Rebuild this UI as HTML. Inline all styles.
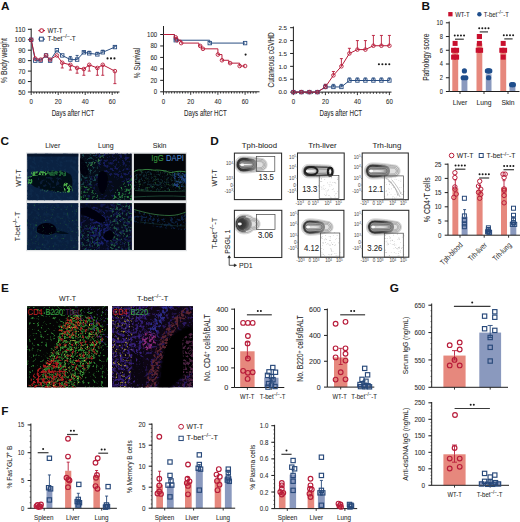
<!DOCTYPE html>
<html><head><meta charset="utf-8"><style>
html,body{margin:0;padding:0;background:#fff;width:520px;height:522px;overflow:hidden}
svg{display:block}
text{font-family:"Liberation Sans",sans-serif}
</style></head><body>
<svg width="520" height="522" viewBox="0 0 520 522" font-family="Liberation Sans, sans-serif">
<defs><filter id="nz1" x="0" y="0" width="100%" height="100%" color-interpolation-filters="sRGB"><feTurbulence type="fractalNoise" baseFrequency="0.3" numOctaves="2" seed="3" result="t"/><feColorMatrix in="t" type="matrix" values="0 0 0 0 0 0 0 0 0 0 0 0 0 0 0 6.25 0 0 0 -3.125" result="a"/><feComposite in="SourceGraphic" in2="a" operator="in"/></filter><filter id="nz2" x="0" y="0" width="100%" height="100%" color-interpolation-filters="sRGB"><feTurbulence type="fractalNoise" baseFrequency="0.4" numOctaves="2" seed="17" result="t"/><feColorMatrix in="t" type="matrix" values="0 0 0 0 0 0 0 0 0 0 0 0 0 0 0 6.25 0 0 0 -2.375" result="a"/><feComposite in="SourceGraphic" in2="a" operator="in"/></filter><filter id="nz3" x="0" y="0" width="100%" height="100%" color-interpolation-filters="sRGB"><feTurbulence type="fractalNoise" baseFrequency="0.45" numOctaves="2" seed="5" result="t"/><feColorMatrix in="t" type="matrix" values="0 0 0 0 0 0 0 0 0 0 0 0 0 0 0 6.25 0 0 0 -2.5" result="a"/><feComposite in="SourceGraphic" in2="a" operator="in"/></filter><filter id="nz4" x="0" y="0" width="100%" height="100%" color-interpolation-filters="sRGB"><feTurbulence type="fractalNoise" baseFrequency="0.45" numOctaves="2" seed="8" result="t"/><feColorMatrix in="t" type="matrix" values="0 0 0 0 0 0 0 0 0 0 0 0 0 0 0 6.25 0 0 0 -2.625" result="a"/><feComposite in="SourceGraphic" in2="a" operator="in"/></filter><filter id="nz5" x="0" y="0" width="100%" height="100%" color-interpolation-filters="sRGB"><feTurbulence type="fractalNoise" baseFrequency="0.413" numOctaves="2" seed="7" result="t"/><feColorMatrix in="t" type="matrix" values="0 0 0 0 0 0 0 0 0 0 0 0 0 0 0 6.25 0 0 0 -2.5" result="a"/><feComposite in="SourceGraphic" in2="a" operator="in"/></filter><filter id="nz6" x="0" y="0" width="100%" height="100%" color-interpolation-filters="sRGB"><feTurbulence type="fractalNoise" baseFrequency="0.45" numOctaves="2" seed="9" result="t"/><feColorMatrix in="t" type="matrix" values="0 0 0 0 0 0 0 0 0 0 0 0 0 0 0 6.25 0 0 0 -3.125" result="a"/><feComposite in="SourceGraphic" in2="a" operator="in"/></filter><filter id="nz7" x="0" y="0" width="100%" height="100%" color-interpolation-filters="sRGB"><feTurbulence type="fractalNoise" baseFrequency="0.3" numOctaves="2" seed="10" result="t"/><feColorMatrix in="t" type="matrix" values="0 0 0 0 0 0 0 0 0 0 0 0 0 0 0 6.25 0 0 0 -3.125" result="a"/><feComposite in="SourceGraphic" in2="a" operator="in"/></filter><filter id="nz8" x="0" y="0" width="100%" height="100%" color-interpolation-filters="sRGB"><feTurbulence type="fractalNoise" baseFrequency="0.375" numOctaves="2" seed="11" result="t"/><feColorMatrix in="t" type="matrix" values="0 0 0 0 0 0 0 0 0 0 0 0 0 0 0 6.25 0 0 0 -3.125" result="a"/><feComposite in="SourceGraphic" in2="a" operator="in"/></filter><filter id="nz9" x="0" y="0" width="100%" height="100%" color-interpolation-filters="sRGB"><feTurbulence type="fractalNoise" baseFrequency="0.375" numOctaves="2" seed="12" result="t"/><feColorMatrix in="t" type="matrix" values="0 0 0 0 0 0 0 0 0 0 0 0 0 0 0 6.25 0 0 0 -3.438" result="a"/><feComposite in="SourceGraphic" in2="a" operator="in"/></filter><filter id="nz10" x="0" y="0" width="100%" height="100%" color-interpolation-filters="sRGB"><feTurbulence type="fractalNoise" baseFrequency="0.413" numOctaves="2" seed="13" result="t"/><feColorMatrix in="t" type="matrix" values="0 0 0 0 0 0 0 0 0 0 0 0 0 0 0 6.25 0 0 0 -3.375" result="a"/><feComposite in="SourceGraphic" in2="a" operator="in"/></filter><filter id="nz11" x="0" y="0" width="100%" height="100%" color-interpolation-filters="sRGB"><feTurbulence type="fractalNoise" baseFrequency="0.413" numOctaves="2" seed="14" result="t"/><feColorMatrix in="t" type="matrix" values="0 0 0 0 0 0 0 0 0 0 0 0 0 0 0 6.25 0 0 0 -3.25" result="a"/><feComposite in="SourceGraphic" in2="a" operator="in"/></filter><filter id="nz12" x="0" y="0" width="100%" height="100%" color-interpolation-filters="sRGB"><feTurbulence type="fractalNoise" baseFrequency="0.413" numOctaves="2" seed="15" result="t"/><feColorMatrix in="t" type="matrix" values="0 0 0 0 0 0 0 0 0 0 0 0 0 0 0 6.25 0 0 0 -3.125" result="a"/><feComposite in="SourceGraphic" in2="a" operator="in"/></filter><filter id="nz13" x="0" y="0" width="100%" height="100%" color-interpolation-filters="sRGB"><feTurbulence type="fractalNoise" baseFrequency="0.45" numOctaves="2" seed="16" result="t"/><feColorMatrix in="t" type="matrix" values="0 0 0 0 0 0 0 0 0 0 0 0 0 0 0 6.25 0 0 0 -3.25" result="a"/><feComposite in="SourceGraphic" in2="a" operator="in"/></filter><filter id="nz14" x="0" y="0" width="100%" height="100%" color-interpolation-filters="sRGB"><feTurbulence type="fractalNoise" baseFrequency="0.413" numOctaves="2" seed="21" result="t"/><feColorMatrix in="t" type="matrix" values="0 0 0 0 0 0 0 0 0 0 0 0 0 0 0 6.25 0 0 0 -3.125" result="a"/><feComposite in="SourceGraphic" in2="a" operator="in"/></filter><filter id="nz15" x="0" y="0" width="100%" height="100%" color-interpolation-filters="sRGB"><feTurbulence type="fractalNoise" baseFrequency="0.375" numOctaves="2" seed="22" result="t"/><feColorMatrix in="t" type="matrix" values="0 0 0 0 0 0 0 0 0 0 0 0 0 0 0 6.25 0 0 0 -3.875" result="a"/><feComposite in="SourceGraphic" in2="a" operator="in"/></filter><filter id="nz16" x="0" y="0" width="100%" height="100%" color-interpolation-filters="sRGB"><feTurbulence type="fractalNoise" baseFrequency="0.375" numOctaves="2" seed="23" result="t"/><feColorMatrix in="t" type="matrix" values="0 0 0 0 0 0 0 0 0 0 0 0 0 0 0 6.25 0 0 0 -2.812" result="a"/><feComposite in="SourceGraphic" in2="a" operator="in"/></filter><filter id="nz17" x="0" y="0" width="100%" height="100%" color-interpolation-filters="sRGB"><feTurbulence type="fractalNoise" baseFrequency="0.3" numOctaves="2" seed="31" result="t"/><feColorMatrix in="t" type="matrix" values="0 0 0 0 0 0 0 0 0 0 0 0 0 0 0 6.25 0 0 0 -3.125" result="a"/><feComposite in="SourceGraphic" in2="a" operator="in"/></filter><filter id="nz18" x="0" y="0" width="100%" height="100%" color-interpolation-filters="sRGB"><feTurbulence type="fractalNoise" baseFrequency="0.45" numOctaves="2" seed="32" result="t"/><feColorMatrix in="t" type="matrix" values="0 0 0 0 0 0 0 0 0 0 0 0 0 0 0 6.25 0 0 0 -4.125" result="a"/><feComposite in="SourceGraphic" in2="a" operator="in"/></filter><filter id="nz19" x="0" y="0" width="100%" height="100%" color-interpolation-filters="sRGB"><feTurbulence type="fractalNoise" baseFrequency="0.338" numOctaves="2" seed="41" result="t"/><feColorMatrix in="t" type="matrix" values="0 0 0 0 0 0 0 0 0 0 0 0 0 0 0 6.25 0 0 0 -3.125" result="a"/><feComposite in="SourceGraphic" in2="a" operator="in"/></filter><filter id="nz20" x="0" y="0" width="100%" height="100%" color-interpolation-filters="sRGB"><feTurbulence type="fractalNoise" baseFrequency="0.375" numOctaves="2" seed="42" result="t"/><feColorMatrix in="t" type="matrix" values="0 0 0 0 0 0 0 0 0 0 0 0 0 0 0 6.25 0 0 0 -3.0" result="a"/><feComposite in="SourceGraphic" in2="a" operator="in"/></filter><filter id="nz21" x="0" y="0" width="100%" height="100%" color-interpolation-filters="sRGB"><feTurbulence type="fractalNoise" baseFrequency="0.413" numOctaves="2" seed="43" result="t"/><feColorMatrix in="t" type="matrix" values="0 0 0 0 0 0 0 0 0 0 0 0 0 0 0 6.25 0 0 0 -3.312" result="a"/><feComposite in="SourceGraphic" in2="a" operator="in"/></filter><filter id="nz22" x="0" y="0" width="100%" height="100%" color-interpolation-filters="sRGB"><feTurbulence type="fractalNoise" baseFrequency="0.413" numOctaves="2" seed="44" result="t"/><feColorMatrix in="t" type="matrix" values="0 0 0 0 0 0 0 0 0 0 0 0 0 0 0 6.25 0 0 0 -3.438" result="a"/><feComposite in="SourceGraphic" in2="a" operator="in"/></filter><filter id="nz23" x="0" y="0" width="100%" height="100%" color-interpolation-filters="sRGB"><feTurbulence type="fractalNoise" baseFrequency="0.375" numOctaves="2" seed="51" result="t"/><feColorMatrix in="t" type="matrix" values="0 0 0 0 0 0 0 0 0 0 0 0 0 0 0 6.25 0 0 0 -3.125" result="a"/><feComposite in="SourceGraphic" in2="a" operator="in"/></filter><filter id="nz24" x="0" y="0" width="100%" height="100%" color-interpolation-filters="sRGB"><feTurbulence type="fractalNoise" baseFrequency="0.375" numOctaves="2" seed="61" result="t"/><feColorMatrix in="t" type="matrix" values="0 0 0 0 0 0 0 0 0 0 0 0 0 0 0 6.25 0 0 0 -3.75" result="a"/><feComposite in="SourceGraphic" in2="a" operator="in"/></filter><filter id="nz25" x="0" y="0" width="100%" height="100%" color-interpolation-filters="sRGB"><feTurbulence type="fractalNoise" baseFrequency="0.375" numOctaves="2" seed="62" result="t"/><feColorMatrix in="t" type="matrix" values="0 0 0 0 0 0 0 0 0 0 0 0 0 0 0 6.25 0 0 0 -3.125" result="a"/><feComposite in="SourceGraphic" in2="a" operator="in"/></filter><filter id="nz26" x="0" y="0" width="100%" height="100%" color-interpolation-filters="sRGB"><feTurbulence type="fractalNoise" baseFrequency="0.45" numOctaves="2" seed="63" result="t"/><feColorMatrix in="t" type="matrix" values="0 0 0 0 0 0 0 0 0 0 0 0 0 0 0 6.25 0 0 0 -3.75" result="a"/><feComposite in="SourceGraphic" in2="a" operator="in"/></filter><filter id="nz27" x="0" y="0" width="100%" height="100%" color-interpolation-filters="sRGB"><feTurbulence type="fractalNoise" baseFrequency="0.375" numOctaves="2" seed="64" result="t"/><feColorMatrix in="t" type="matrix" values="0 0 0 0 0 0 0 0 0 0 0 0 0 0 0 6.25 0 0 0 -3.562" result="a"/><feComposite in="SourceGraphic" in2="a" operator="in"/></filter><filter id="nz28" x="0" y="0" width="100%" height="100%" color-interpolation-filters="sRGB"><feTurbulence type="fractalNoise" baseFrequency="0.375" numOctaves="2" seed="65" result="t"/><feColorMatrix in="t" type="matrix" values="0 0 0 0 0 0 0 0 0 0 0 0 0 0 0 6.25 0 0 0 -2.937" result="a"/><feComposite in="SourceGraphic" in2="a" operator="in"/></filter><filter id="nz29" x="0" y="0" width="100%" height="100%" color-interpolation-filters="sRGB"><feTurbulence type="fractalNoise" baseFrequency="0.413" numOctaves="2" seed="66" result="t"/><feColorMatrix in="t" type="matrix" values="0 0 0 0 0 0 0 0 0 0 0 0 0 0 0 6.25 0 0 0 -3.125" result="a"/><feComposite in="SourceGraphic" in2="a" operator="in"/></filter><filter id="nz30" x="0" y="0" width="100%" height="100%" color-interpolation-filters="sRGB"><feTurbulence type="fractalNoise" baseFrequency="0.375" numOctaves="2" seed="67" result="t"/><feColorMatrix in="t" type="matrix" values="0 0 0 0 0 0 0 0 0 0 0 0 0 0 0 6.25 0 0 0 -3.75" result="a"/><feComposite in="SourceGraphic" in2="a" operator="in"/></filter><filter id="nz31" x="0" y="0" width="100%" height="100%" color-interpolation-filters="sRGB"><feTurbulence type="fractalNoise" baseFrequency="0.45" numOctaves="2" seed="68" result="t"/><feColorMatrix in="t" type="matrix" values="0 0 0 0 0 0 0 0 0 0 0 0 0 0 0 6.25 0 0 0 -4.125" result="a"/><feComposite in="SourceGraphic" in2="a" operator="in"/></filter><filter id="nz32" x="0" y="0" width="100%" height="100%" color-interpolation-filters="sRGB"><feTurbulence type="fractalNoise" baseFrequency="0.338" numOctaves="2" seed="71" result="t"/><feColorMatrix in="t" type="matrix" values="0 0 0 0 0 0 0 0 0 0 0 0 0 0 0 6.25 0 0 0 -3.25" result="a"/><feComposite in="SourceGraphic" in2="a" operator="in"/></filter><filter id="nz33" x="0" y="0" width="100%" height="100%" color-interpolation-filters="sRGB"><feTurbulence type="fractalNoise" baseFrequency="0.375" numOctaves="2" seed="72" result="t"/><feColorMatrix in="t" type="matrix" values="0 0 0 0 0 0 0 0 0 0 0 0 0 0 0 6.25 0 0 0 -3.125" result="a"/><feComposite in="SourceGraphic" in2="a" operator="in"/></filter><filter id="nz34" x="0" y="0" width="100%" height="100%" color-interpolation-filters="sRGB"><feTurbulence type="fractalNoise" baseFrequency="0.45" numOctaves="2" seed="73" result="t"/><feColorMatrix in="t" type="matrix" values="0 0 0 0 0 0 0 0 0 0 0 0 0 0 0 6.25 0 0 0 -3.875" result="a"/><feComposite in="SourceGraphic" in2="a" operator="in"/></filter><filter id="nz35" x="0" y="0" width="100%" height="100%" color-interpolation-filters="sRGB"><feTurbulence type="fractalNoise" baseFrequency="0.375" numOctaves="2" seed="74" result="t"/><feColorMatrix in="t" type="matrix" values="0 0 0 0 0 0 0 0 0 0 0 0 0 0 0 6.25 0 0 0 -2.75" result="a"/><feComposite in="SourceGraphic" in2="a" operator="in"/></filter><filter id="nz36" x="0" y="0" width="100%" height="100%" color-interpolation-filters="sRGB"><feTurbulence type="fractalNoise" baseFrequency="0.375" numOctaves="2" seed="75" result="t"/><feColorMatrix in="t" type="matrix" values="0 0 0 0 0 0 0 0 0 0 0 0 0 0 0 6.25 0 0 0 -2.875" result="a"/><feComposite in="SourceGraphic" in2="a" operator="in"/></filter><filter id="nz37" x="0" y="0" width="100%" height="100%" color-interpolation-filters="sRGB"><feTurbulence type="fractalNoise" baseFrequency="0.375" numOctaves="2" seed="76" result="t"/><feColorMatrix in="t" type="matrix" values="0 0 0 0 0 0 0 0 0 0 0 0 0 0 0 6.25 0 0 0 -2.812" result="a"/><feComposite in="SourceGraphic" in2="a" operator="in"/></filter><filter id="nz38" x="0" y="0" width="100%" height="100%" color-interpolation-filters="sRGB"><feTurbulence type="fractalNoise" baseFrequency="0.375" numOctaves="2" seed="77" result="t"/><feColorMatrix in="t" type="matrix" values="0 0 0 0 0 0 0 0 0 0 0 0 0 0 0 6.25 0 0 0 -2.812" result="a"/><feComposite in="SourceGraphic" in2="a" operator="in"/></filter><filter id="nz39" x="0" y="0" width="100%" height="100%" color-interpolation-filters="sRGB"><feTurbulence type="fractalNoise" baseFrequency="0.375" numOctaves="2" seed="78" result="t"/><feColorMatrix in="t" type="matrix" values="0 0 0 0 0 0 0 0 0 0 0 0 0 0 0 6.25 0 0 0 -1.875" result="a"/><feComposite in="SourceGraphic" in2="a" operator="in"/></filter><filter id="b05" x="-20%" y="-20%" width="140%" height="140%"><feGaussianBlur stdDeviation="0.5"/></filter><filter id="b1" x="-20%" y="-20%" width="140%" height="140%"><feGaussianBlur stdDeviation="1"/></filter><filter id="b2" x="-30%" y="-30%" width="160%" height="160%"><feGaussianBlur stdDeviation="2"/></filter></defs>
<rect width="520" height="522" fill="#fff"/>
<text x="0.9" y="9.7" font-size="11.8" font-weight="bold" fill="#111">A</text>
<text x="421.5" y="9.7" font-size="11.8" font-weight="bold" fill="#111">B</text>
<text x="0.5" y="144.6" font-size="11.8" font-weight="bold" fill="#111">C</text>
<text x="210.3" y="144.6" font-size="11.8" font-weight="bold" fill="#111">D</text>
<text x="1.0" y="292.0" font-size="11.8" font-weight="bold" fill="#111">E</text>
<text x="389.8" y="291.8" font-size="11.8" font-weight="bold" fill="#111">G</text>
<text x="1.2" y="414.9" font-size="11.8" font-weight="bold" fill="#111">F</text>
<line x1="31.20" y1="28.50" x2="31.20" y2="92.00" stroke="#1e1e1e" stroke-width="1.0"/>
<line x1="27.90" y1="92.00" x2="31.20" y2="92.00" stroke="#1e1e1e" stroke-width="1.0"/>
<g transform="translate(25.40 94.51) scale(0.93 1)"><text x="0" y="0" font-size="7.0" text-anchor="end" fill="#2a2a2a" font-weight="normal" stroke="#2a2a2a" stroke-width="0.07">50</text></g>
<line x1="27.90" y1="81.55" x2="31.20" y2="81.55" stroke="#1e1e1e" stroke-width="1.0"/>
<g transform="translate(25.40 84.06) scale(0.93 1)"><text x="0" y="0" font-size="7.0" text-anchor="end" fill="#2a2a2a" font-weight="normal" stroke="#2a2a2a" stroke-width="0.07">60</text></g>
<line x1="27.90" y1="71.10" x2="31.20" y2="71.10" stroke="#1e1e1e" stroke-width="1.0"/>
<g transform="translate(25.40 73.61) scale(0.93 1)"><text x="0" y="0" font-size="7.0" text-anchor="end" fill="#2a2a2a" font-weight="normal" stroke="#2a2a2a" stroke-width="0.07">70</text></g>
<line x1="27.90" y1="60.65" x2="31.20" y2="60.65" stroke="#1e1e1e" stroke-width="1.0"/>
<g transform="translate(25.40 63.16) scale(0.93 1)"><text x="0" y="0" font-size="7.0" text-anchor="end" fill="#2a2a2a" font-weight="normal" stroke="#2a2a2a" stroke-width="0.07">80</text></g>
<line x1="27.90" y1="50.20" x2="31.20" y2="50.20" stroke="#1e1e1e" stroke-width="1.0"/>
<g transform="translate(25.40 52.71) scale(0.93 1)"><text x="0" y="0" font-size="7.0" text-anchor="end" fill="#2a2a2a" font-weight="normal" stroke="#2a2a2a" stroke-width="0.07">90</text></g>
<line x1="27.90" y1="39.75" x2="31.20" y2="39.75" stroke="#1e1e1e" stroke-width="1.0"/>
<g transform="translate(25.40 42.26) scale(0.93 1)"><text x="0" y="0" font-size="7.0" text-anchor="end" fill="#2a2a2a" font-weight="normal" stroke="#2a2a2a" stroke-width="0.07">100</text></g>
<line x1="27.90" y1="29.30" x2="31.20" y2="29.30" stroke="#1e1e1e" stroke-width="1.0"/>
<g transform="translate(25.40 31.81) scale(0.93 1)"><text x="0" y="0" font-size="7.0" text-anchor="end" fill="#2a2a2a" font-weight="normal" stroke="#2a2a2a" stroke-width="0.07">110</text></g>
<line x1="31.20" y1="92.00" x2="119.50" y2="92.00" stroke="#1e1e1e" stroke-width="1.0"/>
<line x1="31.20" y1="92.00" x2="31.20" y2="95.00" stroke="#1e1e1e" stroke-width="0.9"/>
<line x1="33.90" y1="92.00" x2="33.90" y2="93.70" stroke="#1e1e1e" stroke-width="0.9"/>
<line x1="36.60" y1="92.00" x2="36.60" y2="93.70" stroke="#1e1e1e" stroke-width="0.9"/>
<line x1="39.30" y1="92.00" x2="39.30" y2="93.70" stroke="#1e1e1e" stroke-width="0.9"/>
<line x1="42.00" y1="92.00" x2="42.00" y2="93.70" stroke="#1e1e1e" stroke-width="0.9"/>
<line x1="44.70" y1="92.00" x2="44.70" y2="93.70" stroke="#1e1e1e" stroke-width="0.9"/>
<line x1="47.40" y1="92.00" x2="47.40" y2="93.70" stroke="#1e1e1e" stroke-width="0.9"/>
<line x1="50.10" y1="92.00" x2="50.10" y2="93.70" stroke="#1e1e1e" stroke-width="0.9"/>
<line x1="52.80" y1="92.00" x2="52.80" y2="93.70" stroke="#1e1e1e" stroke-width="0.9"/>
<line x1="55.50" y1="92.00" x2="55.50" y2="93.70" stroke="#1e1e1e" stroke-width="0.9"/>
<line x1="58.20" y1="92.00" x2="58.20" y2="95.00" stroke="#1e1e1e" stroke-width="0.9"/>
<line x1="60.90" y1="92.00" x2="60.90" y2="93.70" stroke="#1e1e1e" stroke-width="0.9"/>
<line x1="63.60" y1="92.00" x2="63.60" y2="93.70" stroke="#1e1e1e" stroke-width="0.9"/>
<line x1="66.30" y1="92.00" x2="66.30" y2="93.70" stroke="#1e1e1e" stroke-width="0.9"/>
<line x1="69.00" y1="92.00" x2="69.00" y2="93.70" stroke="#1e1e1e" stroke-width="0.9"/>
<line x1="71.70" y1="92.00" x2="71.70" y2="93.70" stroke="#1e1e1e" stroke-width="0.9"/>
<line x1="74.40" y1="92.00" x2="74.40" y2="93.70" stroke="#1e1e1e" stroke-width="0.9"/>
<line x1="77.10" y1="92.00" x2="77.10" y2="93.70" stroke="#1e1e1e" stroke-width="0.9"/>
<line x1="79.80" y1="92.00" x2="79.80" y2="93.70" stroke="#1e1e1e" stroke-width="0.9"/>
<line x1="82.50" y1="92.00" x2="82.50" y2="93.70" stroke="#1e1e1e" stroke-width="0.9"/>
<line x1="85.20" y1="92.00" x2="85.20" y2="95.00" stroke="#1e1e1e" stroke-width="0.9"/>
<line x1="87.90" y1="92.00" x2="87.90" y2="93.70" stroke="#1e1e1e" stroke-width="0.9"/>
<line x1="90.60" y1="92.00" x2="90.60" y2="93.70" stroke="#1e1e1e" stroke-width="0.9"/>
<line x1="93.30" y1="92.00" x2="93.30" y2="93.70" stroke="#1e1e1e" stroke-width="0.9"/>
<line x1="96.00" y1="92.00" x2="96.00" y2="93.70" stroke="#1e1e1e" stroke-width="0.9"/>
<line x1="98.70" y1="92.00" x2="98.70" y2="93.70" stroke="#1e1e1e" stroke-width="0.9"/>
<line x1="101.40" y1="92.00" x2="101.40" y2="93.70" stroke="#1e1e1e" stroke-width="0.9"/>
<line x1="104.10" y1="92.00" x2="104.10" y2="93.70" stroke="#1e1e1e" stroke-width="0.9"/>
<line x1="106.80" y1="92.00" x2="106.80" y2="93.70" stroke="#1e1e1e" stroke-width="0.9"/>
<line x1="109.50" y1="92.00" x2="109.50" y2="93.70" stroke="#1e1e1e" stroke-width="0.9"/>
<line x1="112.20" y1="92.00" x2="112.20" y2="95.00" stroke="#1e1e1e" stroke-width="0.9"/>
<line x1="114.90" y1="92.00" x2="114.90" y2="93.70" stroke="#1e1e1e" stroke-width="0.9"/>
<line x1="117.60" y1="92.00" x2="117.60" y2="93.70" stroke="#1e1e1e" stroke-width="0.9"/>
<g transform="translate(31.20 103.90) scale(0.95 1)"><text x="0" y="0" font-size="6.4" text-anchor="middle" fill="#2a2a2a" font-weight="normal" stroke="#2a2a2a" stroke-width="0.07">0</text></g>
<g transform="translate(58.20 103.90) scale(0.95 1)"><text x="0" y="0" font-size="6.4" text-anchor="middle" fill="#2a2a2a" font-weight="normal" stroke="#2a2a2a" stroke-width="0.07">20</text></g>
<g transform="translate(85.20 103.90) scale(0.95 1)"><text x="0" y="0" font-size="6.4" text-anchor="middle" fill="#2a2a2a" font-weight="normal" stroke="#2a2a2a" stroke-width="0.07">40</text></g>
<g transform="translate(112.20 103.90) scale(0.95 1)"><text x="0" y="0" font-size="6.4" text-anchor="middle" fill="#2a2a2a" font-weight="normal" stroke="#2a2a2a" stroke-width="0.07">60</text></g>
<text x="73.00" y="115.80" font-size="8.6" text-anchor="middle" fill="#2a2a2a" font-weight="normal" textLength="42.7" lengthAdjust="spacingAndGlyphs" stroke="#2a2a2a" stroke-width="0.07">Days after HCT</text>
<text x="6.60" y="60.50" font-size="8.6" text-anchor="middle" fill="#2a2a2a" font-weight="normal" textLength="45" lengthAdjust="spacingAndGlyphs" transform="rotate(-90 6.60 60.50)" stroke="#2a2a2a" stroke-width="0.07">% Body weight</text>
<line x1="70.35" y1="59.61" x2="70.35" y2="56.47" stroke="#28497a" stroke-width="0.9"/>
<line x1="68.85" y1="56.47" x2="71.85" y2="56.47" stroke="#28497a" stroke-width="0.9"/>
<line x1="77.10" y1="59.61" x2="77.10" y2="55.43" stroke="#28497a" stroke-width="0.9"/>
<line x1="75.60" y1="55.43" x2="78.60" y2="55.43" stroke="#28497a" stroke-width="0.9"/>
<line x1="83.85" y1="52.29" x2="83.85" y2="51.25" stroke="#28497a" stroke-width="0.9"/>
<line x1="82.35" y1="51.25" x2="85.35" y2="51.25" stroke="#28497a" stroke-width="0.9"/>
<line x1="89.25" y1="53.34" x2="89.25" y2="51.25" stroke="#28497a" stroke-width="0.9"/>
<line x1="87.75" y1="51.25" x2="90.75" y2="51.25" stroke="#28497a" stroke-width="0.9"/>
<line x1="97.35" y1="54.38" x2="97.35" y2="52.29" stroke="#28497a" stroke-width="0.9"/>
<line x1="95.85" y1="52.29" x2="98.85" y2="52.29" stroke="#28497a" stroke-width="0.9"/>
<line x1="102.75" y1="52.29" x2="102.75" y2="50.20" stroke="#28497a" stroke-width="0.9"/>
<line x1="101.25" y1="50.20" x2="104.25" y2="50.20" stroke="#28497a" stroke-width="0.9"/>
<line x1="114.90" y1="47.07" x2="114.90" y2="46.02" stroke="#28497a" stroke-width="0.9"/>
<line x1="113.40" y1="46.02" x2="116.40" y2="46.02" stroke="#28497a" stroke-width="0.9"/>
<path d="M31.20 39.75 L35.25 60.65 L40.65 60.65 L46.05 55.43 L50.10 60.65 L56.85 50.20 L62.25 55.43 L70.35 59.61 L77.10 59.61 L83.85 52.29 L89.25 53.34 L97.35 54.38 L102.75 52.29 L114.90 47.07" stroke="#2a4e82" stroke-width="1.0" fill="none"/>
<line x1="62.25" y1="62.74" x2="62.25" y2="67.97" stroke="#b81c3a" stroke-width="0.9"/>
<line x1="60.75" y1="67.97" x2="63.75" y2="67.97" stroke="#b81c3a" stroke-width="0.9"/>
<line x1="70.35" y1="64.83" x2="70.35" y2="70.06" stroke="#b81c3a" stroke-width="0.9"/>
<line x1="68.85" y1="70.06" x2="71.85" y2="70.06" stroke="#b81c3a" stroke-width="0.9"/>
<line x1="77.10" y1="67.97" x2="77.10" y2="73.19" stroke="#b81c3a" stroke-width="0.9"/>
<line x1="75.60" y1="73.19" x2="78.60" y2="73.19" stroke="#b81c3a" stroke-width="0.9"/>
<line x1="83.85" y1="69.01" x2="83.85" y2="75.28" stroke="#b81c3a" stroke-width="0.9"/>
<line x1="82.35" y1="75.28" x2="85.35" y2="75.28" stroke="#b81c3a" stroke-width="0.9"/>
<line x1="89.25" y1="64.83" x2="89.25" y2="71.10" stroke="#b81c3a" stroke-width="0.9"/>
<line x1="87.75" y1="71.10" x2="90.75" y2="71.10" stroke="#b81c3a" stroke-width="0.9"/>
<line x1="97.35" y1="67.97" x2="97.35" y2="75.28" stroke="#b81c3a" stroke-width="0.9"/>
<line x1="95.85" y1="75.28" x2="98.85" y2="75.28" stroke="#b81c3a" stroke-width="0.9"/>
<line x1="102.75" y1="64.83" x2="102.75" y2="75.28" stroke="#b81c3a" stroke-width="0.9"/>
<line x1="101.25" y1="75.28" x2="104.25" y2="75.28" stroke="#b81c3a" stroke-width="0.9"/>
<line x1="114.90" y1="71.10" x2="114.90" y2="83.64" stroke="#b81c3a" stroke-width="0.9"/>
<line x1="113.40" y1="83.64" x2="116.40" y2="83.64" stroke="#b81c3a" stroke-width="0.9"/>
<path d="M31.20 39.75 L35.25 58.56 L40.65 59.61 L46.05 55.43 L50.10 59.61 L56.85 55.43 L62.25 62.74 L70.35 64.83 L77.10 67.97 L83.85 69.01 L89.25 64.83 L97.35 67.97 L102.75 64.83 L114.90 71.10" stroke="#b81c3a" stroke-width="1.0" fill="none"/>
<rect x="29.50" y="38.05" width="3.4" height="3.4" stroke="#2a4e82" stroke-width="0.9" fill="none"/>
<rect x="33.55" y="58.95" width="3.4" height="3.4" stroke="#2a4e82" stroke-width="0.9" fill="none"/>
<rect x="38.95" y="58.95" width="3.4" height="3.4" stroke="#2a4e82" stroke-width="0.9" fill="none"/>
<rect x="44.35" y="53.73" width="3.4" height="3.4" stroke="#2a4e82" stroke-width="0.9" fill="none"/>
<rect x="48.40" y="58.95" width="3.4" height="3.4" stroke="#2a4e82" stroke-width="0.9" fill="none"/>
<rect x="55.15" y="48.50" width="3.4" height="3.4" stroke="#2a4e82" stroke-width="0.9" fill="none"/>
<rect x="60.55" y="53.73" width="3.4" height="3.4" stroke="#2a4e82" stroke-width="0.9" fill="none"/>
<rect x="68.65" y="57.91" width="3.4" height="3.4" stroke="#2a4e82" stroke-width="0.9" fill="none"/>
<rect x="75.40" y="57.91" width="3.4" height="3.4" stroke="#2a4e82" stroke-width="0.9" fill="none"/>
<rect x="82.15" y="50.59" width="3.4" height="3.4" stroke="#2a4e82" stroke-width="0.9" fill="none"/>
<rect x="87.55" y="51.63" width="3.4" height="3.4" stroke="#2a4e82" stroke-width="0.9" fill="none"/>
<rect x="95.65" y="52.68" width="3.4" height="3.4" stroke="#2a4e82" stroke-width="0.9" fill="none"/>
<rect x="101.05" y="50.59" width="3.4" height="3.4" stroke="#2a4e82" stroke-width="0.9" fill="none"/>
<rect x="113.20" y="45.37" width="3.4" height="3.4" stroke="#2a4e82" stroke-width="0.9" fill="none"/>
<circle cx="31.20" cy="39.75" r="1.8" stroke="#b81c3a" stroke-width="0.9" fill="none"/>
<circle cx="35.25" cy="58.56" r="1.8" stroke="#b81c3a" stroke-width="0.9" fill="none"/>
<circle cx="40.65" cy="59.61" r="1.8" stroke="#b81c3a" stroke-width="0.9" fill="none"/>
<circle cx="46.05" cy="55.43" r="1.8" stroke="#b81c3a" stroke-width="0.9" fill="none"/>
<circle cx="50.10" cy="59.61" r="1.8" stroke="#b81c3a" stroke-width="0.9" fill="none"/>
<circle cx="56.85" cy="55.43" r="1.8" stroke="#b81c3a" stroke-width="0.9" fill="none"/>
<circle cx="62.25" cy="62.74" r="1.8" stroke="#b81c3a" stroke-width="0.9" fill="none"/>
<circle cx="70.35" cy="64.83" r="1.8" stroke="#b81c3a" stroke-width="0.9" fill="none"/>
<circle cx="77.10" cy="67.97" r="1.8" stroke="#b81c3a" stroke-width="0.9" fill="none"/>
<circle cx="83.85" cy="69.01" r="1.8" stroke="#b81c3a" stroke-width="0.9" fill="none"/>
<circle cx="89.25" cy="64.83" r="1.8" stroke="#b81c3a" stroke-width="0.9" fill="none"/>
<circle cx="97.35" cy="67.97" r="1.8" stroke="#b81c3a" stroke-width="0.9" fill="none"/>
<circle cx="102.75" cy="64.83" r="1.8" stroke="#b81c3a" stroke-width="0.9" fill="none"/>
<circle cx="114.90" cy="71.10" r="1.8" stroke="#b81c3a" stroke-width="0.9" fill="none"/>
<circle cx="107.55" cy="58.40" r="1.05" fill="#1a1a1a"/>
<circle cx="111.00" cy="58.40" r="1.05" fill="#1a1a1a"/>
<circle cx="114.45" cy="58.40" r="1.05" fill="#1a1a1a"/>
<line x1="38.30" y1="30.60" x2="45.00" y2="30.60" stroke="#b81c3a" stroke-width="1.1"/>
<circle cx="41.60" cy="30.60" r="1.9" stroke="#b81c3a" stroke-width="1.1" fill="white"/>
<g transform="translate(47.60 32.70) scale(0.92 1)"><text x="0" y="0" font-size="6.6" text-anchor="start" fill="#2a2a2a" font-weight="normal" stroke="#2a2a2a" stroke-width="0.07">WT-T</text></g>
<line x1="38.30" y1="39.10" x2="45.00" y2="39.10" stroke="#2a4e82" stroke-width="1.1"/>
<rect x="39.50" y="37.20" width="3.8" height="3.8" stroke="#2a4e82" stroke-width="1.1" fill="white"/>
<g transform="translate(47.60 41.00) scale(0.98 1)"><text x="0" y="0" font-size="6.6" text-anchor="start" fill="#2a2a2a" font-weight="normal" stroke="#2a2a2a" stroke-width="0.07">T-bet<tspan dy="-2.7" font-size="5.4">–/–</tspan><tspan dy="2.7">-T</tspan></text></g>
<line x1="163.50" y1="26.00" x2="163.50" y2="91.80" stroke="#1e1e1e" stroke-width="1.0"/>
<line x1="160.20" y1="91.80" x2="163.50" y2="91.80" stroke="#1e1e1e" stroke-width="1.0"/>
<g transform="translate(157.10 94.20) scale(0.9 1)"><text x="0" y="0" font-size="6.7" text-anchor="end" fill="#2a2a2a" font-weight="normal" stroke="#2a2a2a" stroke-width="0.07">0</text></g>
<line x1="160.20" y1="80.34" x2="163.50" y2="80.34" stroke="#1e1e1e" stroke-width="1.0"/>
<g transform="translate(157.10 82.74) scale(0.9 1)"><text x="0" y="0" font-size="6.7" text-anchor="end" fill="#2a2a2a" font-weight="normal" stroke="#2a2a2a" stroke-width="0.07">20</text></g>
<line x1="160.20" y1="68.88" x2="163.50" y2="68.88" stroke="#1e1e1e" stroke-width="1.0"/>
<g transform="translate(157.10 71.28) scale(0.9 1)"><text x="0" y="0" font-size="6.7" text-anchor="end" fill="#2a2a2a" font-weight="normal" stroke="#2a2a2a" stroke-width="0.07">40</text></g>
<line x1="160.20" y1="57.42" x2="163.50" y2="57.42" stroke="#1e1e1e" stroke-width="1.0"/>
<g transform="translate(157.10 59.82) scale(0.9 1)"><text x="0" y="0" font-size="6.7" text-anchor="end" fill="#2a2a2a" font-weight="normal" stroke="#2a2a2a" stroke-width="0.07">60</text></g>
<line x1="160.20" y1="45.96" x2="163.50" y2="45.96" stroke="#1e1e1e" stroke-width="1.0"/>
<g transform="translate(157.10 48.36) scale(0.9 1)"><text x="0" y="0" font-size="6.7" text-anchor="end" fill="#2a2a2a" font-weight="normal" stroke="#2a2a2a" stroke-width="0.07">80</text></g>
<line x1="160.20" y1="34.50" x2="163.50" y2="34.50" stroke="#1e1e1e" stroke-width="1.0"/>
<g transform="translate(157.10 36.90) scale(0.9 1)"><text x="0" y="0" font-size="6.7" text-anchor="end" fill="#2a2a2a" font-weight="normal" stroke="#2a2a2a" stroke-width="0.07">100</text></g>
<line x1="163.50" y1="91.80" x2="259.50" y2="91.80" stroke="#1e1e1e" stroke-width="1.0"/>
<line x1="163.50" y1="91.80" x2="163.50" y2="94.80" stroke="#1e1e1e" stroke-width="0.9"/>
<line x1="166.22" y1="91.80" x2="166.22" y2="93.50" stroke="#1e1e1e" stroke-width="0.9"/>
<line x1="168.94" y1="91.80" x2="168.94" y2="93.50" stroke="#1e1e1e" stroke-width="0.9"/>
<line x1="171.66" y1="91.80" x2="171.66" y2="93.50" stroke="#1e1e1e" stroke-width="0.9"/>
<line x1="174.38" y1="91.80" x2="174.38" y2="93.50" stroke="#1e1e1e" stroke-width="0.9"/>
<line x1="177.10" y1="91.80" x2="177.10" y2="93.50" stroke="#1e1e1e" stroke-width="0.9"/>
<line x1="179.82" y1="91.80" x2="179.82" y2="93.50" stroke="#1e1e1e" stroke-width="0.9"/>
<line x1="182.54" y1="91.80" x2="182.54" y2="93.50" stroke="#1e1e1e" stroke-width="0.9"/>
<line x1="185.26" y1="91.80" x2="185.26" y2="93.50" stroke="#1e1e1e" stroke-width="0.9"/>
<line x1="187.98" y1="91.80" x2="187.98" y2="93.50" stroke="#1e1e1e" stroke-width="0.9"/>
<line x1="190.70" y1="91.80" x2="190.70" y2="94.80" stroke="#1e1e1e" stroke-width="0.9"/>
<line x1="193.42" y1="91.80" x2="193.42" y2="93.50" stroke="#1e1e1e" stroke-width="0.9"/>
<line x1="196.14" y1="91.80" x2="196.14" y2="93.50" stroke="#1e1e1e" stroke-width="0.9"/>
<line x1="198.86" y1="91.80" x2="198.86" y2="93.50" stroke="#1e1e1e" stroke-width="0.9"/>
<line x1="201.58" y1="91.80" x2="201.58" y2="93.50" stroke="#1e1e1e" stroke-width="0.9"/>
<line x1="204.30" y1="91.80" x2="204.30" y2="93.50" stroke="#1e1e1e" stroke-width="0.9"/>
<line x1="207.02" y1="91.80" x2="207.02" y2="93.50" stroke="#1e1e1e" stroke-width="0.9"/>
<line x1="209.74" y1="91.80" x2="209.74" y2="93.50" stroke="#1e1e1e" stroke-width="0.9"/>
<line x1="212.46" y1="91.80" x2="212.46" y2="93.50" stroke="#1e1e1e" stroke-width="0.9"/>
<line x1="215.18" y1="91.80" x2="215.18" y2="93.50" stroke="#1e1e1e" stroke-width="0.9"/>
<line x1="217.90" y1="91.80" x2="217.90" y2="94.80" stroke="#1e1e1e" stroke-width="0.9"/>
<line x1="220.62" y1="91.80" x2="220.62" y2="93.50" stroke="#1e1e1e" stroke-width="0.9"/>
<line x1="223.34" y1="91.80" x2="223.34" y2="93.50" stroke="#1e1e1e" stroke-width="0.9"/>
<line x1="226.06" y1="91.80" x2="226.06" y2="93.50" stroke="#1e1e1e" stroke-width="0.9"/>
<line x1="228.78" y1="91.80" x2="228.78" y2="93.50" stroke="#1e1e1e" stroke-width="0.9"/>
<line x1="231.50" y1="91.80" x2="231.50" y2="93.50" stroke="#1e1e1e" stroke-width="0.9"/>
<line x1="234.22" y1="91.80" x2="234.22" y2="93.50" stroke="#1e1e1e" stroke-width="0.9"/>
<line x1="236.94" y1="91.80" x2="236.94" y2="93.50" stroke="#1e1e1e" stroke-width="0.9"/>
<line x1="239.66" y1="91.80" x2="239.66" y2="93.50" stroke="#1e1e1e" stroke-width="0.9"/>
<line x1="242.38" y1="91.80" x2="242.38" y2="93.50" stroke="#1e1e1e" stroke-width="0.9"/>
<line x1="245.10" y1="91.80" x2="245.10" y2="94.80" stroke="#1e1e1e" stroke-width="0.9"/>
<line x1="247.82" y1="91.80" x2="247.82" y2="93.50" stroke="#1e1e1e" stroke-width="0.9"/>
<line x1="250.54" y1="91.80" x2="250.54" y2="93.50" stroke="#1e1e1e" stroke-width="0.9"/>
<line x1="253.26" y1="91.80" x2="253.26" y2="93.50" stroke="#1e1e1e" stroke-width="0.9"/>
<line x1="255.98" y1="91.80" x2="255.98" y2="93.50" stroke="#1e1e1e" stroke-width="0.9"/>
<g transform="translate(163.50 103.90) scale(0.95 1)"><text x="0" y="0" font-size="6.4" text-anchor="middle" fill="#2a2a2a" font-weight="normal" stroke="#2a2a2a" stroke-width="0.07">0</text></g>
<g transform="translate(190.70 103.90) scale(0.95 1)"><text x="0" y="0" font-size="6.4" text-anchor="middle" fill="#2a2a2a" font-weight="normal" stroke="#2a2a2a" stroke-width="0.07">20</text></g>
<g transform="translate(217.90 103.90) scale(0.95 1)"><text x="0" y="0" font-size="6.4" text-anchor="middle" fill="#2a2a2a" font-weight="normal" stroke="#2a2a2a" stroke-width="0.07">40</text></g>
<g transform="translate(245.10 103.90) scale(0.95 1)"><text x="0" y="0" font-size="6.4" text-anchor="middle" fill="#2a2a2a" font-weight="normal" stroke="#2a2a2a" stroke-width="0.07">60</text></g>
<text x="205.40" y="115.80" font-size="8.6" text-anchor="middle" fill="#2a2a2a" font-weight="normal" textLength="42.7" lengthAdjust="spacingAndGlyphs" stroke="#2a2a2a" stroke-width="0.07">Days after HCT</text>
<text x="139.70" y="62.90" font-size="8.6" text-anchor="middle" fill="#2a2a2a" font-weight="normal" textLength="30.5" lengthAdjust="spacingAndGlyphs" transform="rotate(-90 139.70 62.90)" stroke="#2a2a2a" stroke-width="0.07">% Survival</text>
<path d="M163.50 34.50 L174.38 34.50 L174.38 40.23 L209.74 40.23 L209.74 43.09 L245.10 43.09" stroke="#2a4e82" stroke-width="1.0" fill="none"/>
<path d="M163.50 34.50 L174.38 34.50 L174.38 37.37 L177.10 37.37 L177.10 40.23 L181.18 40.23 L181.18 43.09 L198.86 43.09 L198.86 45.96 L201.58 45.96 L201.58 48.83 L217.90 48.83 L217.90 54.55 L221.98 54.55 L221.98 60.28 L228.78 60.28 L228.78 63.15 L239.66 63.15 L239.66 66.02 L245.10 66.02" stroke="#b81c3a" stroke-width="1.0" fill="none"/>
<rect x="174.04" y="38.53" width="3.4" height="3.4" stroke="#2a4e82" stroke-width="0.9" fill="none"/>
<rect x="208.04" y="41.39" width="3.4" height="3.4" stroke="#2a4e82" stroke-width="0.9" fill="none"/>
<rect x="243.40" y="41.39" width="3.4" height="3.4" stroke="#2a4e82" stroke-width="0.9" fill="none"/>
<circle cx="175.74" cy="37.37" r="1.8" stroke="#b81c3a" stroke-width="0.9" fill="none"/>
<circle cx="177.10" cy="40.23" r="1.8" stroke="#b81c3a" stroke-width="0.9" fill="none"/>
<circle cx="181.18" cy="43.09" r="1.8" stroke="#b81c3a" stroke-width="0.9" fill="none"/>
<circle cx="200.22" cy="45.96" r="1.8" stroke="#b81c3a" stroke-width="0.9" fill="none"/>
<circle cx="202.94" cy="48.83" r="1.8" stroke="#b81c3a" stroke-width="0.9" fill="none"/>
<circle cx="217.90" cy="54.55" r="1.8" stroke="#b81c3a" stroke-width="0.9" fill="none"/>
<circle cx="221.98" cy="60.28" r="1.8" stroke="#b81c3a" stroke-width="0.9" fill="none"/>
<circle cx="230.14" cy="63.15" r="1.8" stroke="#b81c3a" stroke-width="0.9" fill="none"/>
<circle cx="239.66" cy="66.02" r="1.8" stroke="#b81c3a" stroke-width="0.9" fill="none"/>
<circle cx="245.10" cy="66.02" r="1.8" stroke="#b81c3a" stroke-width="0.9" fill="none"/>
<circle cx="245.60" cy="54.60" r="1.05" fill="#1a1a1a"/>
<line x1="293.40" y1="26.50" x2="293.40" y2="92.10" stroke="#1e1e1e" stroke-width="1.0"/>
<line x1="290.10" y1="92.10" x2="293.40" y2="92.10" stroke="#1e1e1e" stroke-width="1.0"/>
<g transform="translate(287.00 94.32) scale(1.0 1)"><text x="0" y="0" font-size="6.2" text-anchor="end" fill="#2a2a2a" font-weight="normal" stroke="#2a2a2a" stroke-width="0.07">0.0</text></g>
<line x1="290.10" y1="79.22" x2="293.40" y2="79.22" stroke="#1e1e1e" stroke-width="1.0"/>
<g transform="translate(287.00 81.44) scale(1.0 1)"><text x="0" y="0" font-size="6.2" text-anchor="end" fill="#2a2a2a" font-weight="normal" stroke="#2a2a2a" stroke-width="0.07">0.5</text></g>
<line x1="290.10" y1="66.34" x2="293.40" y2="66.34" stroke="#1e1e1e" stroke-width="1.0"/>
<g transform="translate(287.00 68.56) scale(1.0 1)"><text x="0" y="0" font-size="6.2" text-anchor="end" fill="#2a2a2a" font-weight="normal" stroke="#2a2a2a" stroke-width="0.07">1.0</text></g>
<line x1="290.10" y1="53.46" x2="293.40" y2="53.46" stroke="#1e1e1e" stroke-width="1.0"/>
<g transform="translate(287.00 55.68) scale(1.0 1)"><text x="0" y="0" font-size="6.2" text-anchor="end" fill="#2a2a2a" font-weight="normal" stroke="#2a2a2a" stroke-width="0.07">1.5</text></g>
<line x1="290.10" y1="40.58" x2="293.40" y2="40.58" stroke="#1e1e1e" stroke-width="1.0"/>
<g transform="translate(287.00 42.80) scale(1.0 1)"><text x="0" y="0" font-size="6.2" text-anchor="end" fill="#2a2a2a" font-weight="normal" stroke="#2a2a2a" stroke-width="0.07">2.0</text></g>
<line x1="290.10" y1="27.70" x2="293.40" y2="27.70" stroke="#1e1e1e" stroke-width="1.0"/>
<g transform="translate(287.00 29.92) scale(1.0 1)"><text x="0" y="0" font-size="6.2" text-anchor="end" fill="#2a2a2a" font-weight="normal" stroke="#2a2a2a" stroke-width="0.07">2.5</text></g>
<line x1="293.40" y1="92.10" x2="391.50" y2="92.10" stroke="#1e1e1e" stroke-width="1.0"/>
<line x1="293.40" y1="92.10" x2="293.40" y2="95.10" stroke="#1e1e1e" stroke-width="0.9"/>
<line x1="296.60" y1="92.10" x2="296.60" y2="93.80" stroke="#1e1e1e" stroke-width="0.9"/>
<line x1="299.80" y1="92.10" x2="299.80" y2="93.80" stroke="#1e1e1e" stroke-width="0.9"/>
<line x1="303.00" y1="92.10" x2="303.00" y2="93.80" stroke="#1e1e1e" stroke-width="0.9"/>
<line x1="306.20" y1="92.10" x2="306.20" y2="93.80" stroke="#1e1e1e" stroke-width="0.9"/>
<line x1="309.40" y1="92.10" x2="309.40" y2="93.80" stroke="#1e1e1e" stroke-width="0.9"/>
<line x1="312.60" y1="92.10" x2="312.60" y2="93.80" stroke="#1e1e1e" stroke-width="0.9"/>
<line x1="315.80" y1="92.10" x2="315.80" y2="93.80" stroke="#1e1e1e" stroke-width="0.9"/>
<line x1="319.00" y1="92.10" x2="319.00" y2="93.80" stroke="#1e1e1e" stroke-width="0.9"/>
<line x1="322.20" y1="92.10" x2="322.20" y2="93.80" stroke="#1e1e1e" stroke-width="0.9"/>
<line x1="325.40" y1="92.10" x2="325.40" y2="95.10" stroke="#1e1e1e" stroke-width="0.9"/>
<line x1="328.60" y1="92.10" x2="328.60" y2="93.80" stroke="#1e1e1e" stroke-width="0.9"/>
<line x1="331.80" y1="92.10" x2="331.80" y2="93.80" stroke="#1e1e1e" stroke-width="0.9"/>
<line x1="335.00" y1="92.10" x2="335.00" y2="93.80" stroke="#1e1e1e" stroke-width="0.9"/>
<line x1="338.20" y1="92.10" x2="338.20" y2="93.80" stroke="#1e1e1e" stroke-width="0.9"/>
<line x1="341.40" y1="92.10" x2="341.40" y2="93.80" stroke="#1e1e1e" stroke-width="0.9"/>
<line x1="344.60" y1="92.10" x2="344.60" y2="93.80" stroke="#1e1e1e" stroke-width="0.9"/>
<line x1="347.80" y1="92.10" x2="347.80" y2="93.80" stroke="#1e1e1e" stroke-width="0.9"/>
<line x1="351.00" y1="92.10" x2="351.00" y2="93.80" stroke="#1e1e1e" stroke-width="0.9"/>
<line x1="354.20" y1="92.10" x2="354.20" y2="93.80" stroke="#1e1e1e" stroke-width="0.9"/>
<line x1="357.40" y1="92.10" x2="357.40" y2="95.10" stroke="#1e1e1e" stroke-width="0.9"/>
<line x1="360.60" y1="92.10" x2="360.60" y2="93.80" stroke="#1e1e1e" stroke-width="0.9"/>
<line x1="363.80" y1="92.10" x2="363.80" y2="93.80" stroke="#1e1e1e" stroke-width="0.9"/>
<line x1="367.00" y1="92.10" x2="367.00" y2="93.80" stroke="#1e1e1e" stroke-width="0.9"/>
<line x1="370.20" y1="92.10" x2="370.20" y2="93.80" stroke="#1e1e1e" stroke-width="0.9"/>
<line x1="373.40" y1="92.10" x2="373.40" y2="93.80" stroke="#1e1e1e" stroke-width="0.9"/>
<line x1="376.60" y1="92.10" x2="376.60" y2="93.80" stroke="#1e1e1e" stroke-width="0.9"/>
<line x1="379.80" y1="92.10" x2="379.80" y2="93.80" stroke="#1e1e1e" stroke-width="0.9"/>
<line x1="383.00" y1="92.10" x2="383.00" y2="93.80" stroke="#1e1e1e" stroke-width="0.9"/>
<line x1="386.20" y1="92.10" x2="386.20" y2="93.80" stroke="#1e1e1e" stroke-width="0.9"/>
<line x1="389.40" y1="92.10" x2="389.40" y2="95.10" stroke="#1e1e1e" stroke-width="0.9"/>
<g transform="translate(293.40 103.90) scale(0.95 1)"><text x="0" y="0" font-size="6.4" text-anchor="middle" fill="#2a2a2a" font-weight="normal" stroke="#2a2a2a" stroke-width="0.07">0</text></g>
<g transform="translate(325.40 103.90) scale(0.95 1)"><text x="0" y="0" font-size="6.4" text-anchor="middle" fill="#2a2a2a" font-weight="normal" stroke="#2a2a2a" stroke-width="0.07">20</text></g>
<g transform="translate(357.40 103.90) scale(0.95 1)"><text x="0" y="0" font-size="6.4" text-anchor="middle" fill="#2a2a2a" font-weight="normal" stroke="#2a2a2a" stroke-width="0.07">40</text></g>
<g transform="translate(389.40 103.90) scale(0.95 1)"><text x="0" y="0" font-size="6.4" text-anchor="middle" fill="#2a2a2a" font-weight="normal" stroke="#2a2a2a" stroke-width="0.07">60</text></g>
<text x="340.80" y="115.80" font-size="8.6" text-anchor="middle" fill="#2a2a2a" font-weight="normal" textLength="42.7" lengthAdjust="spacingAndGlyphs" stroke="#2a2a2a" stroke-width="0.07">Days after HCT</text>
<text x="274.00" y="59.90" font-size="8.6" text-anchor="middle" fill="#2a2a2a" font-weight="normal" textLength="55" lengthAdjust="spacingAndGlyphs" transform="rotate(-90 274.00 59.90)" stroke="#2a2a2a" stroke-width="0.07">Cutaneous cGVHD</text>
<line x1="325.40" y1="86.95" x2="325.40" y2="84.37" stroke="#2a4e82" stroke-width="0.9"/>
<line x1="323.90" y1="84.37" x2="326.90" y2="84.37" stroke="#2a4e82" stroke-width="0.9"/>
<line x1="333.40" y1="86.95" x2="333.40" y2="84.37" stroke="#2a4e82" stroke-width="0.9"/>
<line x1="331.90" y1="84.37" x2="334.90" y2="84.37" stroke="#2a4e82" stroke-width="0.9"/>
<line x1="341.40" y1="86.95" x2="341.40" y2="84.37" stroke="#2a4e82" stroke-width="0.9"/>
<line x1="339.90" y1="84.37" x2="342.90" y2="84.37" stroke="#2a4e82" stroke-width="0.9"/>
<line x1="349.40" y1="80.51" x2="349.40" y2="77.93" stroke="#2a4e82" stroke-width="0.9"/>
<line x1="347.90" y1="77.93" x2="350.90" y2="77.93" stroke="#2a4e82" stroke-width="0.9"/>
<line x1="357.40" y1="80.51" x2="357.40" y2="77.93" stroke="#2a4e82" stroke-width="0.9"/>
<line x1="355.90" y1="77.93" x2="358.90" y2="77.93" stroke="#2a4e82" stroke-width="0.9"/>
<line x1="365.40" y1="80.51" x2="365.40" y2="77.93" stroke="#2a4e82" stroke-width="0.9"/>
<line x1="363.90" y1="77.93" x2="366.90" y2="77.93" stroke="#2a4e82" stroke-width="0.9"/>
<line x1="373.40" y1="80.51" x2="373.40" y2="77.93" stroke="#2a4e82" stroke-width="0.9"/>
<line x1="371.90" y1="77.93" x2="374.90" y2="77.93" stroke="#2a4e82" stroke-width="0.9"/>
<line x1="381.40" y1="80.51" x2="381.40" y2="77.93" stroke="#2a4e82" stroke-width="0.9"/>
<line x1="379.90" y1="77.93" x2="382.90" y2="77.93" stroke="#2a4e82" stroke-width="0.9"/>
<line x1="389.40" y1="80.51" x2="389.40" y2="77.93" stroke="#2a4e82" stroke-width="0.9"/>
<line x1="387.90" y1="77.93" x2="390.90" y2="77.93" stroke="#2a4e82" stroke-width="0.9"/>
<line x1="325.40" y1="86.95" x2="325.40" y2="84.37" stroke="#b81c3a" stroke-width="0.9"/>
<line x1="323.90" y1="84.37" x2="326.90" y2="84.37" stroke="#b81c3a" stroke-width="0.9"/>
<line x1="333.40" y1="75.36" x2="333.40" y2="71.49" stroke="#b81c3a" stroke-width="0.9"/>
<line x1="331.90" y1="71.49" x2="334.90" y2="71.49" stroke="#b81c3a" stroke-width="0.9"/>
<line x1="341.40" y1="66.34" x2="341.40" y2="58.61" stroke="#b81c3a" stroke-width="0.9"/>
<line x1="339.90" y1="58.61" x2="342.90" y2="58.61" stroke="#b81c3a" stroke-width="0.9"/>
<line x1="349.40" y1="53.46" x2="349.40" y2="48.31" stroke="#b81c3a" stroke-width="0.9"/>
<line x1="347.90" y1="48.31" x2="350.90" y2="48.31" stroke="#b81c3a" stroke-width="0.9"/>
<line x1="357.40" y1="49.60" x2="357.40" y2="40.58" stroke="#b81c3a" stroke-width="0.9"/>
<line x1="355.90" y1="40.58" x2="358.90" y2="40.58" stroke="#b81c3a" stroke-width="0.9"/>
<line x1="365.40" y1="49.60" x2="365.40" y2="40.58" stroke="#b81c3a" stroke-width="0.9"/>
<line x1="363.90" y1="40.58" x2="366.90" y2="40.58" stroke="#b81c3a" stroke-width="0.9"/>
<line x1="373.40" y1="45.73" x2="373.40" y2="35.43" stroke="#b81c3a" stroke-width="0.9"/>
<line x1="371.90" y1="35.43" x2="374.90" y2="35.43" stroke="#b81c3a" stroke-width="0.9"/>
<line x1="381.40" y1="45.73" x2="381.40" y2="35.43" stroke="#b81c3a" stroke-width="0.9"/>
<line x1="379.90" y1="35.43" x2="382.90" y2="35.43" stroke="#b81c3a" stroke-width="0.9"/>
<line x1="389.40" y1="45.73" x2="389.40" y2="35.43" stroke="#b81c3a" stroke-width="0.9"/>
<line x1="387.90" y1="35.43" x2="390.90" y2="35.43" stroke="#b81c3a" stroke-width="0.9"/>
<path d="M293.40 92.10 L301.40 92.10 L309.40 92.10 L317.40 92.10 L325.40 86.95 L333.40 86.95 L341.40 86.95 L349.40 80.51 L357.40 80.51 L365.40 80.51 L373.40 80.51 L381.40 80.51 L389.40 80.51" stroke="#2a4e82" stroke-width="1.0" fill="none"/>
<path d="M293.40 92.10 L301.40 92.10 L309.40 92.10 L317.40 92.10 L325.40 86.95 L333.40 75.36 L341.40 66.34 L349.40 53.46 L357.40 49.60 L365.40 49.60 L373.40 45.73 L381.40 45.73 L389.40 45.73" stroke="#b81c3a" stroke-width="1.0" fill="none"/>
<rect x="291.70" y="90.40" width="3.4" height="3.4" stroke="#2a4e82" stroke-width="0.9" fill="none"/>
<rect x="299.70" y="90.40" width="3.4" height="3.4" stroke="#2a4e82" stroke-width="0.9" fill="none"/>
<rect x="307.70" y="90.40" width="3.4" height="3.4" stroke="#2a4e82" stroke-width="0.9" fill="none"/>
<rect x="315.70" y="90.40" width="3.4" height="3.4" stroke="#2a4e82" stroke-width="0.9" fill="none"/>
<rect x="323.70" y="85.25" width="3.4" height="3.4" stroke="#2a4e82" stroke-width="0.9" fill="none"/>
<rect x="331.70" y="85.25" width="3.4" height="3.4" stroke="#2a4e82" stroke-width="0.9" fill="none"/>
<rect x="339.70" y="85.25" width="3.4" height="3.4" stroke="#2a4e82" stroke-width="0.9" fill="none"/>
<rect x="347.70" y="78.81" width="3.4" height="3.4" stroke="#2a4e82" stroke-width="0.9" fill="none"/>
<rect x="355.70" y="78.81" width="3.4" height="3.4" stroke="#2a4e82" stroke-width="0.9" fill="none"/>
<rect x="363.70" y="78.81" width="3.4" height="3.4" stroke="#2a4e82" stroke-width="0.9" fill="none"/>
<rect x="371.70" y="78.81" width="3.4" height="3.4" stroke="#2a4e82" stroke-width="0.9" fill="none"/>
<rect x="379.70" y="78.81" width="3.4" height="3.4" stroke="#2a4e82" stroke-width="0.9" fill="none"/>
<rect x="387.70" y="78.81" width="3.4" height="3.4" stroke="#2a4e82" stroke-width="0.9" fill="none"/>
<circle cx="293.40" cy="92.10" r="1.8" stroke="#b81c3a" stroke-width="0.9" fill="none"/>
<circle cx="301.40" cy="92.10" r="1.8" stroke="#b81c3a" stroke-width="0.9" fill="none"/>
<circle cx="309.40" cy="92.10" r="1.8" stroke="#b81c3a" stroke-width="0.9" fill="none"/>
<circle cx="317.40" cy="92.10" r="1.8" stroke="#b81c3a" stroke-width="0.9" fill="none"/>
<circle cx="325.40" cy="86.95" r="1.8" stroke="#b81c3a" stroke-width="0.9" fill="none"/>
<circle cx="333.40" cy="75.36" r="1.8" stroke="#b81c3a" stroke-width="0.9" fill="none"/>
<circle cx="341.40" cy="66.34" r="1.8" stroke="#b81c3a" stroke-width="0.9" fill="none"/>
<circle cx="349.40" cy="53.46" r="1.8" stroke="#b81c3a" stroke-width="0.9" fill="none"/>
<circle cx="357.40" cy="49.60" r="1.8" stroke="#b81c3a" stroke-width="0.9" fill="none"/>
<circle cx="365.40" cy="49.60" r="1.8" stroke="#b81c3a" stroke-width="0.9" fill="none"/>
<circle cx="373.40" cy="45.73" r="1.8" stroke="#b81c3a" stroke-width="0.9" fill="none"/>
<circle cx="381.40" cy="45.73" r="1.8" stroke="#b81c3a" stroke-width="0.9" fill="none"/>
<circle cx="389.40" cy="45.73" r="1.8" stroke="#b81c3a" stroke-width="0.9" fill="none"/>
<circle cx="378.93" cy="64.20" r="1.05" fill="#1a1a1a"/>
<circle cx="382.38" cy="64.20" r="1.05" fill="#1a1a1a"/>
<circle cx="385.83" cy="64.20" r="1.05" fill="#1a1a1a"/>
<circle cx="389.28" cy="64.20" r="1.05" fill="#1a1a1a"/>
<rect x="452.30" y="51.65" width="5.90" height="39.85" fill="#e6887d" stroke="none" stroke-width="1"/>
<rect x="476.50" y="43.41" width="5.80" height="48.09" fill="#e6887d" stroke="none" stroke-width="1"/>
<rect x="500.30" y="50.28" width="5.90" height="41.22" fill="#e6887d" stroke="none" stroke-width="1"/>
<rect x="461.50" y="75.70" width="5.90" height="15.80" fill="#8a99be" stroke="none" stroke-width="1"/>
<rect x="485.80" y="74.33" width="5.70" height="17.17" fill="#8a99be" stroke="none" stroke-width="1"/>
<rect x="509.50" y="84.63" width="5.90" height="6.87" fill="#8a99be" stroke="none" stroke-width="1"/>
<line x1="449.20" y1="21.50" x2="449.20" y2="91.50" stroke="#1e1e1e" stroke-width="1.0"/>
<line x1="445.90" y1="91.50" x2="449.20" y2="91.50" stroke="#1e1e1e" stroke-width="1.0"/>
<g transform="translate(442.80 93.76) scale(0.9 1)"><text x="0" y="0" font-size="6.3" text-anchor="end" fill="#2a2a2a" font-weight="normal" stroke="#2a2a2a" stroke-width="0.07">0</text></g>
<line x1="445.90" y1="77.76" x2="449.20" y2="77.76" stroke="#1e1e1e" stroke-width="1.0"/>
<g transform="translate(442.80 80.02) scale(0.9 1)"><text x="0" y="0" font-size="6.3" text-anchor="end" fill="#2a2a2a" font-weight="normal" stroke="#2a2a2a" stroke-width="0.07">2</text></g>
<line x1="445.90" y1="64.02" x2="449.20" y2="64.02" stroke="#1e1e1e" stroke-width="1.0"/>
<g transform="translate(442.80 66.28) scale(0.9 1)"><text x="0" y="0" font-size="6.3" text-anchor="end" fill="#2a2a2a" font-weight="normal" stroke="#2a2a2a" stroke-width="0.07">4</text></g>
<line x1="445.90" y1="50.28" x2="449.20" y2="50.28" stroke="#1e1e1e" stroke-width="1.0"/>
<g transform="translate(442.80 52.54) scale(0.9 1)"><text x="0" y="0" font-size="6.3" text-anchor="end" fill="#2a2a2a" font-weight="normal" stroke="#2a2a2a" stroke-width="0.07">6</text></g>
<line x1="445.90" y1="36.54" x2="449.20" y2="36.54" stroke="#1e1e1e" stroke-width="1.0"/>
<g transform="translate(442.80 38.80) scale(0.9 1)"><text x="0" y="0" font-size="6.3" text-anchor="end" fill="#2a2a2a" font-weight="normal" stroke="#2a2a2a" stroke-width="0.07">8</text></g>
<line x1="445.90" y1="22.80" x2="449.20" y2="22.80" stroke="#1e1e1e" stroke-width="1.0"/>
<g transform="translate(442.80 25.06) scale(0.9 1)"><text x="0" y="0" font-size="6.3" text-anchor="end" fill="#2a2a2a" font-weight="normal" stroke="#2a2a2a" stroke-width="0.07">10</text></g>
<line x1="449.20" y1="91.50" x2="519.50" y2="91.50" stroke="#1e1e1e" stroke-width="1.0"/>
<line x1="460.00" y1="91.50" x2="460.00" y2="94.00" stroke="#1e1e1e" stroke-width="0.9"/>
<line x1="484.00" y1="91.50" x2="484.00" y2="94.00" stroke="#1e1e1e" stroke-width="0.9"/>
<line x1="508.00" y1="91.50" x2="508.00" y2="94.00" stroke="#1e1e1e" stroke-width="0.9"/>
<rect x="452.60" y="40.91" width="5.0" height="5.0" fill="#c8102e"/>
<rect x="451.10" y="47.78" width="5.0" height="5.0" fill="#c8102e"/>
<rect x="454.10" y="47.78" width="5.0" height="5.0" fill="#c8102e"/>
<rect x="451.10" y="54.65" width="5.0" height="5.0" fill="#c8102e"/>
<rect x="454.10" y="54.65" width="5.0" height="5.0" fill="#c8102e"/>
<rect x="476.90" y="34.04" width="5.0" height="5.0" fill="#c8102e"/>
<rect x="476.90" y="34.04" width="5.0" height="5.0" fill="#c8102e"/>
<rect x="476.90" y="40.91" width="5.0" height="5.0" fill="#c8102e"/>
<rect x="475.70" y="47.78" width="5.0" height="5.0" fill="#c8102e"/>
<rect x="478.10" y="47.78" width="5.0" height="5.0" fill="#c8102e"/>
<rect x="500.70" y="40.91" width="5.0" height="5.0" fill="#c8102e"/>
<rect x="499.30" y="47.78" width="5.0" height="5.0" fill="#c8102e"/>
<rect x="502.10" y="47.78" width="5.0" height="5.0" fill="#c8102e"/>
<rect x="500.70" y="54.65" width="5.0" height="5.0" fill="#c8102e"/>
<circle cx="464.40" cy="70.89" r="2.6" fill="#1f4e8c"/>
<circle cx="463.20" cy="77.76" r="2.6" fill="#1f4e8c"/>
<circle cx="465.80" cy="77.76" r="2.6" fill="#1f4e8c"/>
<circle cx="488.60" cy="70.89" r="2.6" fill="#1f4e8c"/>
<circle cx="487.40" cy="70.89" r="2.6" fill="#1f4e8c"/>
<circle cx="489.80" cy="70.89" r="2.6" fill="#1f4e8c"/>
<circle cx="488.60" cy="77.76" r="2.6" fill="#1f4e8c"/>
<circle cx="511.60" cy="84.63" r="2.6" fill="#1f4e8c"/>
<circle cx="513.40" cy="84.63" r="2.6" fill="#1f4e8c"/>
<line x1="455.00" y1="39.20" x2="463.80" y2="39.20" stroke="#3a3a3a" stroke-width="1.2"/>
<circle cx="454.75" cy="35.50" r="1.0" fill="#1a1a1a"/>
<circle cx="457.85" cy="35.50" r="1.0" fill="#1a1a1a"/>
<circle cx="460.95" cy="35.50" r="1.0" fill="#1a1a1a"/>
<circle cx="464.05" cy="35.50" r="1.0" fill="#1a1a1a"/>
<line x1="479.70" y1="31.90" x2="488.00" y2="31.90" stroke="#3a3a3a" stroke-width="1.2"/>
<circle cx="479.20" cy="28.20" r="1.0" fill="#1a1a1a"/>
<circle cx="482.30" cy="28.20" r="1.0" fill="#1a1a1a"/>
<circle cx="485.40" cy="28.20" r="1.0" fill="#1a1a1a"/>
<circle cx="488.50" cy="28.20" r="1.0" fill="#1a1a1a"/>
<line x1="504.30" y1="38.90" x2="512.60" y2="38.90" stroke="#3a3a3a" stroke-width="1.2"/>
<circle cx="503.80" cy="35.20" r="1.0" fill="#1a1a1a"/>
<circle cx="506.90" cy="35.20" r="1.0" fill="#1a1a1a"/>
<circle cx="510.00" cy="35.20" r="1.0" fill="#1a1a1a"/>
<circle cx="513.10" cy="35.20" r="1.0" fill="#1a1a1a"/>
<g transform="translate(460.00 104.50) scale(0.9 1)"><text x="0" y="0" font-size="7.5" text-anchor="middle" fill="#2a2a2a" font-weight="normal" stroke="#2a2a2a" stroke-width="0.07">Liver</text></g>
<g transform="translate(484.00 104.50) scale(0.9 1)"><text x="0" y="0" font-size="7.5" text-anchor="middle" fill="#2a2a2a" font-weight="normal" stroke="#2a2a2a" stroke-width="0.07">Lung</text></g>
<g transform="translate(508.00 104.50) scale(0.9 1)"><text x="0" y="0" font-size="7.5" text-anchor="middle" fill="#2a2a2a" font-weight="normal" stroke="#2a2a2a" stroke-width="0.07">Skin</text></g>
<text x="429.30" y="57.20" font-size="8.4" text-anchor="middle" fill="#2a2a2a" font-weight="normal" textLength="47.3" lengthAdjust="spacingAndGlyphs" transform="rotate(-90 429.30 57.20)" stroke="#2a2a2a" stroke-width="0.07">Pathology score</text>
<rect x="448.25" y="12.05" width="4.3" height="4.3" fill="#c8102e"/>
<g transform="translate(455.20 16.80) scale(0.82 1)"><text x="0" y="0" font-size="7.2" text-anchor="start" fill="#2a2a2a" font-weight="normal" stroke="#2a2a2a" stroke-width="0.07">WT-T</text></g>
<circle cx="479.40" cy="14.20" r="2.2" fill="#1f4e8c"/>
<g transform="translate(483.70 16.80) scale(0.82 1)"><text x="0" y="0" font-size="7.2" text-anchor="start" fill="#2a2a2a" font-weight="normal" stroke="#2a2a2a" stroke-width="0.07">T-bet<tspan dy="-2.7" font-size="5.4">–/–</tspan><tspan dy="2.7">-T</tspan></text></g>
<rect x="26.00" y="152.40" width="161.00" height="98.80" fill="#e2e4e6" stroke="none" stroke-width="1"/>
<clipPath id="cp1"><rect x="27.1" y="153.5" width="51.4" height="47.0"/></clipPath><g clip-path="url(#cp1)">
<rect x="27.10" y="153.50" width="51.40" height="47.00" fill="#0a2242" stroke="none" stroke-width="1"/>
<path d="M27.1 153.5H78.5V200.5H27.1Z" fill="#0d2849" opacity="1.0" filter="url(#nz1)"/>
<rect x="27.10" y="153.50" width="51.40" height="3.00" fill="#050f22" stroke="none" stroke-width="1" opacity="0.7"/>
<path d="M29 181 C29 174 38 171 47 171.5 C57 170.5 66 170.5 70.5 174.5 C73 178 72.5 186 71.5 190.5 C66 193 55 192 47 190 C39 188.5 31 187 29 181 Z" fill="#040b18" opacity="1" filter="url(#b05)"/>
<path d="M47 171 C55 170 62 170 66 172 L66 176.5 C60 175.5 53 175.5 47 176 Z" fill="#1c6034" opacity="1.0" filter="url(#nz2)"/>
<path d="M31 172 C36 171 42 171 47 171.5 L47 175.5 C41 175 36 175.5 31 176.5 Z" fill="#46a848" opacity="1.0" filter="url(#nz3)"/>
<path d="M27.5 177 L32 176 L32.5 184 L28 184 Z" fill="#3a9a48" opacity="1.0" filter="url(#nz4)"/>
<path d="M64 183 C69 182 73 186 72.5 192.5 L65 192.5 C63.5 189 63 186 64 183 Z" fill="#4cae48" opacity="1.0" filter="url(#nz5)"/>
<path d="M40 188.5 C48 190 56 191.5 64 191.5 L64 193 C56 193 48 192 40 190.5 Z" fill="#2a6a4a" opacity="1.0" filter="url(#nz6)"/>
<path d="M38 177 L62 177 L62 188 L38 188 Z" fill="#0a1c36" opacity="1.0" filter="url(#nz7)"/>
</g>
<clipPath id="cp2"><rect x="80.1" y="153.5" width="51.80000000000001" height="47.0"/></clipPath><g clip-path="url(#cp2)">
<rect x="80.10" y="153.50" width="51.80" height="47.00" fill="#050b18" stroke="none" stroke-width="1"/>
<path d="M94 153 L132 153 L132 186 C122 181 112 178 104 172 C98 166 95 160 94 153 Z" fill="#141a56" opacity="1.0" filter="url(#nz8)"/>
<path d="M84 178 C95 172 106 174 114 182 L114 200 L84 200 Z" fill="#101644" opacity="1.0" filter="url(#nz9)"/>
<path d="M80.1 153.5H100V185H80.1Z" fill="#164248" opacity="1.0" filter="url(#nz10)"/>
<path d="M80 184 C88 183 96 188 100 200 L80 200 Z" fill="#1e6238" opacity="1.0" filter="url(#nz11)"/>
<path d="M112 200 C114 191 122 183 132 178 L132 200 Z" fill="#267a40" opacity="1.0" filter="url(#nz12)"/>
<path d="M86 166 C92 162 98 158 104 154 L106 157 C100 161 94 165 88 169 Z" fill="#2e7040" opacity="1.0" filter="url(#nz13)"/>
<path d="M98 175 C100 170 106 170 107.5 176 C108.5 182 106 192 103 194 C99 193 97 186 98 175 Z" fill="#020408" opacity="1" filter="url(#b05)"/>
<path d="M80 158 C85 160 89 168 88 174 C85 177 81 176 80 170 Z" fill="#03060c" opacity="0.9" filter="url(#b05)"/>
</g>
<clipPath id="cp3"><rect x="133.8" y="153.5" width="52.099999999999994" height="47.0"/></clipPath><g clip-path="url(#cp3)">
<rect x="133.80" y="153.50" width="52.10" height="47.00" fill="#030509" stroke="none" stroke-width="1"/>
<path d="M134 172 L136 170 C145 169 155 169.5 165 170.5 C172 171 178 169.5 186 171 L186 191 L134 191 Z" fill="#0e2630" opacity="1.0" filter="url(#nz14)"/>
<path d="M134 172 L136 170 C145 169 155 169.5 165 170.5 C172 171 178 169.5 186 171 L186 191 L134 191 Z" fill="#1f4f2c" opacity="1.0" filter="url(#nz15)"/>
<path d="M134 172 C136 170 139 169.5 142 170 C146 169 150 169.5 154 170.2 C158 169.6 162 170.5 166 171 C169 172.5 171 173 174 172 C178 171 182 171 186 172" stroke="#3f9a4a" stroke-width="0.8" fill="none" filter="url(#b05)"/>
<path d="M174 173 L186 173 L186 187 L174 187 Z" fill="#1e3f78" opacity="1.0" filter="url(#nz16)"/>
<path d="M135 190.5 C148 191.5 165 192 186 191" stroke="#1c3f30" stroke-width="1.0" fill="none"/>
<path d="M134 197 C150 196 170 195.5 186 196.5" stroke="#22503c" stroke-width="0.8" fill="none"/>
</g>
<g transform="translate(151.30 161.30) scale(0.92 1)"><text x="0" y="0" font-size="8.4" text-anchor="start" fill="#3a9a3e" font-weight="normal" stroke="#3a9a3e" stroke-width="0.07">IgG</text></g>
<g transform="translate(166.00 161.30) scale(0.92 1)"><text x="0" y="0" font-size="8.4" text-anchor="start" fill="#4a82c8" font-weight="normal" stroke="#4a82c8" stroke-width="0.07">DAPI</text></g>
<clipPath id="cp4"><rect x="27.1" y="203.1" width="51.4" height="46.900000000000006"/></clipPath><g clip-path="url(#cp4)">
<rect x="27.10" y="203.10" width="51.40" height="46.90" fill="#091f3e" stroke="none" stroke-width="1"/>
<path d="M27.1 203.1H78.5V250.0H27.1Z" fill="#0c2646" opacity="1.0" filter="url(#nz17)"/>
<path d="M37 228 C39 223 47 222 52 224 C56 226 58 230 55 233 C50 236 41 235 37 232 Z" fill="#02060e" opacity="1" filter="url(#b05)"/>
<path d="M55 231 C60 230 66 232 69 234 C64 234 59 234 55 233 Z" fill="#040c1c" opacity="1" filter="url(#b05)"/>
<path d="M27.1 203.1H78.5V250.0H27.1Z" fill="#1a5038" opacity="1.0" filter="url(#nz18)"/>
</g>
<clipPath id="cp5"><rect x="80.1" y="203.1" width="51.80000000000001" height="46.900000000000006"/></clipPath><g clip-path="url(#cp5)">
<rect x="80.10" y="203.10" width="51.80" height="46.90" fill="#060a1e" stroke="none" stroke-width="1"/>
<path d="M80.1 203.1H131.9V250.0H80.1Z" fill="#12184a" opacity="1.0" filter="url(#nz19)"/>
<path d="M92 206 C104 210 113 216 111 236 C109 246 98 249 91 241 C89 230 90 216 92 206 Z" fill="#181f6c" opacity="1.0" filter="url(#nz20)"/>
<path d="M110 203H132V250H110Z" fill="#1e5444" opacity="1.0" filter="url(#nz21)"/>
<path d="M80 225H100V250H80Z" fill="#184a44" opacity="1.0" filter="url(#nz22)"/>
<path d="M81 208 C88 205 97 211 105 218 C107 222 102 224 98 222 C92 218 86 216 81 214 Z" fill="#02040a" opacity="1" filter="url(#b05)"/>
<path d="M103.5 236 C104 232 108 230 111.5 231 C114.5 233 114.5 238 111.5 240 C107 241.5 103.5 239 103.5 236 Z" fill="#020409" opacity="1" filter="url(#b05)"/>
</g>
<clipPath id="cp6"><rect x="133.8" y="203.1" width="52.099999999999994" height="46.900000000000006"/></clipPath><g clip-path="url(#cp6)">
<rect x="133.80" y="203.10" width="52.10" height="46.90" fill="#030408" stroke="none" stroke-width="1"/>
<path d="M134 210 C145 213 155 216 170 216 C177 216 182 214 186 212 L186 230 C170 230 150 226 134 222 Z" fill="#0c2040" opacity="1.0" filter="url(#nz23)"/>
<path d="M134 209.5 C145 212.5 155 215.5 170 215.5 C177 215.5 182 213.5 186 212" stroke="#3a7f45" stroke-width="0.8" fill="none"/>
<path d="M140 222 C155 224 170 226 186 226" stroke="#183834" stroke-width="0.6" fill="none"/>
</g>
<clipPath id="cp7"><rect x="27.0" y="306.1" width="81.0" height="81.5"/></clipPath><g clip-path="url(#cp7)">
<rect x="27.00" y="306.10" width="81.00" height="81.50" fill="#040404" stroke="none" stroke-width="1"/>
<path d="M27.0 306.1H108.0V387.6H27.0Z" fill="#2a7a30" opacity="1.0" filter="url(#nz24)"/>
<path d="M40 388 C42 370 50 352 56 342 C60 330 62 322 68 316 C80 312 94 316 102 326 C106 336 101 348 95 358 C88 369 81 379 76 388 Z" fill="#23732a" opacity="1.0" filter="url(#nz25)"/>
<path d="M40 388 C42 370 50 352 56 342 C60 330 62 322 68 316 C80 312 94 316 102 326 C106 336 101 348 95 358 C88 369 81 379 76 388 Z" fill="#4aa838" opacity="1.0" filter="url(#nz26)"/>
<path d="M40 388 C42 370 50 352 56 342 C60 330 62 322 68 316 C80 312 94 316 102 326 C106 336 101 348 95 358 C88 369 81 379 76 388 Z" fill="#a01c20" opacity="1.0" filter="url(#nz27)"/>
<path d="M28 388 C30 376 40 364 52 360 C60 360 66 368 68 388 Z" fill="#a81a1e" opacity="1.0" filter="url(#nz28)"/>
<path d="M58 330 C64 318 74 314 82 318 C84 326 78 334 68 338 Z" fill="#b03420" opacity="1.0" filter="url(#nz29)"/>
<path d="M75 306 L108 306 L108 350 C100 340 90 330 80 322 Z" fill="#3a2a78" opacity="1.0" filter="url(#nz30)"/>
<path d="M40 388 C42 370 50 352 56 342 C60 330 62 322 68 316 C80 312 94 316 102 326 C106 336 101 348 95 358 C88 369 81 379 76 388 Z" fill="#c8b840" opacity="1.0" filter="url(#nz31)"/>
</g>
<g transform="translate(27.60 315.00) scale(0.9 1)"><text x="0" y="0" font-size="8.2" text-anchor="start" fill="#c02024" font-weight="normal" stroke="#c02024" stroke-width="0.07">CD4</text></g>
<g transform="translate(45.60 315.00) scale(0.92 1)"><text x="0" y="0" font-size="8.2" text-anchor="start" fill="#38a046" font-weight="normal" stroke="#38a046" stroke-width="0.07">B220</text></g>
<g transform="translate(65.20 315.00) scale(0.85 1)"><text x="0" y="0" font-size="8.2" text-anchor="start" fill="#5a2458" font-weight="normal" stroke="#5a2458" stroke-width="0.07">Tbet</text></g>
<clipPath id="cp8"><rect x="112.0" y="306.1" width="81.0" height="81.5"/></clipPath><g clip-path="url(#cp8)">
<rect x="112.00" y="306.10" width="81.00" height="81.50" fill="#0e0614" stroke="none" stroke-width="1"/>
<path d="M112.0 306.1H193.0V387.6H112.0Z" fill="#2a185e" opacity="1.0" filter="url(#nz32)"/>
<path d="M112 306 L150 306 C146 330 140 360 136 388 L112 388 Z" fill="#36207a" opacity="1.0" filter="url(#nz33)"/>
<path d="M112 306 L135 306 L130 388 L112 388 Z" fill="#9a8a38" opacity="1.0" filter="url(#nz34)"/>
<path d="M166 340 C172 334 180 328 190 326 L193 330 L193 372 C186 374 178 380 172 388 L158 388 C160 372 162 352 166 340 Z" fill="#030205" opacity="1" filter="url(#b1)"/>
<path d="M145 388 C149 370 153 352 161 338 C167 326 175 316 185 308 L192 312 C182 321 173 331 168 343 C162 357 158 372 155 388 Z" fill="#5a2430" opacity="1.0" filter="url(#nz35)"/>
<path d="M147 332 C151 321 157 312 163 306 L173 306 C167 314 161 323 157 335 Z" fill="#2c2c8a" opacity="1.0" filter="url(#nz36)"/>
<path d="M142 340 C143 332 150 329 155 333 C157 340 156 349 150 351 C145 351 142 347 142 340 Z" fill="#862878" opacity="1.0" filter="url(#nz37)"/>
<path d="M182 340 C186 335 191 332 193 333 L193 388 L182 388 C184 372 183 355 182 340 Z" fill="#4a2240" opacity="1.0" filter="url(#nz38)"/>
<path d="M132 352 C140 350 146 360 146 388 L130 388 Z" fill="#0a0510" opacity="1.0" filter="url(#nz39)"/>
</g>
<g transform="translate(112.60 315.00) scale(0.9 1)"><text x="0" y="0" font-size="8.2" text-anchor="start" fill="#c02024" font-weight="normal" stroke="#c02024" stroke-width="0.07">CD4</text></g>
<g transform="translate(130.60 315.00) scale(0.92 1)"><text x="0" y="0" font-size="8.2" text-anchor="start" fill="#38a046" font-weight="normal" stroke="#38a046" stroke-width="0.07">B220</text></g>
<g transform="translate(67.50 300.80) scale(0.92 1)"><text x="0" y="0" font-size="7.6" text-anchor="middle" fill="#2a2a2a" font-weight="normal" stroke="#2a2a2a" stroke-width="0.07">WT-T</text></g>
<g transform="translate(152.60 300.80) scale(0.98 1)"><text x="0" y="0" font-size="7.6" text-anchor="middle" fill="#2a2a2a" font-weight="normal" stroke="#2a2a2a" stroke-width="0.07">T-bet<tspan dy="-2.7" font-size="5.4">–/–</tspan><tspan dy="2.7">-T</tspan></text></g>
<g transform="translate(52.70 148.20) scale(0.92 1)"><text x="0" y="0" font-size="7.6" text-anchor="middle" fill="#2a2a2a" font-weight="normal" stroke="#2a2a2a" stroke-width="0.07">Liver</text></g>
<g transform="translate(105.80 148.20) scale(0.92 1)"><text x="0" y="0" font-size="7.6" text-anchor="middle" fill="#2a2a2a" font-weight="normal" stroke="#2a2a2a" stroke-width="0.07">Lung</text></g>
<g transform="translate(159.60 148.20) scale(0.92 1)"><text x="0" y="0" font-size="7.6" text-anchor="middle" fill="#2a2a2a" font-weight="normal" stroke="#2a2a2a" stroke-width="0.07">Skin</text></g>
<g transform="translate(20.50 178.10) rotate(-90) scale(0.92 1)"><text x="0" y="0" font-size="7.6" text-anchor="middle" fill="#2a2a2a" font-weight="normal" stroke="#2a2a2a" stroke-width="0.07">WT-T</text></g>
<g transform="translate(20.00 226.50) rotate(-90) scale(0.92 1)"><text x="0" y="0" font-size="7.6" text-anchor="middle" fill="#2a2a2a" font-weight="normal" stroke="#2a2a2a" stroke-width="0.07">T-bet<tspan dy="-2.7" font-size="5.4">–/–</tspan><tspan dy="2.7">-T</tspan></text></g>
<rect x="234.40" y="153.10" width="47.20" height="46.50" fill="white" stroke="none" stroke-width="1"/>
<clipPath id="cp9"><rect x="234.4" y="153.1" width="47.20000000000002" height="46.5"/></clipPath><g clip-path="url(#cp9)">
<linearGradient id="bg1" x1="0" x2="1" y1="0" y2="0"><stop offset="0" stop-color="#353535"/><stop offset="0.45" stop-color="#353535"/><stop offset="1" stop-color="#8a8a8a"/></linearGradient>
<path d="M243.35 156.20 C252.98 156.20 259.39 158.31 260.66 158.31 C269.22 158.31 269.22 170.99 260.66 170.99 C259.39 170.99 252.98 173.10 243.35 173.10 C232.11 173.10 232.11 156.20 243.35 156.20 Z" fill="#f0f0f0" stroke="#b4b4b4" stroke-width="0.5"/>
<path d="M243.35 157.40 C252.32 157.40 259.48 159.21 260.56 159.21 C267.90 159.21 267.90 170.09 260.56 170.09 C259.48 170.09 252.32 171.90 243.35 171.90 C233.71 171.90 233.71 157.40 243.35 157.40 Z" fill="#e0e0e0" stroke="#808080" stroke-width="0.6"/>
<path d="M242.98 159.17 C251.08 159.17 259.57 160.54 260.39 160.54 C265.94 160.54 265.94 168.76 260.39 168.76 C259.57 168.76 251.08 170.13 242.98 170.13 C235.69 170.13 235.69 159.17 242.98 159.17 Z" fill="none" stroke="#7a7a7a" stroke-width="0.5"/>
<path d="M242.47 160.68 C249.91 160.68 259.72 161.67 260.32 161.67 C264.34 161.67 264.34 167.63 260.32 167.63 C259.72 167.63 249.91 168.62 242.47 168.62 C237.19 168.62 237.19 160.68 242.47 160.68 Z" fill="none" stroke="#7a7a7a" stroke-width="0.5"/>
<path d="M243.35 159.20 C248.66 159.20 250.04 160.02 250.97 160.02 C257.22 160.02 257.22 169.28 250.97 169.28 C250.04 169.28 248.66 170.10 243.35 170.10 C236.10 170.10 236.10 159.20 243.35 159.20 Z" fill="#909090" stroke="url(#bg1)" stroke-width="2.8" filter="url(#b05)"/>
<path d="M242.98 161.57 C247.03 161.57 250.26 162.03 250.78 162.03 C254.32 162.03 254.32 167.27 250.78 167.27 C250.26 167.27 247.03 167.73 242.98 167.73 C238.88 167.73 238.88 161.57 242.98 161.57 Z" fill="none" stroke="#555" stroke-width="0.6"/>
<ellipse cx="245.75" cy="164.65" rx="6.56" ry="0.7" fill="#f4f4f4" filter="url(#b05)"/>
<ellipse cx="242.30" cy="164.65" rx="2.0" ry="1.23" fill="#fafafa"/>
</g>
<rect x="234.40" y="153.10" width="47.20" height="46.50" fill="none" stroke="#2a2a2a" stroke-width="1.05"/>
<rect x="256.30" y="156.50" width="18.50" height="15.10" fill="none" stroke="#444" stroke-width="0.7"/>
<g transform="translate(258.60 179.60) scale(0.95 1)"><text x="0" y="0" font-size="8.2" text-anchor="start" fill="#222" font-weight="normal" stroke="#222" stroke-width="0.07">13.5</text></g>
<text x="232.80" y="165.40" font-size="4.6" text-anchor="end" fill="#444">10<tspan dy="-1.8" font-size="3">4</tspan></text>
<line x1="233.50" y1="163.80" x2="234.40" y2="163.80" stroke="#444" stroke-width="0.5"/>
<text x="232.80" y="180.40" font-size="4.6" text-anchor="end" fill="#444">10<tspan dy="-1.8" font-size="3">3</tspan></text>
<line x1="233.50" y1="178.80" x2="234.40" y2="178.80" stroke="#444" stroke-width="0.5"/>
<text x="232.80" y="187.00" font-size="4.6" text-anchor="end" fill="#444">0</text>
<line x1="233.50" y1="185.40" x2="234.40" y2="185.40" stroke="#444" stroke-width="0.5"/>
<text x="232.80" y="193.10" font-size="4.6" text-anchor="end" fill="#444">-10<tspan dy="-1.8" font-size="3">3</tspan></text>
<line x1="233.50" y1="191.50" x2="234.40" y2="191.50" stroke="#444" stroke-width="0.5"/>
<rect x="297.50" y="153.00" width="46.70" height="46.60" fill="white" stroke="none" stroke-width="1"/>
<clipPath id="cp10"><rect x="297.5" y="153.0" width="46.69999999999999" height="46.599999999999994"/></clipPath><g clip-path="url(#cp10)">
<path d="M324.5 179.3h0.6v0.6h-0.6zM331.0 177.6h0.6v0.6h-0.6zM328.7 184.0h0.6v0.6h-0.6zM319.2 187.2h0.6v0.6h-0.6zM318.7 185.5h0.6v0.6h-0.6zM319.4 178.0h0.6v0.6h-0.6zM326.5 194.2h0.6v0.6h-0.6zM320.5 180.9h0.6v0.6h-0.6zM330.5 196.8h0.6v0.6h-0.6zM329.5 184.7h0.6v0.6h-0.6zM337.5 177.0h0.6v0.6h-0.6zM335.2 182.4h0.6v0.6h-0.6zM320.9 178.6h0.6v0.6h-0.6zM324.2 194.0h0.6v0.6h-0.6zM321.6 188.8h0.6v0.6h-0.6zM330.8 184.2h0.6v0.6h-0.6zM329.0 177.4h0.6v0.6h-0.6zM319.2 180.5h0.6v0.6h-0.6zM331.6 185.4h0.6v0.6h-0.6zM324.3 188.9h0.6v0.6h-0.6zM327.1 182.6h0.6v0.6h-0.6zM333.9 191.4h0.6v0.6h-0.6zM322.9 188.6h0.6v0.6h-0.6zM328.5 195.3h0.6v0.6h-0.6zM332.6 182.3h0.6v0.6h-0.6zM337.6 178.6h0.6v0.6h-0.6zM326.4 192.7h0.6v0.6h-0.6zM321.0 186.8h0.6v0.6h-0.6zM318.8 190.7h0.6v0.6h-0.6zM333.3 188.6h0.6v0.6h-0.6zM335.5 182.9h0.6v0.6h-0.6zM331.9 189.1h0.6v0.6h-0.6zM329.6 186.0h0.6v0.6h-0.6zM334.8 196.8h0.6v0.6h-0.6zM327.5 190.6h0.6v0.6h-0.6zM319.2 191.4h0.6v0.6h-0.6zM330.9 197.8h0.6v0.6h-0.6zM334.4 182.3h0.6v0.6h-0.6zM325.7 190.7h0.6v0.6h-0.6zM318.5 186.2h0.6v0.6h-0.6zM321.4 178.6h0.6v0.6h-0.6zM319.2 192.9h0.6v0.6h-0.6zM320.6 181.4h0.6v0.6h-0.6zM325.8 195.2h0.6v0.6h-0.6zM319.6 185.9h0.6v0.6h-0.6zM329.0 195.4h0.6v0.6h-0.6zM334.4 195.0h0.6v0.6h-0.6zM323.6 185.1h0.6v0.6h-0.6zM325.2 195.5h0.6v0.6h-0.6zM337.2 179.3h0.6v0.6h-0.6zM321.5 181.1h0.6v0.6h-0.6zM322.7 186.7h0.6v0.6h-0.6zM329.8 181.8h0.6v0.6h-0.6zM318.1 185.2h0.6v0.6h-0.6zM325.4 188.5h0.6v0.6h-0.6zM337.1 191.2h0.6v0.6h-0.6zM328.3 189.6h0.6v0.6h-0.6zM331.5 177.2h0.6v0.6h-0.6zM336.0 193.2h0.6v0.6h-0.6zM335.5 193.6h0.6v0.6h-0.6z" fill="#aaa"/>
<linearGradient id="bg2" x1="0" x2="1" y1="0" y2="0"><stop offset="0" stop-color="#4a4a4a"/><stop offset="0.45" stop-color="#4a4a4a"/><stop offset="1" stop-color="#4a4a4a"/></linearGradient>
<path d="M308.65 164.40 C318.28 164.40 326.71 165.08 327.93 165.08 C336.13 165.08 336.13 177.22 327.93 177.22 C326.71 177.22 318.28 177.90 308.65 177.90 C299.67 177.90 299.67 164.40 308.65 164.40 Z" fill="#f0f0f0" stroke="#b4b4b4" stroke-width="0.5"/>
<path d="M308.65 165.60 C317.62 165.60 327.01 166.16 328.00 166.16 C334.75 166.16 334.75 176.15 328.00 176.15 C327.01 176.15 317.62 176.70 308.65 176.70 C301.27 176.70 301.27 165.60 308.65 165.60 Z" fill="#e0e0e0" stroke="#808080" stroke-width="0.6"/>
<path d="M308.62 167.03 C316.72 167.03 327.05 167.44 327.79 167.44 C332.80 167.44 332.80 174.86 327.79 174.86 C327.05 174.86 316.72 175.27 308.62 175.27 C303.14 175.27 303.14 167.03 308.62 167.03 Z" fill="none" stroke="#7a7a7a" stroke-width="0.5"/>
<path d="M308.49 168.16 C315.93 168.16 327.07 168.46 327.61 168.46 C331.24 168.46 331.24 173.84 327.61 173.84 C327.07 173.84 315.93 174.14 308.49 174.14 C304.51 174.14 304.51 168.16 308.49 168.16 Z" fill="none" stroke="#7a7a7a" stroke-width="0.5"/>
<path d="M308.65 166.70 C317.08 166.70 327.76 167.37 328.52 167.37 C333.62 167.37 333.62 174.93 328.52 174.93 C327.76 174.93 317.08 175.60 308.65 175.60 C302.73 175.60 302.73 166.70 308.65 166.70 Z" fill="#c4c4c4" stroke="url(#bg2)" stroke-width="1.4" filter="url(#b05)"/>
<path d="M307.82 168.83 C315.41 168.83 328.44 169.18 328.83 169.18 C331.49 169.18 331.49 173.12 328.83 173.12 C328.44 173.12 315.41 173.47 307.82 173.47 C304.74 173.47 304.74 168.83 307.82 168.83 Z" fill="none" stroke="#555" stroke-width="0.6"/>
<ellipse cx="307.90" cy="171.15" rx="2.0" ry="0.93" fill="#fafafa"/>
<ellipse cx="311.2" cy="171.0" rx="6.4" ry="4.0" fill="none" stroke="#222" stroke-width="2.0" filter="url(#b05)"/><ellipse cx="311.5" cy="171.0" rx="3.6" ry="0.8" fill="#f6f6f6"/><ellipse cx="330.2" cy="171.8" rx="2.4" ry="4.0" fill="none" stroke="#1a1a1a" stroke-width="2.0" filter="url(#b05)"/><ellipse cx="330.4" cy="171.6" rx="0.7" ry="1.8" fill="#f4f4f4"/>
</g>
<rect x="297.50" y="153.00" width="46.70" height="46.60" fill="none" stroke="#2a2a2a" stroke-width="1.05"/>
<rect x="319.20" y="175.60" width="19.70" height="23.00" fill="none" stroke="#444" stroke-width="0.7"/>
<g transform="translate(302.20 191.90) scale(0.95 1)"><text x="0" y="0" font-size="8.2" text-anchor="start" fill="#222" font-weight="normal" stroke="#222" stroke-width="0.07">13.3</text></g>
<text x="295.90" y="158.60" font-size="4.6" text-anchor="end" fill="#444">10<tspan dy="-1.8" font-size="3">5</tspan></text>
<line x1="296.60" y1="157.00" x2="297.50" y2="157.00" stroke="#444" stroke-width="0.5"/>
<text x="295.90" y="168.60" font-size="4.6" text-anchor="end" fill="#444">10<tspan dy="-1.8" font-size="3">4</tspan></text>
<line x1="296.60" y1="167.00" x2="297.50" y2="167.00" stroke="#444" stroke-width="0.5"/>
<text x="295.90" y="180.10" font-size="4.6" text-anchor="end" fill="#444">10<tspan dy="-1.8" font-size="3">3</tspan></text>
<line x1="296.60" y1="178.50" x2="297.50" y2="178.50" stroke="#444" stroke-width="0.5"/>
<text x="295.90" y="186.60" font-size="4.6" text-anchor="end" fill="#444">0</text>
<line x1="296.60" y1="185.00" x2="297.50" y2="185.00" stroke="#444" stroke-width="0.5"/>
<text x="295.90" y="192.80" font-size="4.6" text-anchor="end" fill="#444">-10<tspan dy="-1.8" font-size="3">3</tspan></text>
<line x1="296.60" y1="191.20" x2="297.50" y2="191.20" stroke="#444" stroke-width="0.5"/>
<text x="299.70" y="204.80" font-size="4.6" text-anchor="middle" fill="#444">-10<tspan dy="-1.8" font-size="3">3</tspan></text>
<line x1="299.70" y1="199.60" x2="299.70" y2="200.50" stroke="#444" stroke-width="0.5"/>
<text x="309.10" y="204.80" font-size="4.6" text-anchor="middle" fill="#444">0</text>
<line x1="309.10" y1="199.60" x2="309.10" y2="200.50" stroke="#444" stroke-width="0.5"/>
<text x="315.20" y="204.80" font-size="4.6" text-anchor="middle" fill="#444">10<tspan dy="-1.8" font-size="3">3</tspan></text>
<line x1="315.20" y1="199.60" x2="315.20" y2="200.50" stroke="#444" stroke-width="0.5"/>
<text x="327.90" y="204.80" font-size="4.6" text-anchor="middle" fill="#444">10<tspan dy="-1.8" font-size="3">4</tspan></text>
<line x1="327.90" y1="199.60" x2="327.90" y2="200.50" stroke="#444" stroke-width="0.5"/>
<text x="338.60" y="204.80" font-size="4.6" text-anchor="middle" fill="#444">10<tspan dy="-1.8" font-size="3">5</tspan></text>
<line x1="338.60" y1="199.60" x2="338.60" y2="200.50" stroke="#444" stroke-width="0.5"/>
<rect x="362.20" y="153.00" width="46.10" height="46.70" fill="white" stroke="none" stroke-width="1"/>
<clipPath id="cp11"><rect x="362.2" y="153.0" width="46.10000000000002" height="46.69999999999999"/></clipPath><g clip-path="url(#cp11)">
<path d="M391.8 185.2h0.6v0.6h-0.6zM386.1 190.6h0.6v0.6h-0.6zM385.2 177.5h0.6v0.6h-0.6zM388.2 179.7h0.6v0.6h-0.6zM390.8 177.2h0.6v0.6h-0.6zM384.0 179.5h0.6v0.6h-0.6zM386.0 184.4h0.6v0.6h-0.6zM384.5 196.1h0.6v0.6h-0.6zM396.3 179.4h0.6v0.6h-0.6zM389.0 184.0h0.6v0.6h-0.6zM391.3 178.8h0.6v0.6h-0.6zM401.0 198.8h0.6v0.6h-0.6zM393.3 187.1h0.6v0.6h-0.6zM385.7 178.4h0.6v0.6h-0.6zM390.9 182.1h0.6v0.6h-0.6zM400.6 179.7h0.6v0.6h-0.6zM384.5 197.9h0.6v0.6h-0.6zM394.6 179.4h0.6v0.6h-0.6zM394.9 176.6h0.6v0.6h-0.6zM394.6 198.5h0.6v0.6h-0.6zM401.3 192.0h0.6v0.6h-0.6zM389.2 184.4h0.6v0.6h-0.6zM387.3 193.8h0.6v0.6h-0.6zM394.7 193.9h0.6v0.6h-0.6zM390.6 181.1h0.6v0.6h-0.6zM400.2 198.7h0.6v0.6h-0.6zM401.1 194.5h0.6v0.6h-0.6zM400.4 193.0h0.6v0.6h-0.6zM388.5 187.9h0.6v0.6h-0.6zM391.1 176.7h0.6v0.6h-0.6zM384.6 182.4h0.6v0.6h-0.6zM389.2 191.9h0.6v0.6h-0.6zM403.1 186.3h0.6v0.6h-0.6zM402.7 198.7h0.6v0.6h-0.6zM403.1 184.4h0.6v0.6h-0.6zM388.4 181.2h0.6v0.6h-0.6zM387.9 180.7h0.6v0.6h-0.6zM396.5 196.7h0.6v0.6h-0.6zM400.8 187.0h0.6v0.6h-0.6zM397.1 194.4h0.6v0.6h-0.6zM385.7 191.2h0.6v0.6h-0.6zM402.2 194.0h0.6v0.6h-0.6zM399.0 187.0h0.6v0.6h-0.6zM387.6 194.2h0.6v0.6h-0.6zM390.7 194.4h0.6v0.6h-0.6zM403.4 185.1h0.6v0.6h-0.6zM392.0 197.8h0.6v0.6h-0.6zM398.5 179.9h0.6v0.6h-0.6zM386.5 179.5h0.6v0.6h-0.6zM402.1 194.5h0.6v0.6h-0.6zM386.9 195.0h0.6v0.6h-0.6zM403.6 191.1h0.6v0.6h-0.6zM391.0 188.6h0.6v0.6h-0.6zM386.6 176.3h0.6v0.6h-0.6zM403.4 190.9h0.6v0.6h-0.6zM394.5 197.5h0.6v0.6h-0.6zM392.7 196.1h0.6v0.6h-0.6zM400.5 180.9h0.6v0.6h-0.6zM389.0 182.7h0.6v0.6h-0.6zM388.8 189.5h0.6v0.6h-0.6z" fill="#aaa"/>
<path d="M386 178 C392 182 396 188 398 196 M389 181 C394 186 397 190 400 197 M392 180 C396 185 399 189 401 194" stroke="#888" stroke-width="0.5" fill="none"/>
<linearGradient id="bg3" x1="0" x2="1" y1="0" y2="0"><stop offset="0" stop-color="#3a3a3a"/><stop offset="0.45" stop-color="#3a3a3a"/><stop offset="1" stop-color="#888"/></linearGradient>
<path d="M372.50 162.90 C383.18 162.90 392.71 164.93 393.93 164.93 C402.13 164.93 402.13 177.07 393.93 177.07 C392.71 177.07 383.18 179.10 372.50 179.10 C361.73 179.10 361.73 162.90 372.50 162.90 Z" fill="#f0f0f0" stroke="#b4b4b4" stroke-width="0.5"/>
<path d="M372.50 164.10 C382.52 164.10 392.79 165.82 393.82 165.82 C400.81 165.82 400.81 176.18 393.82 176.18 C392.79 176.18 382.52 177.90 372.50 177.90 C363.32 177.90 363.32 164.10 372.50 164.10 Z" fill="#e0e0e0" stroke="#808080" stroke-width="0.6"/>
<path d="M372.20 165.80 C381.35 165.80 392.82 167.10 393.60 167.10 C398.87 167.10 398.87 174.90 393.60 174.90 C392.82 174.90 381.35 176.20 372.20 176.20 C365.28 176.20 365.28 165.80 372.20 165.80 Z" fill="none" stroke="#7a7a7a" stroke-width="0.5"/>
<path d="M371.77 167.23 C380.26 167.23 392.91 168.17 393.47 168.17 C397.29 168.17 397.29 173.83 393.47 173.83 C392.91 173.83 380.26 174.77 371.77 174.77 C366.76 174.77 366.76 167.23 371.77 167.23 Z" fill="none" stroke="#7a7a7a" stroke-width="0.5"/>
<path d="M372.50 165.60 C379.04 165.60 383.39 166.41 384.31 166.41 C390.51 166.41 390.51 175.59 384.31 175.59 C383.39 175.59 379.04 176.40 372.50 176.40 C365.32 176.40 365.32 165.60 372.50 165.60 Z" fill="#999" stroke="url(#bg3)" stroke-width="2.2" filter="url(#b05)"/>
<path d="M371.73 168.07 C377.19 168.07 384.02 168.51 384.51 168.51 C387.87 168.51 387.87 173.49 384.51 173.49 C384.02 173.49 377.19 173.93 371.73 173.93 C367.83 173.93 367.83 168.07 371.73 168.07 Z" fill="none" stroke="#555" stroke-width="0.6"/>
<ellipse cx="377.00" cy="171.00" rx="7.68" ry="0.7" fill="#f4f4f4" filter="url(#b05)"/>
<ellipse cx="371.20" cy="171.00" rx="2.0" ry="1.17" fill="#fafafa"/>
</g>
<rect x="362.20" y="153.00" width="46.10" height="46.70" fill="none" stroke="#2a2a2a" stroke-width="1.05"/>
<rect x="384.30" y="175.90" width="19.30" height="23.10" fill="none" stroke="#444" stroke-width="0.7"/>
<g transform="translate(368.30 192.30) scale(0.95 1)"><text x="0" y="0" font-size="8.2" text-anchor="start" fill="#222" font-weight="normal" stroke="#222" stroke-width="0.07">12.1</text></g>
<text x="360.60" y="158.60" font-size="4.6" text-anchor="end" fill="#444">10<tspan dy="-1.8" font-size="3">5</tspan></text>
<line x1="361.30" y1="157.00" x2="362.20" y2="157.00" stroke="#444" stroke-width="0.5"/>
<text x="360.60" y="168.60" font-size="4.6" text-anchor="end" fill="#444">10<tspan dy="-1.8" font-size="3">4</tspan></text>
<line x1="361.30" y1="167.00" x2="362.20" y2="167.00" stroke="#444" stroke-width="0.5"/>
<text x="360.60" y="180.10" font-size="4.6" text-anchor="end" fill="#444">10<tspan dy="-1.8" font-size="3">3</tspan></text>
<line x1="361.30" y1="178.50" x2="362.20" y2="178.50" stroke="#444" stroke-width="0.5"/>
<text x="360.60" y="186.60" font-size="4.6" text-anchor="end" fill="#444">0</text>
<line x1="361.30" y1="185.00" x2="362.20" y2="185.00" stroke="#444" stroke-width="0.5"/>
<text x="360.60" y="192.80" font-size="4.6" text-anchor="end" fill="#444">-10<tspan dy="-1.8" font-size="3">3</tspan></text>
<line x1="361.30" y1="191.20" x2="362.20" y2="191.20" stroke="#444" stroke-width="0.5"/>
<text x="364.40" y="204.90" font-size="4.6" text-anchor="middle" fill="#444">-10<tspan dy="-1.8" font-size="3">3</tspan></text>
<line x1="364.40" y1="199.70" x2="364.40" y2="200.60" stroke="#444" stroke-width="0.5"/>
<text x="373.80" y="204.90" font-size="4.6" text-anchor="middle" fill="#444">0</text>
<line x1="373.80" y1="199.70" x2="373.80" y2="200.60" stroke="#444" stroke-width="0.5"/>
<text x="379.90" y="204.90" font-size="4.6" text-anchor="middle" fill="#444">10<tspan dy="-1.8" font-size="3">3</tspan></text>
<line x1="379.90" y1="199.70" x2="379.90" y2="200.60" stroke="#444" stroke-width="0.5"/>
<text x="392.60" y="204.90" font-size="4.6" text-anchor="middle" fill="#444">10<tspan dy="-1.8" font-size="3">4</tspan></text>
<line x1="392.60" y1="199.70" x2="392.60" y2="200.60" stroke="#444" stroke-width="0.5"/>
<text x="403.30" y="204.90" font-size="4.6" text-anchor="middle" fill="#444">10<tspan dy="-1.8" font-size="3">5</tspan></text>
<line x1="403.30" y1="199.70" x2="403.30" y2="200.60" stroke="#444" stroke-width="0.5"/>
<rect x="234.40" y="210.30" width="47.40" height="47.20" fill="white" stroke="none" stroke-width="1"/>
<clipPath id="cp12"><rect x="234.4" y="210.3" width="47.400000000000006" height="47.19999999999999"/></clipPath><g clip-path="url(#cp12)">
<linearGradient id="bg4" x1="0" x2="1" y1="0" y2="0"><stop offset="0" stop-color="#222"/><stop offset="0.45" stop-color="#222"/><stop offset="1" stop-color="#666"/></linearGradient>
<path d="M243.85 214.20 C251.65 214.20 252.67 217.94 253.89 217.94 C262.14 217.94 262.14 230.16 253.89 230.16 C252.67 230.16 251.65 233.90 243.85 233.90 C230.75 233.90 230.75 214.20 243.85 214.20 Z" fill="#f0f0f0" stroke="#b4b4b4" stroke-width="0.5"/>
<path d="M243.85 215.40 C250.99 215.40 252.56 218.69 253.64 218.69 C260.88 218.69 260.88 229.41 253.64 229.41 C252.56 229.41 250.99 232.70 243.85 232.70 C232.35 232.70 232.35 215.40 243.85 215.40 Z" fill="#e0e0e0" stroke="#808080" stroke-width="0.6"/>
<path d="M243.20 217.45 C249.47 217.45 252.59 219.96 253.41 219.96 C258.93 219.96 258.93 228.14 253.41 228.14 C252.59 228.14 249.47 230.65 243.20 230.65 C234.42 230.65 234.42 217.45 243.20 217.45 Z" fill="none" stroke="#7a7a7a" stroke-width="0.5"/>
<path d="M242.38 219.27 C248.00 219.27 252.74 221.08 253.33 221.08 C257.34 221.08 257.34 227.02 253.33 227.02 C252.74 227.02 248.00 228.84 242.38 228.84 C236.02 228.84 236.02 219.27 242.38 219.27 Z" fill="none" stroke="#7a7a7a" stroke-width="0.5"/>
<radialGradient id="rg5" cx="0.3" cy="0.5" r="0.75"><stop offset="0" stop-color="#2a2a2a"/><stop offset="0.4" stop-color="#3e3e3e"/><stop offset="0.75" stop-color="#7a7a7a"/><stop offset="1" stop-color="#c0c0c0"/></radialGradient>
<path d="M243.85 215.80 C248.77 215.80 244.08 217.45 245.40 217.45 C254.31 217.45 254.31 230.65 245.40 230.65 C244.08 230.65 248.77 232.30 243.85 232.30 C232.88 232.30 232.88 215.80 243.85 215.80 Z" fill="url(#rg5)" filter="url(#b05)"/>
<path d="M243.85 217.30 C247.57 217.30 243.02 218.65 244.10 218.65 C251.39 218.65 251.39 229.45 244.10 229.45 C243.02 229.45 247.57 230.80 243.85 230.80 C234.87 230.80 234.87 217.30 243.85 217.30 Z" fill="none" stroke="#999" stroke-width="0.4"/>
<ellipse cx="239.80" cy="224.05" rx="2.0" ry="1.48" fill="#fafafa"/>
</g>
<rect x="234.40" y="210.30" width="47.40" height="47.20" fill="none" stroke="#2a2a2a" stroke-width="1.05"/>
<rect x="256.50" y="214.40" width="18.50" height="15.00" fill="none" stroke="#444" stroke-width="0.7"/>
<g transform="translate(258.00 237.90) scale(0.95 1)"><text x="0" y="0" font-size="8.2" text-anchor="start" fill="#222" font-weight="normal" stroke="#222" stroke-width="0.07">3.06</text></g>
<rect x="298.20" y="210.30" width="45.70" height="46.90" fill="white" stroke="none" stroke-width="1"/>
<clipPath id="cp13"><rect x="298.2" y="210.3" width="45.69999999999999" height="46.89999999999998"/></clipPath><g clip-path="url(#cp13)">
<path d="M325.2 242.1h0.6v0.6h-0.6zM322.6 253.8h0.6v0.6h-0.6zM327.1 243.0h0.6v0.6h-0.6zM331.7 253.7h0.6v0.6h-0.6zM328.4 254.0h0.6v0.6h-0.6zM330.0 244.8h0.6v0.6h-0.6zM330.5 232.4h0.6v0.6h-0.6zM328.8 236.4h0.6v0.6h-0.6zM320.1 251.2h0.6v0.6h-0.6zM323.4 243.4h0.6v0.6h-0.6zM334.5 245.4h0.6v0.6h-0.6zM326.5 244.4h0.6v0.6h-0.6zM331.1 250.8h0.6v0.6h-0.6zM322.1 245.4h0.6v0.6h-0.6zM325.0 238.6h0.6v0.6h-0.6zM335.4 244.2h0.6v0.6h-0.6zM331.2 250.2h0.6v0.6h-0.6zM338.2 242.6h0.6v0.6h-0.6zM332.3 244.1h0.6v0.6h-0.6zM330.2 248.6h0.6v0.6h-0.6zM329.0 244.8h0.6v0.6h-0.6zM329.6 254.6h0.6v0.6h-0.6zM334.0 253.0h0.6v0.6h-0.6zM338.8 238.2h0.6v0.6h-0.6zM331.2 254.6h0.6v0.6h-0.6zM336.8 235.3h0.6v0.6h-0.6zM322.4 242.6h0.6v0.6h-0.6zM321.5 237.8h0.6v0.6h-0.6zM321.5 248.1h0.6v0.6h-0.6zM335.7 253.5h0.6v0.6h-0.6zM323.1 249.2h0.6v0.6h-0.6zM333.2 235.4h0.6v0.6h-0.6zM337.7 255.2h0.6v0.6h-0.6zM324.4 254.9h0.6v0.6h-0.6zM328.0 243.7h0.6v0.6h-0.6zM339.8 252.0h0.6v0.6h-0.6zM323.2 242.4h0.6v0.6h-0.6zM330.3 240.1h0.6v0.6h-0.6zM323.9 239.6h0.6v0.6h-0.6zM334.4 232.5h0.6v0.6h-0.6zM331.1 242.6h0.6v0.6h-0.6zM320.4 240.0h0.6v0.6h-0.6zM332.5 244.3h0.6v0.6h-0.6zM321.3 255.6h0.6v0.6h-0.6zM335.8 255.3h0.6v0.6h-0.6zM322.1 238.4h0.6v0.6h-0.6zM320.8 250.7h0.6v0.6h-0.6zM325.4 235.1h0.6v0.6h-0.6zM328.4 253.9h0.6v0.6h-0.6zM336.4 238.2h0.6v0.6h-0.6zM323.0 254.1h0.6v0.6h-0.6zM331.4 248.8h0.6v0.6h-0.6zM321.8 233.4h0.6v0.6h-0.6zM333.8 242.2h0.6v0.6h-0.6zM321.4 254.5h0.6v0.6h-0.6zM332.7 251.2h0.6v0.6h-0.6zM321.7 252.5h0.6v0.6h-0.6zM321.3 252.7h0.6v0.6h-0.6zM329.1 240.1h0.6v0.6h-0.6zM331.1 254.2h0.6v0.6h-0.6zM325.4 235.1h0.6v0.6h-0.6zM330.5 237.7h0.6v0.6h-0.6zM322.2 235.9h0.6v0.6h-0.6zM321.0 236.8h0.6v0.6h-0.6zM326.2 239.3h0.6v0.6h-0.6zM335.2 239.0h0.6v0.6h-0.6zM330.0 236.3h0.6v0.6h-0.6zM326.9 232.4h0.6v0.6h-0.6zM325.0 232.4h0.6v0.6h-0.6zM334.7 245.2h0.6v0.6h-0.6z" fill="#aaa"/>
<linearGradient id="bg6" x1="0" x2="1" y1="0" y2="0"><stop offset="0" stop-color="#3a3a3a"/><stop offset="0.45" stop-color="#3a3a3a"/><stop offset="1" stop-color="#888"/></linearGradient>
<path d="M309.65 218.80 C319.13 218.80 326.07 221.28 327.23 221.28 C335.02 221.28 335.02 232.82 327.23 232.82 C326.07 232.82 319.13 235.30 309.65 235.30 C298.68 235.30 298.68 218.80 309.65 218.80 Z" fill="#f0f0f0" stroke="#b4b4b4" stroke-width="0.5"/>
<path d="M309.65 220.00 C318.47 220.00 326.08 222.12 327.06 222.12 C333.73 222.12 333.73 231.99 327.06 231.99 C326.08 231.99 318.47 234.10 309.65 234.10 C300.27 234.10 300.27 220.00 309.65 220.00 Z" fill="#e0e0e0" stroke="#808080" stroke-width="0.6"/>
<path d="M309.32 221.73 C317.27 221.73 326.03 223.33 326.78 223.33 C331.80 223.33 331.80 230.77 326.78 230.77 C326.03 230.77 317.27 232.37 309.32 232.37 C302.24 232.37 302.24 221.73 309.32 221.73 Z" fill="none" stroke="#7a7a7a" stroke-width="0.5"/>
<path d="M308.86 223.19 C316.15 223.19 326.06 224.35 326.60 224.35 C330.24 224.35 330.24 229.75 326.60 229.75 C326.06 229.75 316.15 230.91 308.86 230.91 C303.73 230.91 303.73 223.19 308.86 223.19 Z" fill="none" stroke="#7a7a7a" stroke-width="0.5"/>
<path d="M309.65 221.50 C315.59 221.50 318.24 222.33 319.18 222.33 C325.55 222.33 325.55 231.77 319.18 231.77 C318.24 231.77 315.59 232.60 309.65 232.60 C302.27 232.60 302.27 221.50 309.65 221.50 Z" fill="#a4a4a4" stroke="url(#bg6)" stroke-width="2.2" filter="url(#b05)"/>
<path d="M308.79 224.06 C313.65 224.06 318.95 224.51 319.46 224.51 C322.89 224.51 322.89 229.59 319.46 229.59 C318.95 229.59 313.65 230.04 308.79 230.04 C304.81 230.04 304.81 224.06 308.79 224.06 Z" fill="none" stroke="#555" stroke-width="0.6"/>
<ellipse cx="313.00" cy="227.05" rx="7.04" ry="0.7" fill="#f4f4f4" filter="url(#b05)"/>
<ellipse cx="308.20" cy="227.05" rx="2.0" ry="1.20" fill="#fafafa"/>
</g>
<rect x="298.20" y="210.30" width="45.70" height="46.90" fill="none" stroke="#2a2a2a" stroke-width="1.05"/>
<rect x="320.60" y="233.00" width="19.20" height="24.20" fill="none" stroke="#444" stroke-width="0.7"/>
<g transform="translate(304.00 250.50) scale(0.95 1)"><text x="0" y="0" font-size="8.2" text-anchor="start" fill="#222" font-weight="normal" stroke="#222" stroke-width="0.07">4.12</text></g>
<text x="296.60" y="215.90" font-size="4.6" text-anchor="end" fill="#444">10<tspan dy="-1.8" font-size="3">5</tspan></text>
<line x1="297.30" y1="214.30" x2="298.20" y2="214.30" stroke="#444" stroke-width="0.5"/>
<text x="296.60" y="225.90" font-size="4.6" text-anchor="end" fill="#444">10<tspan dy="-1.8" font-size="3">4</tspan></text>
<line x1="297.30" y1="224.30" x2="298.20" y2="224.30" stroke="#444" stroke-width="0.5"/>
<text x="296.60" y="237.40" font-size="4.6" text-anchor="end" fill="#444">10<tspan dy="-1.8" font-size="3">3</tspan></text>
<line x1="297.30" y1="235.80" x2="298.20" y2="235.80" stroke="#444" stroke-width="0.5"/>
<text x="296.60" y="243.90" font-size="4.6" text-anchor="end" fill="#444">0</text>
<line x1="297.30" y1="242.30" x2="298.20" y2="242.30" stroke="#444" stroke-width="0.5"/>
<text x="296.60" y="250.10" font-size="4.6" text-anchor="end" fill="#444">-10<tspan dy="-1.8" font-size="3">3</tspan></text>
<line x1="297.30" y1="248.50" x2="298.20" y2="248.50" stroke="#444" stroke-width="0.5"/>
<text x="300.40" y="262.40" font-size="4.6" text-anchor="middle" fill="#444">-10<tspan dy="-1.8" font-size="3">3</tspan></text>
<line x1="300.40" y1="257.20" x2="300.40" y2="258.10" stroke="#444" stroke-width="0.5"/>
<text x="309.80" y="262.40" font-size="4.6" text-anchor="middle" fill="#444">0</text>
<line x1="309.80" y1="257.20" x2="309.80" y2="258.10" stroke="#444" stroke-width="0.5"/>
<text x="315.90" y="262.40" font-size="4.6" text-anchor="middle" fill="#444">10<tspan dy="-1.8" font-size="3">3</tspan></text>
<line x1="315.90" y1="257.20" x2="315.90" y2="258.10" stroke="#444" stroke-width="0.5"/>
<text x="328.60" y="262.40" font-size="4.6" text-anchor="middle" fill="#444">10<tspan dy="-1.8" font-size="3">4</tspan></text>
<line x1="328.60" y1="257.20" x2="328.60" y2="258.10" stroke="#444" stroke-width="0.5"/>
<text x="339.30" y="262.40" font-size="4.6" text-anchor="middle" fill="#444">10<tspan dy="-1.8" font-size="3">5</tspan></text>
<line x1="339.30" y1="257.20" x2="339.30" y2="258.10" stroke="#444" stroke-width="0.5"/>
<rect x="362.40" y="210.30" width="46.40" height="46.90" fill="white" stroke="none" stroke-width="1"/>
<clipPath id="cp14"><rect x="362.4" y="210.3" width="46.400000000000034" height="46.89999999999998"/></clipPath><g clip-path="url(#cp14)">
<path d="M387.8 243.4h0.6v0.6h-0.6zM402.7 234.6h0.6v0.6h-0.6zM400.4 242.4h0.6v0.6h-0.6zM393.9 252.0h0.6v0.6h-0.6zM391.9 244.2h0.6v0.6h-0.6zM397.8 255.6h0.6v0.6h-0.6zM390.9 252.0h0.6v0.6h-0.6zM398.1 247.3h0.6v0.6h-0.6zM392.1 240.3h0.6v0.6h-0.6zM385.1 235.1h0.6v0.6h-0.6zM385.4 249.8h0.6v0.6h-0.6zM389.1 235.9h0.6v0.6h-0.6zM385.7 252.2h0.6v0.6h-0.6zM401.4 248.1h0.6v0.6h-0.6zM389.6 237.8h0.6v0.6h-0.6zM389.9 243.0h0.6v0.6h-0.6zM387.2 242.7h0.6v0.6h-0.6zM389.3 255.1h0.6v0.6h-0.6zM403.5 245.1h0.6v0.6h-0.6zM388.9 255.2h0.6v0.6h-0.6zM390.2 240.6h0.6v0.6h-0.6zM384.0 241.2h0.6v0.6h-0.6zM393.5 244.1h0.6v0.6h-0.6zM388.0 244.1h0.6v0.6h-0.6zM384.1 238.3h0.6v0.6h-0.6zM385.8 241.6h0.6v0.6h-0.6zM384.8 232.5h0.6v0.6h-0.6zM390.1 237.6h0.6v0.6h-0.6zM395.7 244.7h0.6v0.6h-0.6zM399.0 247.8h0.6v0.6h-0.6zM398.3 253.1h0.6v0.6h-0.6zM391.8 239.8h0.6v0.6h-0.6zM403.7 235.6h0.6v0.6h-0.6zM398.5 247.4h0.6v0.6h-0.6zM384.9 252.0h0.6v0.6h-0.6zM401.8 247.1h0.6v0.6h-0.6zM398.7 251.5h0.6v0.6h-0.6zM386.8 244.6h0.6v0.6h-0.6zM394.1 252.0h0.6v0.6h-0.6zM400.1 251.8h0.6v0.6h-0.6zM395.7 253.4h0.6v0.6h-0.6zM397.7 248.6h0.6v0.6h-0.6zM388.6 232.7h0.6v0.6h-0.6zM386.7 240.7h0.6v0.6h-0.6zM386.1 252.1h0.6v0.6h-0.6zM395.2 247.1h0.6v0.6h-0.6zM396.5 248.3h0.6v0.6h-0.6zM393.8 232.1h0.6v0.6h-0.6zM400.0 250.0h0.6v0.6h-0.6zM394.1 244.8h0.6v0.6h-0.6zM397.2 233.6h0.6v0.6h-0.6zM398.7 238.1h0.6v0.6h-0.6zM385.5 238.4h0.6v0.6h-0.6zM398.6 236.9h0.6v0.6h-0.6zM398.8 255.4h0.6v0.6h-0.6zM393.9 241.2h0.6v0.6h-0.6zM393.6 248.4h0.6v0.6h-0.6zM399.3 246.8h0.6v0.6h-0.6zM396.9 233.9h0.6v0.6h-0.6zM386.9 238.1h0.6v0.6h-0.6zM398.9 239.3h0.6v0.6h-0.6zM395.4 232.3h0.6v0.6h-0.6zM385.2 238.5h0.6v0.6h-0.6zM397.4 248.6h0.6v0.6h-0.6zM397.5 239.0h0.6v0.6h-0.6zM394.3 243.2h0.6v0.6h-0.6zM393.3 234.8h0.6v0.6h-0.6zM401.9 236.8h0.6v0.6h-0.6zM403.6 254.5h0.6v0.6h-0.6zM384.4 243.0h0.6v0.6h-0.6z" fill="#aaa"/>
<linearGradient id="bg7" x1="0" x2="1" y1="0" y2="0"><stop offset="0" stop-color="#333"/><stop offset="0.45" stop-color="#333"/><stop offset="1" stop-color="#888"/></linearGradient>
<path d="M374.65 218.80 C385.15 218.80 394.47 221.28 395.62 221.28 C403.42 221.28 403.42 232.82 395.62 232.82 C394.47 232.82 385.15 235.30 374.65 235.30 C363.68 235.30 363.68 218.80 374.65 218.80 Z" fill="#f0f0f0" stroke="#b4b4b4" stroke-width="0.5"/>
<path d="M374.65 220.00 C384.49 220.00 394.48 222.12 395.46 222.12 C402.13 222.12 402.13 231.99 395.46 231.99 C394.48 231.99 384.49 234.10 374.65 234.10 C365.27 234.10 365.27 220.00 374.65 220.00 Z" fill="#e0e0e0" stroke="#808080" stroke-width="0.6"/>
<path d="M374.32 221.73 C383.29 221.73 394.43 223.33 395.18 223.33 C400.20 223.33 400.20 230.77 395.18 230.77 C394.43 230.77 383.29 232.37 374.32 232.37 C367.24 232.37 367.24 221.73 374.32 221.73 Z" fill="none" stroke="#7a7a7a" stroke-width="0.5"/>
<path d="M373.86 223.19 C382.17 223.19 394.46 224.35 395.00 224.35 C398.64 224.35 398.64 229.75 395.00 229.75 C394.46 229.75 382.17 230.91 373.86 230.91 C368.73 230.91 368.73 223.19 373.86 223.19 Z" fill="none" stroke="#7a7a7a" stroke-width="0.5"/>
<path d="M374.65 221.50 C381.79 221.50 387.24 222.33 388.18 222.33 C394.55 222.33 394.55 231.77 388.18 231.77 C387.24 231.77 381.79 232.60 374.65 232.60 C367.27 232.60 367.27 221.50 374.65 221.50 Z" fill="#999" stroke="url(#bg7)" stroke-width="2.2" filter="url(#b05)"/>
<path d="M373.79 224.06 C379.85 224.06 387.95 224.51 388.46 224.51 C391.89 224.51 391.89 229.59 388.46 229.59 C387.95 229.59 379.85 230.04 373.79 230.04 C369.81 230.04 369.81 224.06 373.79 224.06 Z" fill="none" stroke="#555" stroke-width="0.6"/>
<ellipse cx="380.00" cy="227.05" rx="8.32" ry="0.7" fill="#f4f4f4" filter="url(#b05)"/>
<ellipse cx="373.20" cy="227.05" rx="2.0" ry="1.20" fill="#fafafa"/>
</g>
<rect x="362.40" y="210.30" width="46.40" height="46.90" fill="none" stroke="#2a2a2a" stroke-width="1.05"/>
<rect x="384.30" y="233.20" width="19.00" height="24.00" fill="none" stroke="#444" stroke-width="0.7"/>
<g transform="translate(367.30 250.50) scale(0.95 1)"><text x="0" y="0" font-size="8.2" text-anchor="start" fill="#222" font-weight="normal" stroke="#222" stroke-width="0.07">3.26</text></g>
<text x="360.80" y="215.90" font-size="4.6" text-anchor="end" fill="#444">10<tspan dy="-1.8" font-size="3">5</tspan></text>
<line x1="361.50" y1="214.30" x2="362.40" y2="214.30" stroke="#444" stroke-width="0.5"/>
<text x="360.80" y="225.90" font-size="4.6" text-anchor="end" fill="#444">10<tspan dy="-1.8" font-size="3">4</tspan></text>
<line x1="361.50" y1="224.30" x2="362.40" y2="224.30" stroke="#444" stroke-width="0.5"/>
<text x="360.80" y="237.40" font-size="4.6" text-anchor="end" fill="#444">10<tspan dy="-1.8" font-size="3">3</tspan></text>
<line x1="361.50" y1="235.80" x2="362.40" y2="235.80" stroke="#444" stroke-width="0.5"/>
<text x="360.80" y="243.90" font-size="4.6" text-anchor="end" fill="#444">0</text>
<line x1="361.50" y1="242.30" x2="362.40" y2="242.30" stroke="#444" stroke-width="0.5"/>
<text x="360.80" y="250.10" font-size="4.6" text-anchor="end" fill="#444">-10<tspan dy="-1.8" font-size="3">3</tspan></text>
<line x1="361.50" y1="248.50" x2="362.40" y2="248.50" stroke="#444" stroke-width="0.5"/>
<text x="364.60" y="262.40" font-size="4.6" text-anchor="middle" fill="#444">-10<tspan dy="-1.8" font-size="3">3</tspan></text>
<line x1="364.60" y1="257.20" x2="364.60" y2="258.10" stroke="#444" stroke-width="0.5"/>
<text x="374.00" y="262.40" font-size="4.6" text-anchor="middle" fill="#444">0</text>
<line x1="374.00" y1="257.20" x2="374.00" y2="258.10" stroke="#444" stroke-width="0.5"/>
<text x="380.10" y="262.40" font-size="4.6" text-anchor="middle" fill="#444">10<tspan dy="-1.8" font-size="3">3</tspan></text>
<line x1="380.10" y1="257.20" x2="380.10" y2="258.10" stroke="#444" stroke-width="0.5"/>
<text x="392.80" y="262.40" font-size="4.6" text-anchor="middle" fill="#444">10<tspan dy="-1.8" font-size="3">4</tspan></text>
<line x1="392.80" y1="257.20" x2="392.80" y2="258.10" stroke="#444" stroke-width="0.5"/>
<text x="403.50" y="262.40" font-size="4.6" text-anchor="middle" fill="#444">10<tspan dy="-1.8" font-size="3">5</tspan></text>
<line x1="403.50" y1="257.20" x2="403.50" y2="258.10" stroke="#444" stroke-width="0.5"/>
<g transform="translate(259.40 148.40) scale(1.0 1)"><text x="0" y="0" font-size="7.8" text-anchor="middle" fill="#2a2a2a" font-weight="normal" stroke="#2a2a2a" stroke-width="0.07">Tph-blood</text></g>
<g transform="translate(322.50 148.40) scale(1.0 1)"><text x="0" y="0" font-size="7.8" text-anchor="middle" fill="#2a2a2a" font-weight="normal" stroke="#2a2a2a" stroke-width="0.07">Trh-liver</text></g>
<g transform="translate(386.90 148.40) scale(1.0 1)"><text x="0" y="0" font-size="7.8" text-anchor="middle" fill="#2a2a2a" font-weight="normal" stroke="#2a2a2a" stroke-width="0.07">Trh-lung</text></g>
<g transform="translate(216.80 177.90) rotate(-90) scale(0.92 1)"><text x="0" y="0" font-size="7.6" text-anchor="middle" fill="#2a2a2a" font-weight="normal" stroke="#2a2a2a" stroke-width="0.07">WT-T</text></g>
<g transform="translate(216.80 233.30) rotate(-90) scale(0.98 1)"><text x="0" y="0" font-size="7.6" text-anchor="middle" fill="#2a2a2a" font-weight="normal" stroke="#2a2a2a" stroke-width="0.07">T-bet<tspan dy="-2.7" font-size="5.4">–/–</tspan><tspan dy="2.7">-T</tspan></text></g>
<g transform="translate(229.50 241.70) rotate(-90) scale(0.92 1)"><text x="0" y="0" font-size="7.6" text-anchor="middle" fill="#2a2a2a" font-weight="normal" stroke="#2a2a2a" stroke-width="0.07">PSGL 1</text></g>
<path d="M229.2 256.2 L229.2 265.3 L235.5 265.3" stroke="#222" stroke-width="0.8" fill="none"/>
<path d="M227.8 257.8 L229.2 255.6 L230.6 257.8 Z" stroke="#222" stroke-width="0.5" fill="#222"/>
<path d="M234.2 263.9 L236.6 265.3 L234.2 266.7 Z" stroke="#222" stroke-width="0.5" fill="#222"/>
<g transform="translate(239.00 267.80) scale(0.92 1)"><text x="0" y="0" font-size="7.6" text-anchor="start" fill="#2a2a2a" font-weight="normal" stroke="#2a2a2a" stroke-width="0.07">PD1</text></g>
<rect x="452.40" y="188.34" width="5.90" height="46.86" fill="#e6887d" stroke="none" stroke-width="1"/>
<rect x="476.60" y="189.76" width="6.00" height="45.44" fill="#e6887d" stroke="none" stroke-width="1"/>
<rect x="501.00" y="187.49" width="6.00" height="47.71" fill="#e6887d" stroke="none" stroke-width="1"/>
<rect x="461.60" y="216.74" width="6.00" height="18.46" fill="#8a99be" stroke="none" stroke-width="1"/>
<rect x="485.80" y="229.52" width="6.00" height="5.68" fill="#8a99be" stroke="none" stroke-width="1"/>
<rect x="510.30" y="221.00" width="6.00" height="14.20" fill="#8a99be" stroke="none" stroke-width="1"/>
<line x1="448.00" y1="163.50" x2="448.00" y2="235.20" stroke="#1e1e1e" stroke-width="1.0"/>
<line x1="444.70" y1="235.20" x2="448.00" y2="235.20" stroke="#1e1e1e" stroke-width="1.0"/>
<g transform="translate(441.40 237.71) scale(0.87 1)"><text x="0" y="0" font-size="7.0" text-anchor="end" fill="#2a2a2a" font-weight="normal" stroke="#2a2a2a" stroke-width="0.07">0</text></g>
<line x1="444.70" y1="221.00" x2="448.00" y2="221.00" stroke="#1e1e1e" stroke-width="1.0"/>
<g transform="translate(441.40 223.51) scale(0.87 1)"><text x="0" y="0" font-size="7.0" text-anchor="end" fill="#2a2a2a" font-weight="normal" stroke="#2a2a2a" stroke-width="0.07">5</text></g>
<line x1="444.70" y1="206.80" x2="448.00" y2="206.80" stroke="#1e1e1e" stroke-width="1.0"/>
<g transform="translate(441.40 209.31) scale(0.87 1)"><text x="0" y="0" font-size="7.0" text-anchor="end" fill="#2a2a2a" font-weight="normal" stroke="#2a2a2a" stroke-width="0.07">10</text></g>
<line x1="444.70" y1="192.60" x2="448.00" y2="192.60" stroke="#1e1e1e" stroke-width="1.0"/>
<g transform="translate(441.40 195.11) scale(0.87 1)"><text x="0" y="0" font-size="7.0" text-anchor="end" fill="#2a2a2a" font-weight="normal" stroke="#2a2a2a" stroke-width="0.07">15</text></g>
<line x1="444.70" y1="178.40" x2="448.00" y2="178.40" stroke="#1e1e1e" stroke-width="1.0"/>
<g transform="translate(441.40 180.91) scale(0.87 1)"><text x="0" y="0" font-size="7.0" text-anchor="end" fill="#2a2a2a" font-weight="normal" stroke="#2a2a2a" stroke-width="0.07">20</text></g>
<line x1="444.70" y1="164.20" x2="448.00" y2="164.20" stroke="#1e1e1e" stroke-width="1.0"/>
<g transform="translate(441.40 166.71) scale(0.87 1)"><text x="0" y="0" font-size="7.0" text-anchor="end" fill="#2a2a2a" font-weight="normal" stroke="#2a2a2a" stroke-width="0.07">25</text></g>
<line x1="448.00" y1="235.20" x2="520.00" y2="235.20" stroke="#1e1e1e" stroke-width="1.0"/>
<line x1="460.00" y1="235.20" x2="460.00" y2="237.70" stroke="#1e1e1e" stroke-width="0.9"/>
<line x1="484.20" y1="235.20" x2="484.20" y2="237.70" stroke="#1e1e1e" stroke-width="0.9"/>
<line x1="508.60" y1="235.20" x2="508.60" y2="237.70" stroke="#1e1e1e" stroke-width="0.9"/>
<line x1="455.30" y1="188.34" x2="455.30" y2="179.82" stroke="#b81c3a" stroke-width="0.9"/>
<line x1="453.80" y1="179.82" x2="456.80" y2="179.82" stroke="#b81c3a" stroke-width="0.9"/>
<line x1="464.60" y1="216.74" x2="464.60" y2="209.64" stroke="#28497a" stroke-width="0.9"/>
<line x1="463.10" y1="209.64" x2="466.10" y2="209.64" stroke="#28497a" stroke-width="0.9"/>
<line x1="479.60" y1="189.76" x2="479.60" y2="185.50" stroke="#b81c3a" stroke-width="0.9"/>
<line x1="478.10" y1="185.50" x2="481.10" y2="185.50" stroke="#b81c3a" stroke-width="0.9"/>
<line x1="488.80" y1="229.52" x2="488.80" y2="227.82" stroke="#28497a" stroke-width="0.9"/>
<line x1="487.30" y1="227.82" x2="490.30" y2="227.82" stroke="#28497a" stroke-width="0.9"/>
<line x1="504.00" y1="187.49" x2="504.00" y2="180.67" stroke="#b81c3a" stroke-width="0.9"/>
<line x1="502.50" y1="180.67" x2="505.50" y2="180.67" stroke="#b81c3a" stroke-width="0.9"/>
<line x1="513.30" y1="221.00" x2="513.30" y2="216.74" stroke="#28497a" stroke-width="0.9"/>
<line x1="511.80" y1="216.74" x2="514.80" y2="216.74" stroke="#28497a" stroke-width="0.9"/>
<circle cx="454.90" cy="172.72" r="2.2" stroke="#b81c3a" stroke-width="1.0" fill="none"/>
<circle cx="454.90" cy="177.55" r="2.2" stroke="#b81c3a" stroke-width="1.0" fill="none"/>
<circle cx="454.90" cy="186.92" r="2.2" stroke="#b81c3a" stroke-width="1.0" fill="none"/>
<circle cx="454.90" cy="189.19" r="2.2" stroke="#b81c3a" stroke-width="1.0" fill="none"/>
<circle cx="456.20" cy="194.02" r="2.2" stroke="#b81c3a" stroke-width="1.0" fill="none"/>
<circle cx="453.80" cy="197.43" r="2.2" stroke="#b81c3a" stroke-width="1.0" fill="none"/>
<circle cx="479.70" cy="181.24" r="2.2" stroke="#b81c3a" stroke-width="1.0" fill="none"/>
<circle cx="478.50" cy="186.07" r="2.2" stroke="#b81c3a" stroke-width="1.0" fill="none"/>
<circle cx="480.80" cy="189.19" r="2.2" stroke="#b81c3a" stroke-width="1.0" fill="none"/>
<circle cx="478.50" cy="192.32" r="2.2" stroke="#b81c3a" stroke-width="1.0" fill="none"/>
<circle cx="480.80" cy="194.30" r="2.2" stroke="#b81c3a" stroke-width="1.0" fill="none"/>
<circle cx="479.70" cy="198.28" r="2.2" stroke="#b81c3a" stroke-width="1.0" fill="none"/>
<circle cx="503.00" cy="174.14" r="2.2" stroke="#b81c3a" stroke-width="1.0" fill="none"/>
<circle cx="505.20" cy="174.14" r="2.2" stroke="#b81c3a" stroke-width="1.0" fill="none"/>
<circle cx="504.10" cy="177.55" r="2.2" stroke="#b81c3a" stroke-width="1.0" fill="none"/>
<circle cx="504.10" cy="188.91" r="2.2" stroke="#b81c3a" stroke-width="1.0" fill="none"/>
<circle cx="504.10" cy="190.33" r="2.2" stroke="#b81c3a" stroke-width="1.0" fill="none"/>
<circle cx="504.10" cy="195.44" r="2.2" stroke="#b81c3a" stroke-width="1.0" fill="none"/>
<circle cx="504.10" cy="202.82" r="2.2" stroke="#b81c3a" stroke-width="1.0" fill="none"/>
<rect x="462.40" y="196.28" width="4.0" height="4.0" stroke="#28497a" stroke-width="1.0" fill="none"/>
<rect x="462.40" y="213.89" width="4.0" height="4.0" stroke="#28497a" stroke-width="1.0" fill="none"/>
<rect x="462.40" y="218.43" width="4.0" height="4.0" stroke="#28497a" stroke-width="1.0" fill="none"/>
<rect x="462.40" y="221.84" width="4.0" height="4.0" stroke="#28497a" stroke-width="1.0" fill="none"/>
<rect x="462.40" y="224.68" width="4.0" height="4.0" stroke="#28497a" stroke-width="1.0" fill="none"/>
<rect x="486.40" y="225.82" width="4.0" height="4.0" stroke="#28497a" stroke-width="1.0" fill="none"/>
<rect x="486.40" y="227.52" width="4.0" height="4.0" stroke="#28497a" stroke-width="1.0" fill="none"/>
<rect x="486.40" y="228.94" width="4.0" height="4.0" stroke="#28497a" stroke-width="1.0" fill="none"/>
<rect x="485.60" y="229.79" width="4.0" height="4.0" stroke="#28497a" stroke-width="1.0" fill="none"/>
<rect x="487.60" y="230.36" width="4.0" height="4.0" stroke="#28497a" stroke-width="1.0" fill="none"/>
<rect x="511.50" y="206.22" width="4.0" height="4.0" stroke="#28497a" stroke-width="1.0" fill="none"/>
<rect x="511.50" y="213.32" width="4.0" height="4.0" stroke="#28497a" stroke-width="1.0" fill="none"/>
<rect x="511.50" y="218.15" width="4.0" height="4.0" stroke="#28497a" stroke-width="1.0" fill="none"/>
<rect x="511.50" y="220.42" width="4.0" height="4.0" stroke="#28497a" stroke-width="1.0" fill="none"/>
<rect x="510.30" y="222.41" width="4.0" height="4.0" stroke="#28497a" stroke-width="1.0" fill="none"/>
<rect x="512.70" y="222.41" width="4.0" height="4.0" stroke="#28497a" stroke-width="1.0" fill="none"/>
<line x1="455.00" y1="169.20" x2="465.40" y2="169.20" stroke="#3a3a3a" stroke-width="1.2"/>
<circle cx="455.55" cy="165.50" r="1.0" fill="#1a1a1a"/>
<circle cx="458.65" cy="165.50" r="1.0" fill="#1a1a1a"/>
<circle cx="461.75" cy="165.50" r="1.0" fill="#1a1a1a"/>
<circle cx="464.85" cy="165.50" r="1.0" fill="#1a1a1a"/>
<line x1="479.20" y1="178.00" x2="489.20" y2="178.00" stroke="#3a3a3a" stroke-width="1.2"/>
<circle cx="479.55" cy="174.30" r="1.0" fill="#1a1a1a"/>
<circle cx="482.65" cy="174.30" r="1.0" fill="#1a1a1a"/>
<circle cx="485.75" cy="174.30" r="1.0" fill="#1a1a1a"/>
<circle cx="488.85" cy="174.30" r="1.0" fill="#1a1a1a"/>
<line x1="503.50" y1="169.70" x2="514.00" y2="169.70" stroke="#3a3a3a" stroke-width="1.2"/>
<circle cx="504.10" cy="166.00" r="1.0" fill="#1a1a1a"/>
<circle cx="507.20" cy="166.00" r="1.0" fill="#1a1a1a"/>
<circle cx="510.30" cy="166.00" r="1.0" fill="#1a1a1a"/>
<circle cx="513.40" cy="166.00" r="1.0" fill="#1a1a1a"/>
<text x="430.00" y="199.80" font-size="8.4" text-anchor="middle" fill="#2a2a2a" font-weight="normal" textLength="45" lengthAdjust="spacingAndGlyphs" transform="rotate(-90 430.00 199.80)" stroke="#2a2a2a" stroke-width="0.07">% CD4<tspan dy="-2.4" font-size="5">+</tspan><tspan dy="2.4">T cells</tspan></text>
<text x="0" y="0" font-size="7.8" text-anchor="end" fill="#2a2a2a" textLength="28.5" lengthAdjust="spacingAndGlyphs" transform="translate(463.30 245.60) rotate(-45)">Tph-blood</text>
<text x="0" y="0" font-size="7.8" text-anchor="end" fill="#2a2a2a" textLength="23" lengthAdjust="spacingAndGlyphs" transform="translate(487.50 245.60) rotate(-45)">Trh-liver</text>
<text x="0" y="0" font-size="7.8" text-anchor="end" fill="#2a2a2a" textLength="23" lengthAdjust="spacingAndGlyphs" transform="translate(511.90 245.60) rotate(-45)">Trh-lung</text>
<circle cx="451.60" cy="155.50" r="2.3" stroke="#b81c3a" stroke-width="1.0" fill="white"/>
<g transform="translate(456.80 158.20) scale(0.9 1)"><text x="0" y="0" font-size="7.6" text-anchor="start" fill="#2a2a2a" font-weight="normal" stroke="#2a2a2a" stroke-width="0.07">WT-T</text></g>
<rect x="479.20" y="153.50" width="4.0" height="4.0" stroke="#28497a" stroke-width="1.0" fill="white"/>
<g transform="translate(486.60 158.20) scale(0.9 1)"><text x="0" y="0" font-size="7.6" text-anchor="start" fill="#2a2a2a" font-weight="normal" stroke="#2a2a2a" stroke-width="0.07">T-bet<tspan dy="-2.7" font-size="5.4">–/–</tspan><tspan dy="2.7">-T</tspan></text></g>
<rect x="240.20" y="351.28" width="14.40" height="36.22" fill="#e6887d" stroke="none" stroke-width="1"/>
<rect x="264.20" y="377.71" width="14.30" height="9.79" fill="#8a99be" stroke="none" stroke-width="1"/>
<line x1="234.50" y1="308.50" x2="234.50" y2="387.50" stroke="#1e1e1e" stroke-width="1.0"/>
<line x1="231.20" y1="387.50" x2="234.50" y2="387.50" stroke="#1e1e1e" stroke-width="1.0"/>
<g transform="translate(228.30 390.22) scale(0.95 1)"><text x="0" y="0" font-size="7.6" text-anchor="end" fill="#2a2a2a" font-weight="normal" stroke="#2a2a2a" stroke-width="0.07">0</text></g>
<line x1="231.20" y1="367.92" x2="234.50" y2="367.92" stroke="#1e1e1e" stroke-width="1.0"/>
<g transform="translate(228.30 370.64) scale(0.95 1)"><text x="0" y="0" font-size="7.6" text-anchor="end" fill="#2a2a2a" font-weight="normal" stroke="#2a2a2a" stroke-width="0.07">100</text></g>
<line x1="231.20" y1="348.34" x2="234.50" y2="348.34" stroke="#1e1e1e" stroke-width="1.0"/>
<g transform="translate(228.30 351.06) scale(0.95 1)"><text x="0" y="0" font-size="7.6" text-anchor="end" fill="#2a2a2a" font-weight="normal" stroke="#2a2a2a" stroke-width="0.07">200</text></g>
<line x1="231.20" y1="328.76" x2="234.50" y2="328.76" stroke="#1e1e1e" stroke-width="1.0"/>
<g transform="translate(228.30 331.48) scale(0.95 1)"><text x="0" y="0" font-size="7.6" text-anchor="end" fill="#2a2a2a" font-weight="normal" stroke="#2a2a2a" stroke-width="0.07">300</text></g>
<line x1="231.20" y1="309.18" x2="234.50" y2="309.18" stroke="#1e1e1e" stroke-width="1.0"/>
<g transform="translate(228.30 311.90) scale(0.95 1)"><text x="0" y="0" font-size="7.6" text-anchor="end" fill="#2a2a2a" font-weight="normal" stroke="#2a2a2a" stroke-width="0.07">400</text></g>
<line x1="234.50" y1="387.50" x2="284.30" y2="387.50" stroke="#1e1e1e" stroke-width="1.0"/>
<line x1="247.40" y1="387.50" x2="247.40" y2="389.80" stroke="#1e1e1e" stroke-width="0.9"/>
<line x1="271.30" y1="387.50" x2="271.30" y2="389.80" stroke="#1e1e1e" stroke-width="0.9"/>
<line x1="247.40" y1="351.28" x2="247.40" y2="342.07" stroke="#b81c3a" stroke-width="0.9"/>
<line x1="245.40" y1="342.07" x2="249.40" y2="342.07" stroke="#b81c3a" stroke-width="0.9"/>
<line x1="247.40" y1="351.28" x2="247.40" y2="358.13" stroke="#b81c3a" stroke-width="0.9"/>
<line x1="245.40" y1="358.13" x2="249.40" y2="358.13" stroke="#b81c3a" stroke-width="0.9"/>
<line x1="271.30" y1="377.71" x2="271.30" y2="374.19" stroke="#28497a" stroke-width="0.9"/>
<line x1="269.30" y1="374.19" x2="273.30" y2="374.19" stroke="#28497a" stroke-width="0.9"/>
<line x1="271.30" y1="377.71" x2="271.30" y2="380.65" stroke="#28497a" stroke-width="0.9"/>
<line x1="269.30" y1="380.65" x2="273.30" y2="380.65" stroke="#28497a" stroke-width="0.9"/>
<circle cx="243.10" cy="322.89" r="2.35" stroke="#b81c3a" stroke-width="1.15" fill="none"/>
<circle cx="247.90" cy="322.89" r="2.35" stroke="#b81c3a" stroke-width="1.15" fill="none"/>
<circle cx="252.70" cy="322.89" r="2.35" stroke="#b81c3a" stroke-width="1.15" fill="none"/>
<circle cx="247.90" cy="336.00" r="2.35" stroke="#b81c3a" stroke-width="1.15" fill="none"/>
<circle cx="247.60" cy="343.44" r="2.35" stroke="#b81c3a" stroke-width="1.15" fill="none"/>
<circle cx="247.90" cy="358.52" r="2.35" stroke="#b81c3a" stroke-width="1.15" fill="none"/>
<circle cx="243.10" cy="370.86" r="2.35" stroke="#b81c3a" stroke-width="1.15" fill="none"/>
<circle cx="252.70" cy="372.23" r="2.35" stroke="#b81c3a" stroke-width="1.15" fill="none"/>
<circle cx="247.90" cy="372.81" r="2.35" stroke="#b81c3a" stroke-width="1.15" fill="none"/>
<circle cx="247.60" cy="378.88" r="2.35" stroke="#b81c3a" stroke-width="1.15" fill="none"/>
<rect x="270.65" y="365.38" width="4.3" height="4.3" stroke="#28497a" stroke-width="1.15" fill="none"/>
<rect x="266.85" y="369.69" width="4.3" height="4.3" stroke="#28497a" stroke-width="1.15" fill="none"/>
<rect x="273.35" y="370.08" width="4.3" height="4.3" stroke="#28497a" stroke-width="1.15" fill="none"/>
<rect x="265.35" y="373.21" width="4.3" height="4.3" stroke="#28497a" stroke-width="1.15" fill="none"/>
<rect x="269.35" y="374.58" width="4.3" height="4.3" stroke="#28497a" stroke-width="1.15" fill="none"/>
<rect x="270.85" y="377.52" width="4.3" height="4.3" stroke="#28497a" stroke-width="1.15" fill="none"/>
<rect x="266.35" y="381.43" width="4.3" height="4.3" stroke="#28497a" stroke-width="1.15" fill="none"/>
<rect x="269.35" y="383.00" width="4.3" height="4.3" stroke="#28497a" stroke-width="1.15" fill="none"/>
<rect x="272.85" y="384.37" width="4.3" height="4.3" stroke="#28497a" stroke-width="1.15" fill="none"/>
<rect x="265.85" y="384.96" width="4.3" height="4.3" stroke="#28497a" stroke-width="1.15" fill="none"/>
<line x1="246.90" y1="314.80" x2="271.80" y2="314.80" stroke="#3a3a3a" stroke-width="1.2"/>
<circle cx="257.80" cy="311.10" r="1.0" fill="#1a1a1a"/>
<circle cx="260.90" cy="311.10" r="1.0" fill="#1a1a1a"/>
<g transform="translate(247.10 398.50) scale(0.8 1)"><text x="0" y="0" font-size="7.3" text-anchor="middle" fill="#2a2a2a" font-weight="normal" stroke="#2a2a2a" stroke-width="0.07">WT-T</text></g>
<g transform="translate(272.70 398.50) scale(0.83 1)"><text x="0" y="0" font-size="7.3" text-anchor="middle" fill="#2a2a2a" font-weight="normal" stroke="#2a2a2a" stroke-width="0.07">T-bet<tspan dy="-2.7" font-size="5.4">–/–</tspan><tspan dy="2.7">-T</tspan></text></g>
<text x="209.80" y="347.70" font-size="8.2" text-anchor="middle" fill="#2a2a2a" font-weight="normal" textLength="66.4" lengthAdjust="spacingAndGlyphs" transform="rotate(-90 209.80 347.70)" stroke="#2a2a2a" stroke-width="0.07">No. CD4<tspan dy="-2.6" font-size="5.4">+</tspan><tspan dy="2.6"> cells/iBALT</tspan></text>
<rect x="334.00" y="357.38" width="13.40" height="29.72" fill="#e6887d" stroke="none" stroke-width="1"/>
<rect x="357.00" y="384.26" width="14.40" height="2.84" fill="#8a99be" stroke="none" stroke-width="1"/>
<line x1="327.30" y1="308.50" x2="327.30" y2="387.10" stroke="#1e1e1e" stroke-width="1.0"/>
<line x1="324.00" y1="387.10" x2="327.30" y2="387.10" stroke="#1e1e1e" stroke-width="1.0"/>
<g transform="translate(320.80 389.82) scale(0.93 1)"><text x="0" y="0" font-size="7.6" text-anchor="end" fill="#2a2a2a" font-weight="normal" stroke="#2a2a2a" stroke-width="0.07">0</text></g>
<line x1="324.00" y1="361.26" x2="327.30" y2="361.26" stroke="#1e1e1e" stroke-width="1.0"/>
<g transform="translate(320.80 363.98) scale(0.93 1)"><text x="0" y="0" font-size="7.6" text-anchor="end" fill="#2a2a2a" font-weight="normal" stroke="#2a2a2a" stroke-width="0.07">200</text></g>
<line x1="324.00" y1="335.42" x2="327.30" y2="335.42" stroke="#1e1e1e" stroke-width="1.0"/>
<g transform="translate(320.80 338.14) scale(0.93 1)"><text x="0" y="0" font-size="7.6" text-anchor="end" fill="#2a2a2a" font-weight="normal" stroke="#2a2a2a" stroke-width="0.07">400</text></g>
<line x1="324.00" y1="309.58" x2="327.30" y2="309.58" stroke="#1e1e1e" stroke-width="1.0"/>
<g transform="translate(320.80 312.30) scale(0.93 1)"><text x="0" y="0" font-size="7.6" text-anchor="end" fill="#2a2a2a" font-weight="normal" stroke="#2a2a2a" stroke-width="0.07">600</text></g>
<line x1="327.30" y1="387.10" x2="374.30" y2="387.10" stroke="#1e1e1e" stroke-width="1.0"/>
<line x1="340.70" y1="387.10" x2="340.70" y2="389.40" stroke="#1e1e1e" stroke-width="0.9"/>
<line x1="364.20" y1="387.10" x2="364.20" y2="389.40" stroke="#1e1e1e" stroke-width="0.9"/>
<line x1="340.70" y1="357.38" x2="340.70" y2="348.34" stroke="#b81c3a" stroke-width="0.9"/>
<line x1="338.70" y1="348.34" x2="342.70" y2="348.34" stroke="#b81c3a" stroke-width="0.9"/>
<line x1="340.70" y1="357.38" x2="340.70" y2="364.49" stroke="#b81c3a" stroke-width="0.9"/>
<line x1="338.70" y1="364.49" x2="342.70" y2="364.49" stroke="#b81c3a" stroke-width="0.9"/>
<line x1="364.20" y1="384.26" x2="364.20" y2="380.90" stroke="#28497a" stroke-width="0.9"/>
<line x1="362.20" y1="380.90" x2="366.20" y2="380.90" stroke="#28497a" stroke-width="0.9"/>
<circle cx="335.60" cy="323.79" r="2.35" stroke="#b81c3a" stroke-width="1.15" fill="none"/>
<circle cx="345.50" cy="321.85" r="2.35" stroke="#b81c3a" stroke-width="1.15" fill="none"/>
<circle cx="335.60" cy="348.34" r="2.35" stroke="#b81c3a" stroke-width="1.15" fill="none"/>
<circle cx="345.50" cy="348.34" r="2.35" stroke="#b81c3a" stroke-width="1.15" fill="none"/>
<circle cx="335.60" cy="357.38" r="2.35" stroke="#b81c3a" stroke-width="1.15" fill="none"/>
<circle cx="345.50" cy="353.77" r="2.35" stroke="#b81c3a" stroke-width="1.15" fill="none"/>
<circle cx="345.50" cy="360.61" r="2.35" stroke="#b81c3a" stroke-width="1.15" fill="none"/>
<circle cx="340.70" cy="372.24" r="2.35" stroke="#b81c3a" stroke-width="1.15" fill="none"/>
<circle cx="335.60" cy="379.61" r="2.35" stroke="#b81c3a" stroke-width="1.15" fill="none"/>
<circle cx="345.50" cy="379.35" r="2.35" stroke="#b81c3a" stroke-width="1.15" fill="none"/>
<rect x="362.55" y="366.22" width="4.3" height="4.3" stroke="#28497a" stroke-width="1.15" fill="none"/>
<rect x="365.45" y="372.68" width="4.3" height="4.3" stroke="#28497a" stroke-width="1.15" fill="none"/>
<rect x="359.85" y="377.20" width="4.3" height="4.3" stroke="#28497a" stroke-width="1.15" fill="none"/>
<rect x="363.85" y="379.14" width="4.3" height="4.3" stroke="#28497a" stroke-width="1.15" fill="none"/>
<rect x="357.85" y="382.37" width="4.3" height="4.3" stroke="#28497a" stroke-width="1.15" fill="none"/>
<rect x="361.85" y="383.01" width="4.3" height="4.3" stroke="#28497a" stroke-width="1.15" fill="none"/>
<rect x="365.85" y="383.66" width="4.3" height="4.3" stroke="#28497a" stroke-width="1.15" fill="none"/>
<rect x="358.35" y="384.43" width="4.3" height="4.3" stroke="#28497a" stroke-width="1.15" fill="none"/>
<rect x="362.85" y="384.56" width="4.3" height="4.3" stroke="#28497a" stroke-width="1.15" fill="none"/>
<rect x="367.35" y="384.69" width="4.3" height="4.3" stroke="#28497a" stroke-width="1.15" fill="none"/>
<line x1="340.20" y1="314.80" x2="365.10" y2="314.80" stroke="#3a3a3a" stroke-width="1.2"/>
<circle cx="351.10" cy="311.10" r="1.0" fill="#1a1a1a"/>
<circle cx="354.20" cy="311.10" r="1.0" fill="#1a1a1a"/>
<g transform="translate(339.60 398.50) scale(0.8 1)"><text x="0" y="0" font-size="7.3" text-anchor="middle" fill="#2a2a2a" font-weight="normal" stroke="#2a2a2a" stroke-width="0.07">WT-T</text></g>
<g transform="translate(364.20 398.50) scale(0.83 1)"><text x="0" y="0" font-size="7.3" text-anchor="middle" fill="#2a2a2a" font-weight="normal" stroke="#2a2a2a" stroke-width="0.07">T-bet<tspan dy="-2.7" font-size="5.4">–/–</tspan><tspan dy="2.7">-T</tspan></text></g>
<text x="303.30" y="348.50" font-size="8.2" text-anchor="middle" fill="#2a2a2a" font-weight="normal" textLength="66.4" lengthAdjust="spacingAndGlyphs" transform="rotate(-90 303.30 348.50)" stroke="#2a2a2a" stroke-width="0.07">No. B220<tspan dy="-2.6" font-size="5.4">+</tspan><tspan dy="2.6"> cells/iBALT</tspan></text>
<rect x="443.40" y="355.56" width="22.20" height="31.74" fill="#e6887d" stroke="none" stroke-width="1"/>
<rect x="479.30" y="332.57" width="21.80" height="54.73" fill="#8a99be" stroke="none" stroke-width="1"/>
<line x1="430.50" y1="387.30" x2="431.70" y2="387.30" stroke="#1e1e1e" stroke-width="0.6"/>
<line x1="430.50" y1="381.83" x2="431.70" y2="381.83" stroke="#1e1e1e" stroke-width="0.6"/>
<line x1="430.50" y1="376.35" x2="431.70" y2="376.35" stroke="#1e1e1e" stroke-width="0.6"/>
<line x1="430.50" y1="370.88" x2="431.70" y2="370.88" stroke="#1e1e1e" stroke-width="0.6"/>
<line x1="430.50" y1="365.41" x2="431.70" y2="365.41" stroke="#1e1e1e" stroke-width="0.6"/>
<line x1="430.50" y1="359.93" x2="431.70" y2="359.93" stroke="#1e1e1e" stroke-width="0.6"/>
<line x1="430.50" y1="354.46" x2="431.70" y2="354.46" stroke="#1e1e1e" stroke-width="0.6"/>
<line x1="430.50" y1="348.99" x2="431.70" y2="348.99" stroke="#1e1e1e" stroke-width="0.6"/>
<line x1="430.50" y1="343.52" x2="431.70" y2="343.52" stroke="#1e1e1e" stroke-width="0.6"/>
<line x1="430.50" y1="338.04" x2="431.70" y2="338.04" stroke="#1e1e1e" stroke-width="0.6"/>
<line x1="430.50" y1="332.57" x2="431.70" y2="332.57" stroke="#1e1e1e" stroke-width="0.6"/>
<line x1="430.50" y1="327.10" x2="431.70" y2="327.10" stroke="#1e1e1e" stroke-width="0.6"/>
<line x1="430.50" y1="321.62" x2="431.70" y2="321.62" stroke="#1e1e1e" stroke-width="0.6"/>
<line x1="430.50" y1="316.15" x2="431.70" y2="316.15" stroke="#1e1e1e" stroke-width="0.6"/>
<line x1="430.50" y1="310.68" x2="431.70" y2="310.68" stroke="#1e1e1e" stroke-width="0.6"/>
<line x1="430.50" y1="305.20" x2="431.70" y2="305.20" stroke="#1e1e1e" stroke-width="0.6"/>
<line x1="431.70" y1="303.50" x2="431.70" y2="387.30" stroke="#1e1e1e" stroke-width="1.0"/>
<line x1="428.40" y1="387.30" x2="431.70" y2="387.30" stroke="#1e1e1e" stroke-width="1.0"/>
<g transform="translate(425.10 389.88) scale(0.88 1)"><text x="0" y="0" font-size="7.2" text-anchor="end" fill="#2a2a2a" font-weight="normal" stroke="#2a2a2a" stroke-width="0.07">500</text></g>
<line x1="428.40" y1="359.94" x2="431.70" y2="359.94" stroke="#1e1e1e" stroke-width="1.0"/>
<g transform="translate(425.10 362.51) scale(0.88 1)"><text x="0" y="0" font-size="7.2" text-anchor="end" fill="#2a2a2a" font-weight="normal" stroke="#2a2a2a" stroke-width="0.07">550</text></g>
<line x1="428.40" y1="332.57" x2="431.70" y2="332.57" stroke="#1e1e1e" stroke-width="1.0"/>
<g transform="translate(425.10 335.15) scale(0.88 1)"><text x="0" y="0" font-size="7.2" text-anchor="end" fill="#2a2a2a" font-weight="normal" stroke="#2a2a2a" stroke-width="0.07">600</text></g>
<line x1="428.40" y1="305.21" x2="431.70" y2="305.21" stroke="#1e1e1e" stroke-width="1.0"/>
<g transform="translate(425.10 307.78) scale(0.88 1)"><text x="0" y="0" font-size="7.2" text-anchor="end" fill="#2a2a2a" font-weight="normal" stroke="#2a2a2a" stroke-width="0.07">650</text></g>
<line x1="431.70" y1="387.30" x2="508.00" y2="387.30" stroke="#1e1e1e" stroke-width="1.0"/>
<line x1="454.50" y1="387.30" x2="454.50" y2="389.60" stroke="#1e1e1e" stroke-width="0.9"/>
<line x1="490.20" y1="387.30" x2="490.20" y2="389.60" stroke="#1e1e1e" stroke-width="0.9"/>
<line x1="454.50" y1="355.56" x2="454.50" y2="350.63" stroke="#b81c3a" stroke-width="0.9"/>
<line x1="452.00" y1="350.63" x2="457.00" y2="350.63" stroke="#b81c3a" stroke-width="0.9"/>
<line x1="454.50" y1="355.56" x2="454.50" y2="359.94" stroke="#b81c3a" stroke-width="0.9"/>
<line x1="452.00" y1="359.94" x2="457.00" y2="359.94" stroke="#b81c3a" stroke-width="0.9"/>
<line x1="490.20" y1="332.57" x2="490.20" y2="325.46" stroke="#28497a" stroke-width="0.9"/>
<line x1="487.70" y1="325.46" x2="492.70" y2="325.46" stroke="#28497a" stroke-width="0.9"/>
<line x1="490.20" y1="332.57" x2="490.20" y2="337.50" stroke="#28497a" stroke-width="0.9"/>
<line x1="487.70" y1="337.50" x2="492.70" y2="337.50" stroke="#28497a" stroke-width="0.9"/>
<circle cx="449.70" cy="345.16" r="2.35" stroke="#b81c3a" stroke-width="1.15" fill="none"/>
<circle cx="459.70" cy="342.42" r="2.35" stroke="#b81c3a" stroke-width="1.15" fill="none"/>
<circle cx="459.70" cy="349.54" r="2.35" stroke="#b81c3a" stroke-width="1.15" fill="none"/>
<circle cx="454.50" cy="359.94" r="2.35" stroke="#b81c3a" stroke-width="1.15" fill="none"/>
<circle cx="449.70" cy="365.41" r="2.35" stroke="#b81c3a" stroke-width="1.15" fill="none"/>
<circle cx="459.70" cy="365.41" r="2.35" stroke="#b81c3a" stroke-width="1.15" fill="none"/>
<rect x="492.65" y="309.62" width="4.3" height="4.3" stroke="#28497a" stroke-width="1.15" fill="none"/>
<rect x="482.45" y="314.00" width="4.3" height="4.3" stroke="#28497a" stroke-width="1.15" fill="none"/>
<rect x="492.65" y="315.10" width="4.3" height="4.3" stroke="#28497a" stroke-width="1.15" fill="none"/>
<rect x="482.45" y="326.59" width="4.3" height="4.3" stroke="#28497a" stroke-width="1.15" fill="none"/>
<rect x="492.65" y="328.23" width="4.3" height="4.3" stroke="#28497a" stroke-width="1.15" fill="none"/>
<rect x="488.05" y="335.35" width="4.3" height="4.3" stroke="#28497a" stroke-width="1.15" fill="none"/>
<rect x="488.05" y="345.20" width="4.3" height="4.3" stroke="#28497a" stroke-width="1.15" fill="none"/>
<rect x="488.05" y="358.88" width="4.3" height="4.3" stroke="#28497a" stroke-width="1.15" fill="none"/>
<line x1="453.90" y1="306.30" x2="490.50" y2="306.30" stroke="#3a3a3a" stroke-width="1.2"/>
<circle cx="472.20" cy="302.60" r="1.0" fill="#1a1a1a"/>
<text x="408.20" y="345.50" font-size="8.0" text-anchor="middle" fill="#2a2a2a" font-weight="normal" textLength="57.5" lengthAdjust="spacingAndGlyphs" transform="rotate(-90 408.20 345.50)" stroke="#2a2a2a" stroke-width="0.07">Serum IgG (ng/mL)</text>
<rect x="443.40" y="454.28" width="22.20" height="31.02" fill="#e6887d" stroke="none" stroke-width="1"/>
<rect x="479.30" y="481.67" width="21.80" height="3.63" fill="#8a99be" stroke="none" stroke-width="1"/>
<line x1="430.50" y1="485.30" x2="431.70" y2="485.30" stroke="#1e1e1e" stroke-width="0.6"/>
<line x1="430.50" y1="482.00" x2="431.70" y2="482.00" stroke="#1e1e1e" stroke-width="0.6"/>
<line x1="430.50" y1="478.70" x2="431.70" y2="478.70" stroke="#1e1e1e" stroke-width="0.6"/>
<line x1="430.50" y1="475.40" x2="431.70" y2="475.40" stroke="#1e1e1e" stroke-width="0.6"/>
<line x1="430.50" y1="472.10" x2="431.70" y2="472.10" stroke="#1e1e1e" stroke-width="0.6"/>
<line x1="430.50" y1="468.80" x2="431.70" y2="468.80" stroke="#1e1e1e" stroke-width="0.6"/>
<line x1="430.50" y1="465.50" x2="431.70" y2="465.50" stroke="#1e1e1e" stroke-width="0.6"/>
<line x1="430.50" y1="462.20" x2="431.70" y2="462.20" stroke="#1e1e1e" stroke-width="0.6"/>
<line x1="430.50" y1="458.90" x2="431.70" y2="458.90" stroke="#1e1e1e" stroke-width="0.6"/>
<line x1="430.50" y1="455.60" x2="431.70" y2="455.60" stroke="#1e1e1e" stroke-width="0.6"/>
<line x1="430.50" y1="452.30" x2="431.70" y2="452.30" stroke="#1e1e1e" stroke-width="0.6"/>
<line x1="430.50" y1="449.00" x2="431.70" y2="449.00" stroke="#1e1e1e" stroke-width="0.6"/>
<line x1="430.50" y1="445.70" x2="431.70" y2="445.70" stroke="#1e1e1e" stroke-width="0.6"/>
<line x1="430.50" y1="442.40" x2="431.70" y2="442.40" stroke="#1e1e1e" stroke-width="0.6"/>
<line x1="430.50" y1="439.10" x2="431.70" y2="439.10" stroke="#1e1e1e" stroke-width="0.6"/>
<line x1="430.50" y1="435.80" x2="431.70" y2="435.80" stroke="#1e1e1e" stroke-width="0.6"/>
<line x1="430.50" y1="432.50" x2="431.70" y2="432.50" stroke="#1e1e1e" stroke-width="0.6"/>
<line x1="430.50" y1="429.20" x2="431.70" y2="429.20" stroke="#1e1e1e" stroke-width="0.6"/>
<line x1="430.50" y1="425.90" x2="431.70" y2="425.90" stroke="#1e1e1e" stroke-width="0.6"/>
<line x1="430.50" y1="422.60" x2="431.70" y2="422.60" stroke="#1e1e1e" stroke-width="0.6"/>
<line x1="430.50" y1="419.30" x2="431.70" y2="419.30" stroke="#1e1e1e" stroke-width="0.6"/>
<line x1="430.50" y1="416.00" x2="431.70" y2="416.00" stroke="#1e1e1e" stroke-width="0.6"/>
<line x1="430.50" y1="412.70" x2="431.70" y2="412.70" stroke="#1e1e1e" stroke-width="0.6"/>
<line x1="430.50" y1="409.40" x2="431.70" y2="409.40" stroke="#1e1e1e" stroke-width="0.6"/>
<line x1="430.50" y1="406.10" x2="431.70" y2="406.10" stroke="#1e1e1e" stroke-width="0.6"/>
<line x1="430.50" y1="402.80" x2="431.70" y2="402.80" stroke="#1e1e1e" stroke-width="0.6"/>
<line x1="431.70" y1="402.00" x2="431.70" y2="485.30" stroke="#1e1e1e" stroke-width="1.0"/>
<line x1="428.40" y1="485.30" x2="431.70" y2="485.30" stroke="#1e1e1e" stroke-width="1.0"/>
<g transform="translate(425.10 487.88) scale(0.88 1)"><text x="0" y="0" font-size="7.2" text-anchor="end" fill="#2a2a2a" font-weight="normal" stroke="#2a2a2a" stroke-width="0.07">0</text></g>
<line x1="428.40" y1="468.80" x2="431.70" y2="468.80" stroke="#1e1e1e" stroke-width="1.0"/>
<g transform="translate(425.10 471.38) scale(0.88 1)"><text x="0" y="0" font-size="7.2" text-anchor="end" fill="#2a2a2a" font-weight="normal" stroke="#2a2a2a" stroke-width="0.07">50</text></g>
<line x1="428.40" y1="452.30" x2="431.70" y2="452.30" stroke="#1e1e1e" stroke-width="1.0"/>
<g transform="translate(425.10 454.88) scale(0.88 1)"><text x="0" y="0" font-size="7.2" text-anchor="end" fill="#2a2a2a" font-weight="normal" stroke="#2a2a2a" stroke-width="0.07">100</text></g>
<line x1="428.40" y1="435.80" x2="431.70" y2="435.80" stroke="#1e1e1e" stroke-width="1.0"/>
<g transform="translate(425.10 438.38) scale(0.88 1)"><text x="0" y="0" font-size="7.2" text-anchor="end" fill="#2a2a2a" font-weight="normal" stroke="#2a2a2a" stroke-width="0.07">150</text></g>
<line x1="428.40" y1="419.30" x2="431.70" y2="419.30" stroke="#1e1e1e" stroke-width="1.0"/>
<g transform="translate(425.10 421.88) scale(0.88 1)"><text x="0" y="0" font-size="7.2" text-anchor="end" fill="#2a2a2a" font-weight="normal" stroke="#2a2a2a" stroke-width="0.07">200</text></g>
<line x1="428.40" y1="402.80" x2="431.70" y2="402.80" stroke="#1e1e1e" stroke-width="1.0"/>
<g transform="translate(425.10 405.38) scale(0.88 1)"><text x="0" y="0" font-size="7.2" text-anchor="end" fill="#2a2a2a" font-weight="normal" stroke="#2a2a2a" stroke-width="0.07">250</text></g>
<line x1="431.70" y1="485.30" x2="509.00" y2="485.30" stroke="#1e1e1e" stroke-width="1.0"/>
<line x1="454.50" y1="485.30" x2="454.50" y2="487.60" stroke="#1e1e1e" stroke-width="0.9"/>
<line x1="490.20" y1="485.30" x2="490.20" y2="487.60" stroke="#1e1e1e" stroke-width="0.9"/>
<line x1="454.50" y1="454.28" x2="454.50" y2="445.04" stroke="#b81c3a" stroke-width="0.9"/>
<line x1="452.00" y1="445.04" x2="457.00" y2="445.04" stroke="#b81c3a" stroke-width="0.9"/>
<line x1="454.50" y1="454.28" x2="454.50" y2="462.20" stroke="#b81c3a" stroke-width="0.9"/>
<line x1="452.00" y1="462.20" x2="457.00" y2="462.20" stroke="#b81c3a" stroke-width="0.9"/>
<line x1="490.20" y1="481.67" x2="490.20" y2="479.69" stroke="#28497a" stroke-width="0.9"/>
<line x1="487.70" y1="479.69" x2="492.70" y2="479.69" stroke="#28497a" stroke-width="0.9"/>
<line x1="490.20" y1="481.67" x2="490.20" y2="483.32" stroke="#28497a" stroke-width="0.9"/>
<line x1="487.70" y1="483.32" x2="492.70" y2="483.32" stroke="#28497a" stroke-width="0.9"/>
<circle cx="455.00" cy="415.01" r="2.35" stroke="#b81c3a" stroke-width="1.15" fill="none"/>
<circle cx="454.60" cy="448.01" r="2.35" stroke="#b81c3a" stroke-width="1.15" fill="none"/>
<circle cx="449.70" cy="458.57" r="2.35" stroke="#b81c3a" stroke-width="1.15" fill="none"/>
<circle cx="459.70" cy="458.57" r="2.35" stroke="#b81c3a" stroke-width="1.15" fill="none"/>
<circle cx="449.70" cy="468.47" r="2.35" stroke="#b81c3a" stroke-width="1.15" fill="none"/>
<circle cx="459.70" cy="466.82" r="2.35" stroke="#b81c3a" stroke-width="1.15" fill="none"/>
<rect x="482.45" y="471.27" width="4.3" height="4.3" stroke="#28497a" stroke-width="1.15" fill="none"/>
<rect x="492.65" y="472.92" width="4.3" height="4.3" stroke="#28497a" stroke-width="1.15" fill="none"/>
<rect x="488.05" y="474.90" width="4.3" height="4.3" stroke="#28497a" stroke-width="1.15" fill="none"/>
<rect x="482.45" y="479.19" width="4.3" height="4.3" stroke="#28497a" stroke-width="1.15" fill="none"/>
<rect x="488.05" y="479.85" width="4.3" height="4.3" stroke="#28497a" stroke-width="1.15" fill="none"/>
<rect x="493.35" y="480.51" width="4.3" height="4.3" stroke="#28497a" stroke-width="1.15" fill="none"/>
<rect x="479.35" y="481.83" width="4.3" height="4.3" stroke="#28497a" stroke-width="1.15" fill="none"/>
<rect x="485.35" y="482.16" width="4.3" height="4.3" stroke="#28497a" stroke-width="1.15" fill="none"/>
<rect x="490.85" y="482.16" width="4.3" height="4.3" stroke="#28497a" stroke-width="1.15" fill="none"/>
<rect x="496.35" y="481.83" width="4.3" height="4.3" stroke="#28497a" stroke-width="1.15" fill="none"/>
<line x1="454.60" y1="408.50" x2="489.90" y2="408.50" stroke="#3a3a3a" stroke-width="1.2"/>
<circle cx="470.70" cy="404.80" r="1.0" fill="#1a1a1a"/>
<circle cx="473.80" cy="404.80" r="1.0" fill="#1a1a1a"/>
<text x="408.40" y="444.30" font-size="8.0" text-anchor="middle" fill="#2a2a2a" font-weight="normal" textLength="73" lengthAdjust="spacingAndGlyphs" transform="rotate(-90 408.40 444.30)" stroke="#2a2a2a" stroke-width="0.07">Anti-dsDNA IgG (ng/mL)</text>
<g transform="translate(454.60 497.00) scale(0.8 1)"><text x="0" y="0" font-size="7.3" text-anchor="middle" fill="#2a2a2a" font-weight="normal" stroke="#2a2a2a" stroke-width="0.07">WT-T</text></g>
<g transform="translate(489.60 497.00) scale(0.83 1)"><text x="0" y="0" font-size="7.3" text-anchor="middle" fill="#2a2a2a" font-weight="normal" stroke="#2a2a2a" stroke-width="0.07">T-bet<tspan dy="-2.7" font-size="5.4">–/–</tspan><tspan dy="2.7">-T</tspan></text></g>
<rect x="35.80" y="506.08" width="6.80" height="2.22" fill="#e6887d" stroke="none" stroke-width="1"/>
<rect x="46.50" y="487.45" width="5.90" height="20.85" fill="#8a99be" stroke="none" stroke-width="1"/>
<rect x="65.10" y="470.77" width="6.20" height="37.53" fill="#e6887d" stroke="none" stroke-width="1"/>
<rect x="74.80" y="499.96" width="6.90" height="8.34" fill="#8a99be" stroke="none" stroke-width="1"/>
<rect x="93.40" y="475.50" width="6.50" height="32.80" fill="#e6887d" stroke="none" stroke-width="1"/>
<rect x="103.20" y="503.85" width="6.80" height="4.45" fill="#8a99be" stroke="none" stroke-width="1"/>
<line x1="29.60" y1="508.30" x2="30.90" y2="508.30" stroke="#1e1e1e" stroke-width="0.6"/>
<line x1="29.60" y1="502.74" x2="30.90" y2="502.74" stroke="#1e1e1e" stroke-width="0.6"/>
<line x1="29.60" y1="497.18" x2="30.90" y2="497.18" stroke="#1e1e1e" stroke-width="0.6"/>
<line x1="29.60" y1="491.62" x2="30.90" y2="491.62" stroke="#1e1e1e" stroke-width="0.6"/>
<line x1="29.60" y1="486.06" x2="30.90" y2="486.06" stroke="#1e1e1e" stroke-width="0.6"/>
<line x1="29.60" y1="480.50" x2="30.90" y2="480.50" stroke="#1e1e1e" stroke-width="0.6"/>
<line x1="29.60" y1="474.94" x2="30.90" y2="474.94" stroke="#1e1e1e" stroke-width="0.6"/>
<line x1="29.60" y1="469.38" x2="30.90" y2="469.38" stroke="#1e1e1e" stroke-width="0.6"/>
<line x1="29.60" y1="463.82" x2="30.90" y2="463.82" stroke="#1e1e1e" stroke-width="0.6"/>
<line x1="29.60" y1="458.26" x2="30.90" y2="458.26" stroke="#1e1e1e" stroke-width="0.6"/>
<line x1="29.60" y1="452.70" x2="30.90" y2="452.70" stroke="#1e1e1e" stroke-width="0.6"/>
<line x1="29.60" y1="447.14" x2="30.90" y2="447.14" stroke="#1e1e1e" stroke-width="0.6"/>
<line x1="29.60" y1="441.58" x2="30.90" y2="441.58" stroke="#1e1e1e" stroke-width="0.6"/>
<line x1="29.60" y1="436.02" x2="30.90" y2="436.02" stroke="#1e1e1e" stroke-width="0.6"/>
<line x1="29.60" y1="430.46" x2="30.90" y2="430.46" stroke="#1e1e1e" stroke-width="0.6"/>
<line x1="29.60" y1="424.90" x2="30.90" y2="424.90" stroke="#1e1e1e" stroke-width="0.6"/>
<line x1="30.90" y1="423.50" x2="30.90" y2="508.30" stroke="#1e1e1e" stroke-width="1.0"/>
<line x1="27.60" y1="508.30" x2="30.90" y2="508.30" stroke="#1e1e1e" stroke-width="1.0"/>
<g transform="translate(24.20 510.84) scale(0.82 1)"><text x="0" y="0" font-size="7.1" text-anchor="end" fill="#2a2a2a" font-weight="normal" stroke="#2a2a2a" stroke-width="0.07">0</text></g>
<line x1="27.60" y1="480.50" x2="30.90" y2="480.50" stroke="#1e1e1e" stroke-width="1.0"/>
<g transform="translate(24.20 483.04) scale(0.82 1)"><text x="0" y="0" font-size="7.1" text-anchor="end" fill="#2a2a2a" font-weight="normal" stroke="#2a2a2a" stroke-width="0.07">5</text></g>
<line x1="27.60" y1="452.70" x2="30.90" y2="452.70" stroke="#1e1e1e" stroke-width="1.0"/>
<g transform="translate(24.20 455.24) scale(0.82 1)"><text x="0" y="0" font-size="7.1" text-anchor="end" fill="#2a2a2a" font-weight="normal" stroke="#2a2a2a" stroke-width="0.07">10</text></g>
<line x1="27.60" y1="424.90" x2="30.90" y2="424.90" stroke="#1e1e1e" stroke-width="1.0"/>
<g transform="translate(24.20 427.44) scale(0.82 1)"><text x="0" y="0" font-size="7.1" text-anchor="end" fill="#2a2a2a" font-weight="normal" stroke="#2a2a2a" stroke-width="0.07">15</text></g>
<line x1="30.90" y1="508.30" x2="116.90" y2="508.30" stroke="#1e1e1e" stroke-width="1.0"/>
<line x1="44.20" y1="508.30" x2="44.20" y2="510.60" stroke="#1e1e1e" stroke-width="0.9"/>
<line x1="73.30" y1="508.30" x2="73.30" y2="510.60" stroke="#1e1e1e" stroke-width="0.9"/>
<line x1="101.70" y1="508.30" x2="101.70" y2="510.60" stroke="#1e1e1e" stroke-width="0.9"/>
<line x1="49.40" y1="487.45" x2="49.40" y2="474.94" stroke="#28497a" stroke-width="0.9"/>
<line x1="47.90" y1="474.94" x2="50.90" y2="474.94" stroke="#28497a" stroke-width="0.9"/>
<line x1="68.20" y1="470.77" x2="68.20" y2="462.15" stroke="#b81c3a" stroke-width="0.9"/>
<line x1="66.70" y1="462.15" x2="69.70" y2="462.15" stroke="#b81c3a" stroke-width="0.9"/>
<line x1="78.30" y1="499.96" x2="78.30" y2="493.29" stroke="#28497a" stroke-width="0.9"/>
<line x1="76.80" y1="493.29" x2="79.80" y2="493.29" stroke="#28497a" stroke-width="0.9"/>
<line x1="96.60" y1="475.50" x2="96.60" y2="470.49" stroke="#b81c3a" stroke-width="0.9"/>
<line x1="95.10" y1="470.49" x2="98.10" y2="470.49" stroke="#b81c3a" stroke-width="0.9"/>
<line x1="106.60" y1="503.85" x2="106.60" y2="496.07" stroke="#28497a" stroke-width="0.9"/>
<line x1="105.10" y1="496.07" x2="108.10" y2="496.07" stroke="#28497a" stroke-width="0.9"/>
<circle cx="37.50" cy="504.96" r="2.35" stroke="#b81c3a" stroke-width="1.15" fill="none"/>
<circle cx="39.50" cy="506.08" r="2.35" stroke="#b81c3a" stroke-width="1.15" fill="none"/>
<circle cx="41.00" cy="504.41" r="2.35" stroke="#b81c3a" stroke-width="1.15" fill="none"/>
<circle cx="38.50" cy="507.19" r="2.35" stroke="#b81c3a" stroke-width="1.15" fill="none"/>
<circle cx="40.50" cy="506.63" r="2.35" stroke="#b81c3a" stroke-width="1.15" fill="none"/>
<circle cx="36.50" cy="506.08" r="2.35" stroke="#b81c3a" stroke-width="1.15" fill="none"/>
<circle cx="68.00" cy="438.80" r="2.35" stroke="#b81c3a" stroke-width="1.15" fill="none"/>
<circle cx="68.00" cy="456.59" r="2.35" stroke="#b81c3a" stroke-width="1.15" fill="none"/>
<circle cx="66.50" cy="477.72" r="2.35" stroke="#b81c3a" stroke-width="1.15" fill="none"/>
<circle cx="68.50" cy="479.39" r="2.35" stroke="#b81c3a" stroke-width="1.15" fill="none"/>
<circle cx="69.50" cy="480.50" r="2.35" stroke="#b81c3a" stroke-width="1.15" fill="none"/>
<circle cx="68.00" cy="487.17" r="2.35" stroke="#b81c3a" stroke-width="1.15" fill="none"/>
<circle cx="97.70" cy="458.26" r="2.35" stroke="#b81c3a" stroke-width="1.15" fill="none"/>
<circle cx="95.50" cy="462.71" r="2.35" stroke="#b81c3a" stroke-width="1.15" fill="none"/>
<circle cx="97.00" cy="474.94" r="2.35" stroke="#b81c3a" stroke-width="1.15" fill="none"/>
<circle cx="96.00" cy="477.72" r="2.35" stroke="#b81c3a" stroke-width="1.15" fill="none"/>
<circle cx="95.50" cy="486.06" r="2.35" stroke="#b81c3a" stroke-width="1.15" fill="none"/>
<circle cx="97.50" cy="488.84" r="2.35" stroke="#b81c3a" stroke-width="1.15" fill="none"/>
<rect x="47.25" y="456.11" width="4.3" height="4.3" stroke="#28497a" stroke-width="1.15" fill="none"/>
<rect x="46.45" y="485.58" width="4.3" height="4.3" stroke="#28497a" stroke-width="1.15" fill="none"/>
<rect x="48.45" y="486.69" width="4.3" height="4.3" stroke="#28497a" stroke-width="1.15" fill="none"/>
<rect x="47.25" y="497.81" width="4.3" height="4.3" stroke="#28497a" stroke-width="1.15" fill="none"/>
<rect x="76.65" y="482.24" width="4.3" height="4.3" stroke="#28497a" stroke-width="1.15" fill="none"/>
<rect x="76.15" y="497.25" width="4.3" height="4.3" stroke="#28497a" stroke-width="1.15" fill="none"/>
<rect x="75.05" y="499.48" width="4.3" height="4.3" stroke="#28497a" stroke-width="1.15" fill="none"/>
<rect x="77.35" y="500.59" width="4.3" height="4.3" stroke="#28497a" stroke-width="1.15" fill="none"/>
<rect x="76.15" y="502.81" width="4.3" height="4.3" stroke="#28497a" stroke-width="1.15" fill="none"/>
<rect x="105.95" y="484.47" width="4.3" height="4.3" stroke="#28497a" stroke-width="1.15" fill="none"/>
<rect x="104.35" y="502.81" width="4.3" height="4.3" stroke="#28497a" stroke-width="1.15" fill="none"/>
<rect x="105.35" y="504.48" width="4.3" height="4.3" stroke="#28497a" stroke-width="1.15" fill="none"/>
<rect x="103.35" y="505.04" width="4.3" height="4.3" stroke="#28497a" stroke-width="1.15" fill="none"/>
<line x1="37.70" y1="452.70" x2="48.50" y2="452.70" stroke="#3a3a3a" stroke-width="1.2"/>
<circle cx="43.10" cy="449.00" r="1.0" fill="#1a1a1a"/>
<line x1="67.00" y1="434.50" x2="77.80" y2="434.50" stroke="#3a3a3a" stroke-width="1.2"/>
<circle cx="70.85" cy="430.80" r="1.0" fill="#1a1a1a"/>
<circle cx="73.95" cy="430.80" r="1.0" fill="#1a1a1a"/>
<line x1="98.30" y1="453.20" x2="108.10" y2="453.20" stroke="#3a3a3a" stroke-width="1.2"/>
<circle cx="101.65" cy="449.50" r="1.0" fill="#1a1a1a"/>
<circle cx="104.75" cy="449.50" r="1.0" fill="#1a1a1a"/>
<g transform="translate(43.80 519.90) scale(0.9 1)"><text x="0" y="0" font-size="7.0" text-anchor="middle" fill="#2a2a2a" font-weight="normal" stroke="#2a2a2a" stroke-width="0.07">Spleen</text></g>
<g transform="translate(72.80 519.90) scale(0.9 1)"><text x="0" y="0" font-size="7.0" text-anchor="middle" fill="#2a2a2a" font-weight="normal" stroke="#2a2a2a" stroke-width="0.07">Liver</text></g>
<g transform="translate(101.40 519.90) scale(0.9 1)"><text x="0" y="0" font-size="7.0" text-anchor="middle" fill="#2a2a2a" font-weight="normal" stroke="#2a2a2a" stroke-width="0.07">Lung</text></g>
<text x="11.70" y="467.00" font-size="7.6" text-anchor="middle" fill="#2a2a2a" font-weight="normal" textLength="43" lengthAdjust="spacingAndGlyphs" transform="rotate(-90 11.70 467.00)" stroke="#2a2a2a" stroke-width="0.07">% Fas<tspan dy="-2.4" font-size="5">+</tspan><tspan dy="2.4">GL7</tspan><tspan dy="-2.4" font-size="5">+</tspan><tspan dy="2.4"> B</tspan></text>
<rect x="156.30" y="484.68" width="6.70" height="23.52" fill="#e6887d" stroke="none" stroke-width="1"/>
<rect x="166.90" y="485.52" width="6.80" height="22.68" fill="#8a99be" stroke="none" stroke-width="1"/>
<rect x="185.00" y="481.74" width="6.70" height="26.46" fill="#e6887d" stroke="none" stroke-width="1"/>
<rect x="195.80" y="468.72" width="7.00" height="39.48" fill="#8a99be" stroke="none" stroke-width="1"/>
<rect x="214.70" y="479.64" width="6.50" height="28.56" fill="#e6887d" stroke="none" stroke-width="1"/>
<rect x="224.90" y="476.28" width="6.80" height="31.92" fill="#8a99be" stroke="none" stroke-width="1"/>
<line x1="150.80" y1="508.20" x2="152.00" y2="508.20" stroke="#1e1e1e" stroke-width="0.6"/>
<line x1="150.80" y1="504.00" x2="152.00" y2="504.00" stroke="#1e1e1e" stroke-width="0.6"/>
<line x1="150.80" y1="499.80" x2="152.00" y2="499.80" stroke="#1e1e1e" stroke-width="0.6"/>
<line x1="150.80" y1="495.60" x2="152.00" y2="495.60" stroke="#1e1e1e" stroke-width="0.6"/>
<line x1="150.80" y1="491.40" x2="152.00" y2="491.40" stroke="#1e1e1e" stroke-width="0.6"/>
<line x1="150.80" y1="487.20" x2="152.00" y2="487.20" stroke="#1e1e1e" stroke-width="0.6"/>
<line x1="150.80" y1="483.00" x2="152.00" y2="483.00" stroke="#1e1e1e" stroke-width="0.6"/>
<line x1="150.80" y1="478.80" x2="152.00" y2="478.80" stroke="#1e1e1e" stroke-width="0.6"/>
<line x1="150.80" y1="474.60" x2="152.00" y2="474.60" stroke="#1e1e1e" stroke-width="0.6"/>
<line x1="150.80" y1="470.40" x2="152.00" y2="470.40" stroke="#1e1e1e" stroke-width="0.6"/>
<line x1="150.80" y1="466.20" x2="152.00" y2="466.20" stroke="#1e1e1e" stroke-width="0.6"/>
<line x1="150.80" y1="462.00" x2="152.00" y2="462.00" stroke="#1e1e1e" stroke-width="0.6"/>
<line x1="150.80" y1="457.80" x2="152.00" y2="457.80" stroke="#1e1e1e" stroke-width="0.6"/>
<line x1="150.80" y1="453.60" x2="152.00" y2="453.60" stroke="#1e1e1e" stroke-width="0.6"/>
<line x1="150.80" y1="449.40" x2="152.00" y2="449.40" stroke="#1e1e1e" stroke-width="0.6"/>
<line x1="150.80" y1="445.20" x2="152.00" y2="445.20" stroke="#1e1e1e" stroke-width="0.6"/>
<line x1="150.80" y1="441.00" x2="152.00" y2="441.00" stroke="#1e1e1e" stroke-width="0.6"/>
<line x1="150.80" y1="436.80" x2="152.00" y2="436.80" stroke="#1e1e1e" stroke-width="0.6"/>
<line x1="150.80" y1="432.60" x2="152.00" y2="432.60" stroke="#1e1e1e" stroke-width="0.6"/>
<line x1="150.80" y1="428.40" x2="152.00" y2="428.40" stroke="#1e1e1e" stroke-width="0.6"/>
<line x1="150.80" y1="424.20" x2="152.00" y2="424.20" stroke="#1e1e1e" stroke-width="0.6"/>
<line x1="152.00" y1="423.50" x2="152.00" y2="508.20" stroke="#1e1e1e" stroke-width="1.0"/>
<line x1="148.70" y1="508.20" x2="152.00" y2="508.20" stroke="#1e1e1e" stroke-width="1.0"/>
<g transform="translate(145.40 510.71) scale(0.9 1)"><text x="0" y="0" font-size="7.0" text-anchor="end" fill="#2a2a2a" font-weight="normal" stroke="#2a2a2a" stroke-width="0.07">0</text></g>
<line x1="148.70" y1="487.20" x2="152.00" y2="487.20" stroke="#1e1e1e" stroke-width="1.0"/>
<g transform="translate(145.40 489.71) scale(0.9 1)"><text x="0" y="0" font-size="7.0" text-anchor="end" fill="#2a2a2a" font-weight="normal" stroke="#2a2a2a" stroke-width="0.07">5</text></g>
<line x1="148.70" y1="466.20" x2="152.00" y2="466.20" stroke="#1e1e1e" stroke-width="1.0"/>
<g transform="translate(145.40 468.71) scale(0.9 1)"><text x="0" y="0" font-size="7.0" text-anchor="end" fill="#2a2a2a" font-weight="normal" stroke="#2a2a2a" stroke-width="0.07">10</text></g>
<line x1="148.70" y1="445.20" x2="152.00" y2="445.20" stroke="#1e1e1e" stroke-width="1.0"/>
<g transform="translate(145.40 447.71) scale(0.9 1)"><text x="0" y="0" font-size="7.0" text-anchor="end" fill="#2a2a2a" font-weight="normal" stroke="#2a2a2a" stroke-width="0.07">15</text></g>
<line x1="148.70" y1="424.20" x2="152.00" y2="424.20" stroke="#1e1e1e" stroke-width="1.0"/>
<g transform="translate(145.40 426.71) scale(0.9 1)"><text x="0" y="0" font-size="7.0" text-anchor="end" fill="#2a2a2a" font-weight="normal" stroke="#2a2a2a" stroke-width="0.07">20</text></g>
<line x1="152.00" y1="508.20" x2="235.20" y2="508.20" stroke="#1e1e1e" stroke-width="1.0"/>
<line x1="164.70" y1="508.20" x2="164.70" y2="510.50" stroke="#1e1e1e" stroke-width="0.9"/>
<line x1="193.60" y1="508.20" x2="193.60" y2="510.50" stroke="#1e1e1e" stroke-width="0.9"/>
<line x1="223.20" y1="508.20" x2="223.20" y2="510.50" stroke="#1e1e1e" stroke-width="0.9"/>
<line x1="159.60" y1="484.68" x2="159.60" y2="471.24" stroke="#b81c3a" stroke-width="0.9"/>
<line x1="158.10" y1="471.24" x2="161.10" y2="471.24" stroke="#b81c3a" stroke-width="0.9"/>
<line x1="170.30" y1="485.52" x2="170.30" y2="479.64" stroke="#28497a" stroke-width="0.9"/>
<line x1="168.80" y1="479.64" x2="171.80" y2="479.64" stroke="#28497a" stroke-width="0.9"/>
<line x1="188.30" y1="481.74" x2="188.30" y2="477.54" stroke="#b81c3a" stroke-width="0.9"/>
<line x1="186.80" y1="477.54" x2="189.80" y2="477.54" stroke="#b81c3a" stroke-width="0.9"/>
<line x1="199.30" y1="468.72" x2="199.30" y2="464.52" stroke="#28497a" stroke-width="0.9"/>
<line x1="197.80" y1="464.52" x2="200.80" y2="464.52" stroke="#28497a" stroke-width="0.9"/>
<line x1="218.00" y1="479.64" x2="218.00" y2="475.44" stroke="#b81c3a" stroke-width="0.9"/>
<line x1="216.50" y1="475.44" x2="219.50" y2="475.44" stroke="#b81c3a" stroke-width="0.9"/>
<line x1="228.30" y1="476.28" x2="228.30" y2="472.50" stroke="#28497a" stroke-width="0.9"/>
<line x1="226.80" y1="472.50" x2="229.80" y2="472.50" stroke="#28497a" stroke-width="0.9"/>
<circle cx="159.30" cy="436.80" r="2.35" stroke="#b81c3a" stroke-width="1.15" fill="none"/>
<circle cx="159.30" cy="478.80" r="2.35" stroke="#b81c3a" stroke-width="1.15" fill="none"/>
<circle cx="159.30" cy="485.52" r="2.35" stroke="#b81c3a" stroke-width="1.15" fill="none"/>
<circle cx="157.50" cy="493.50" r="2.35" stroke="#b81c3a" stroke-width="1.15" fill="none"/>
<circle cx="161.00" cy="493.92" r="2.35" stroke="#b81c3a" stroke-width="1.15" fill="none"/>
<circle cx="159.30" cy="491.40" r="2.35" stroke="#b81c3a" stroke-width="1.15" fill="none"/>
<circle cx="188.00" cy="464.52" r="2.35" stroke="#b81c3a" stroke-width="1.15" fill="none"/>
<circle cx="187.50" cy="478.80" r="2.35" stroke="#b81c3a" stroke-width="1.15" fill="none"/>
<circle cx="189.50" cy="481.32" r="2.35" stroke="#b81c3a" stroke-width="1.15" fill="none"/>
<circle cx="188.00" cy="485.94" r="2.35" stroke="#b81c3a" stroke-width="1.15" fill="none"/>
<circle cx="188.00" cy="494.34" r="2.35" stroke="#b81c3a" stroke-width="1.15" fill="none"/>
<circle cx="186.80" cy="483.00" r="2.35" stroke="#b81c3a" stroke-width="1.15" fill="none"/>
<circle cx="218.80" cy="469.14" r="2.35" stroke="#b81c3a" stroke-width="1.15" fill="none"/>
<circle cx="216.50" cy="474.60" r="2.35" stroke="#b81c3a" stroke-width="1.15" fill="none"/>
<circle cx="219.80" cy="476.70" r="2.35" stroke="#b81c3a" stroke-width="1.15" fill="none"/>
<circle cx="217.00" cy="480.90" r="2.35" stroke="#b81c3a" stroke-width="1.15" fill="none"/>
<circle cx="219.50" cy="484.68" r="2.35" stroke="#b81c3a" stroke-width="1.15" fill="none"/>
<circle cx="217.50" cy="490.14" r="2.35" stroke="#b81c3a" stroke-width="1.15" fill="none"/>
<rect x="167.85" y="459.85" width="4.3" height="4.3" stroke="#28497a" stroke-width="1.15" fill="none"/>
<rect x="167.85" y="473.29" width="4.3" height="4.3" stroke="#28497a" stroke-width="1.15" fill="none"/>
<rect x="165.85" y="482.95" width="4.3" height="4.3" stroke="#28497a" stroke-width="1.15" fill="none"/>
<rect x="169.65" y="482.95" width="4.3" height="4.3" stroke="#28497a" stroke-width="1.15" fill="none"/>
<rect x="168.85" y="478.75" width="4.3" height="4.3" stroke="#28497a" stroke-width="1.15" fill="none"/>
<rect x="167.85" y="494.71" width="4.3" height="4.3" stroke="#28497a" stroke-width="1.15" fill="none"/>
<rect x="197.15" y="452.71" width="4.3" height="4.3" stroke="#28497a" stroke-width="1.15" fill="none"/>
<rect x="197.15" y="462.37" width="4.3" height="4.3" stroke="#28497a" stroke-width="1.15" fill="none"/>
<rect x="196.05" y="466.15" width="4.3" height="4.3" stroke="#28497a" stroke-width="1.15" fill="none"/>
<rect x="198.45" y="466.99" width="4.3" height="4.3" stroke="#28497a" stroke-width="1.15" fill="none"/>
<rect x="197.15" y="487.99" width="4.3" height="4.3" stroke="#28497a" stroke-width="1.15" fill="none"/>
<rect x="226.15" y="466.99" width="4.3" height="4.3" stroke="#28497a" stroke-width="1.15" fill="none"/>
<rect x="226.15" y="470.35" width="4.3" height="4.3" stroke="#28497a" stroke-width="1.15" fill="none"/>
<rect x="225.15" y="477.91" width="4.3" height="4.3" stroke="#28497a" stroke-width="1.15" fill="none"/>
<rect x="227.15" y="479.17" width="4.3" height="4.3" stroke="#28497a" stroke-width="1.15" fill="none"/>
<rect x="226.15" y="475.81" width="4.3" height="4.3" stroke="#28497a" stroke-width="1.15" fill="none"/>
<g transform="translate(164.50 519.90) scale(0.9 1)"><text x="0" y="0" font-size="7.0" text-anchor="middle" fill="#2a2a2a" font-weight="normal" stroke="#2a2a2a" stroke-width="0.07">Spleen</text></g>
<g transform="translate(192.10 519.90) scale(0.9 1)"><text x="0" y="0" font-size="7.0" text-anchor="middle" fill="#2a2a2a" font-weight="normal" stroke="#2a2a2a" stroke-width="0.07">Liver</text></g>
<g transform="translate(222.90 519.90) scale(0.9 1)"><text x="0" y="0" font-size="7.0" text-anchor="middle" fill="#2a2a2a" font-weight="normal" stroke="#2a2a2a" stroke-width="0.07">Lung</text></g>
<text x="132.30" y="466.70" font-size="7.6" text-anchor="middle" fill="#2a2a2a" font-weight="normal" textLength="53" lengthAdjust="spacingAndGlyphs" transform="rotate(-90 132.30 466.70)" stroke="#2a2a2a" stroke-width="0.07">% Memory B cells</text>
<circle cx="181.10" cy="426.70" r="2.4" stroke="#b81c3a" stroke-width="1.0" fill="white"/>
<g transform="translate(186.60 429.40) scale(0.92 1)"><text x="0" y="0" font-size="7.4" text-anchor="start" fill="#2a2a2a" font-weight="normal" stroke="#2a2a2a" stroke-width="0.07">WT-T</text></g>
<rect x="178.95" y="436.25" width="4.3" height="4.3" stroke="#28497a" stroke-width="1.0" fill="white"/>
<g transform="translate(186.60 439.90) scale(1.0 1)"><text x="0" y="0" font-size="7.4" text-anchor="start" fill="#2a2a2a" font-weight="normal" stroke="#2a2a2a" stroke-width="0.07">T-bet<tspan dy="-2.7" font-size="5.4">–/–</tspan><tspan dy="2.7">-T</tspan></text></g>
<rect x="278.90" y="490.78" width="6.60" height="17.82" fill="#e6887d" stroke="none" stroke-width="1"/>
<rect x="289.60" y="474.61" width="6.50" height="33.99" fill="#8a99be" stroke="none" stroke-width="1"/>
<rect x="307.60" y="492.02" width="6.60" height="16.58" fill="#e6887d" stroke="none" stroke-width="1"/>
<rect x="317.90" y="492.85" width="6.90" height="15.75" fill="#8a99be" stroke="none" stroke-width="1"/>
<rect x="336.70" y="506.11" width="6.20" height="2.49" fill="#e6887d" stroke="none" stroke-width="1"/>
<rect x="347.00" y="506.11" width="6.10" height="2.49" fill="#8a99be" stroke="none" stroke-width="1"/>
<line x1="273.40" y1="508.60" x2="274.60" y2="508.60" stroke="#1e1e1e" stroke-width="0.6"/>
<line x1="273.40" y1="504.46" x2="274.60" y2="504.46" stroke="#1e1e1e" stroke-width="0.6"/>
<line x1="273.40" y1="500.31" x2="274.60" y2="500.31" stroke="#1e1e1e" stroke-width="0.6"/>
<line x1="273.40" y1="496.17" x2="274.60" y2="496.17" stroke="#1e1e1e" stroke-width="0.6"/>
<line x1="273.40" y1="492.02" x2="274.60" y2="492.02" stroke="#1e1e1e" stroke-width="0.6"/>
<line x1="273.40" y1="487.88" x2="274.60" y2="487.88" stroke="#1e1e1e" stroke-width="0.6"/>
<line x1="273.40" y1="483.73" x2="274.60" y2="483.73" stroke="#1e1e1e" stroke-width="0.6"/>
<line x1="273.40" y1="479.59" x2="274.60" y2="479.59" stroke="#1e1e1e" stroke-width="0.6"/>
<line x1="273.40" y1="475.44" x2="274.60" y2="475.44" stroke="#1e1e1e" stroke-width="0.6"/>
<line x1="273.40" y1="471.30" x2="274.60" y2="471.30" stroke="#1e1e1e" stroke-width="0.6"/>
<line x1="273.40" y1="467.15" x2="274.60" y2="467.15" stroke="#1e1e1e" stroke-width="0.6"/>
<line x1="273.40" y1="463.01" x2="274.60" y2="463.01" stroke="#1e1e1e" stroke-width="0.6"/>
<line x1="273.40" y1="458.86" x2="274.60" y2="458.86" stroke="#1e1e1e" stroke-width="0.6"/>
<line x1="273.40" y1="454.72" x2="274.60" y2="454.72" stroke="#1e1e1e" stroke-width="0.6"/>
<line x1="273.40" y1="450.57" x2="274.60" y2="450.57" stroke="#1e1e1e" stroke-width="0.6"/>
<line x1="273.40" y1="446.43" x2="274.60" y2="446.43" stroke="#1e1e1e" stroke-width="0.6"/>
<line x1="273.40" y1="442.28" x2="274.60" y2="442.28" stroke="#1e1e1e" stroke-width="0.6"/>
<line x1="273.40" y1="438.14" x2="274.60" y2="438.14" stroke="#1e1e1e" stroke-width="0.6"/>
<line x1="273.40" y1="433.99" x2="274.60" y2="433.99" stroke="#1e1e1e" stroke-width="0.6"/>
<line x1="273.40" y1="429.85" x2="274.60" y2="429.85" stroke="#1e1e1e" stroke-width="0.6"/>
<line x1="273.40" y1="425.70" x2="274.60" y2="425.70" stroke="#1e1e1e" stroke-width="0.6"/>
<line x1="274.60" y1="424.80" x2="274.60" y2="508.60" stroke="#1e1e1e" stroke-width="1.0"/>
<line x1="271.30" y1="508.60" x2="274.60" y2="508.60" stroke="#1e1e1e" stroke-width="1.0"/>
<g transform="translate(268.30 511.11) scale(0.87 1)"><text x="0" y="0" font-size="7.0" text-anchor="end" fill="#2a2a2a" font-weight="normal" stroke="#2a2a2a" stroke-width="0.07">0.0</text></g>
<line x1="271.30" y1="492.02" x2="274.60" y2="492.02" stroke="#1e1e1e" stroke-width="1.0"/>
<g transform="translate(268.30 494.53) scale(0.87 1)"><text x="0" y="0" font-size="7.0" text-anchor="end" fill="#2a2a2a" font-weight="normal" stroke="#2a2a2a" stroke-width="0.07">0.2</text></g>
<line x1="271.30" y1="475.44" x2="274.60" y2="475.44" stroke="#1e1e1e" stroke-width="1.0"/>
<g transform="translate(268.30 477.95) scale(0.87 1)"><text x="0" y="0" font-size="7.0" text-anchor="end" fill="#2a2a2a" font-weight="normal" stroke="#2a2a2a" stroke-width="0.07">0.4</text></g>
<line x1="271.30" y1="458.86" x2="274.60" y2="458.86" stroke="#1e1e1e" stroke-width="1.0"/>
<g transform="translate(268.30 461.37) scale(0.87 1)"><text x="0" y="0" font-size="7.0" text-anchor="end" fill="#2a2a2a" font-weight="normal" stroke="#2a2a2a" stroke-width="0.07">0.6</text></g>
<line x1="271.30" y1="442.28" x2="274.60" y2="442.28" stroke="#1e1e1e" stroke-width="1.0"/>
<g transform="translate(268.30 444.79) scale(0.87 1)"><text x="0" y="0" font-size="7.0" text-anchor="end" fill="#2a2a2a" font-weight="normal" stroke="#2a2a2a" stroke-width="0.07">0.8</text></g>
<line x1="271.30" y1="425.70" x2="274.60" y2="425.70" stroke="#1e1e1e" stroke-width="1.0"/>
<g transform="translate(268.30 428.21) scale(0.87 1)"><text x="0" y="0" font-size="7.0" text-anchor="end" fill="#2a2a2a" font-weight="normal" stroke="#2a2a2a" stroke-width="0.07">1.0</text></g>
<line x1="274.60" y1="508.60" x2="357.20" y2="508.60" stroke="#1e1e1e" stroke-width="1.0"/>
<line x1="287.30" y1="508.60" x2="287.30" y2="510.90" stroke="#1e1e1e" stroke-width="0.9"/>
<line x1="316.20" y1="508.60" x2="316.20" y2="510.90" stroke="#1e1e1e" stroke-width="0.9"/>
<line x1="344.90" y1="508.60" x2="344.90" y2="510.90" stroke="#1e1e1e" stroke-width="0.9"/>
<line x1="292.90" y1="474.61" x2="292.90" y2="469.64" stroke="#28497a" stroke-width="0.9"/>
<line x1="291.40" y1="469.64" x2="294.40" y2="469.64" stroke="#28497a" stroke-width="0.9"/>
<line x1="321.40" y1="492.85" x2="321.40" y2="480.41" stroke="#28497a" stroke-width="0.9"/>
<line x1="319.90" y1="480.41" x2="322.90" y2="480.41" stroke="#28497a" stroke-width="0.9"/>
<circle cx="281.80" cy="482.90" r="2.35" stroke="#b81c3a" stroke-width="1.15" fill="none"/>
<circle cx="281.80" cy="485.39" r="2.35" stroke="#b81c3a" stroke-width="1.15" fill="none"/>
<circle cx="281.80" cy="488.70" r="2.35" stroke="#b81c3a" stroke-width="1.15" fill="none"/>
<circle cx="280.30" cy="492.02" r="2.35" stroke="#b81c3a" stroke-width="1.15" fill="none"/>
<circle cx="283.30" cy="492.85" r="2.35" stroke="#b81c3a" stroke-width="1.15" fill="none"/>
<circle cx="281.80" cy="494.51" r="2.35" stroke="#b81c3a" stroke-width="1.15" fill="none"/>
<circle cx="310.50" cy="478.76" r="2.35" stroke="#b81c3a" stroke-width="1.15" fill="none"/>
<circle cx="310.50" cy="485.39" r="2.35" stroke="#b81c3a" stroke-width="1.15" fill="none"/>
<circle cx="310.00" cy="488.70" r="2.35" stroke="#b81c3a" stroke-width="1.15" fill="none"/>
<circle cx="311.80" cy="489.53" r="2.35" stroke="#b81c3a" stroke-width="1.15" fill="none"/>
<circle cx="309.50" cy="493.68" r="2.35" stroke="#b81c3a" stroke-width="1.15" fill="none"/>
<circle cx="310.50" cy="496.99" r="2.35" stroke="#b81c3a" stroke-width="1.15" fill="none"/>
<circle cx="338.50" cy="503.63" r="2.35" stroke="#b81c3a" stroke-width="1.15" fill="none"/>
<circle cx="340.50" cy="504.46" r="2.35" stroke="#b81c3a" stroke-width="1.15" fill="none"/>
<circle cx="339.50" cy="506.11" r="2.35" stroke="#b81c3a" stroke-width="1.15" fill="none"/>
<circle cx="341.00" cy="506.94" r="2.35" stroke="#b81c3a" stroke-width="1.15" fill="none"/>
<rect x="290.95" y="458.37" width="4.3" height="4.3" stroke="#28497a" stroke-width="1.15" fill="none"/>
<rect x="289.65" y="465.00" width="4.3" height="4.3" stroke="#28497a" stroke-width="1.15" fill="none"/>
<rect x="292.45" y="466.66" width="4.3" height="4.3" stroke="#28497a" stroke-width="1.15" fill="none"/>
<rect x="290.95" y="473.29" width="4.3" height="4.3" stroke="#28497a" stroke-width="1.15" fill="none"/>
<rect x="290.95" y="479.09" width="4.3" height="4.3" stroke="#28497a" stroke-width="1.15" fill="none"/>
<rect x="290.95" y="488.21" width="4.3" height="4.3" stroke="#28497a" stroke-width="1.15" fill="none"/>
<rect x="319.25" y="455.05" width="4.3" height="4.3" stroke="#28497a" stroke-width="1.15" fill="none"/>
<rect x="319.25" y="473.29" width="4.3" height="4.3" stroke="#28497a" stroke-width="1.15" fill="none"/>
<rect x="319.25" y="488.21" width="4.3" height="4.3" stroke="#28497a" stroke-width="1.15" fill="none"/>
<rect x="317.85" y="490.70" width="4.3" height="4.3" stroke="#28497a" stroke-width="1.15" fill="none"/>
<rect x="320.65" y="490.70" width="4.3" height="4.3" stroke="#28497a" stroke-width="1.15" fill="none"/>
<rect x="319.25" y="503.13" width="4.3" height="4.3" stroke="#28497a" stroke-width="1.15" fill="none"/>
<rect x="347.35" y="502.31" width="4.3" height="4.3" stroke="#28497a" stroke-width="1.15" fill="none"/>
<rect x="348.85" y="503.13" width="4.3" height="4.3" stroke="#28497a" stroke-width="1.15" fill="none"/>
<rect x="347.85" y="504.79" width="4.3" height="4.3" stroke="#28497a" stroke-width="1.15" fill="none"/>
<rect x="349.35" y="503.96" width="4.3" height="4.3" stroke="#28497a" stroke-width="1.15" fill="none"/>
<line x1="281.40" y1="454.30" x2="291.60" y2="454.30" stroke="#3a3a3a" stroke-width="1.2"/>
<circle cx="286.50" cy="450.60" r="1.0" fill="#1a1a1a"/>
<g transform="translate(287.50 519.90) scale(0.9 1)"><text x="0" y="0" font-size="7.0" text-anchor="middle" fill="#2a2a2a" font-weight="normal" stroke="#2a2a2a" stroke-width="0.07">Spleen</text></g>
<g transform="translate(316.20 519.90) scale(0.9 1)"><text x="0" y="0" font-size="7.0" text-anchor="middle" fill="#2a2a2a" font-weight="normal" stroke="#2a2a2a" stroke-width="0.07">Liver</text></g>
<g transform="translate(343.90 519.90) scale(0.9 1)"><text x="0" y="0" font-size="7.0" text-anchor="middle" fill="#2a2a2a" font-weight="normal" stroke="#2a2a2a" stroke-width="0.07">Lung</text></g>
<text x="255.00" y="467.20" font-size="7.6" text-anchor="middle" fill="#2a2a2a" font-weight="normal" textLength="45" lengthAdjust="spacingAndGlyphs" transform="rotate(-90 255.00 467.20)" stroke="#2a2a2a" stroke-width="0.07">% Plasma cells</text>
</svg>
</body></html>
